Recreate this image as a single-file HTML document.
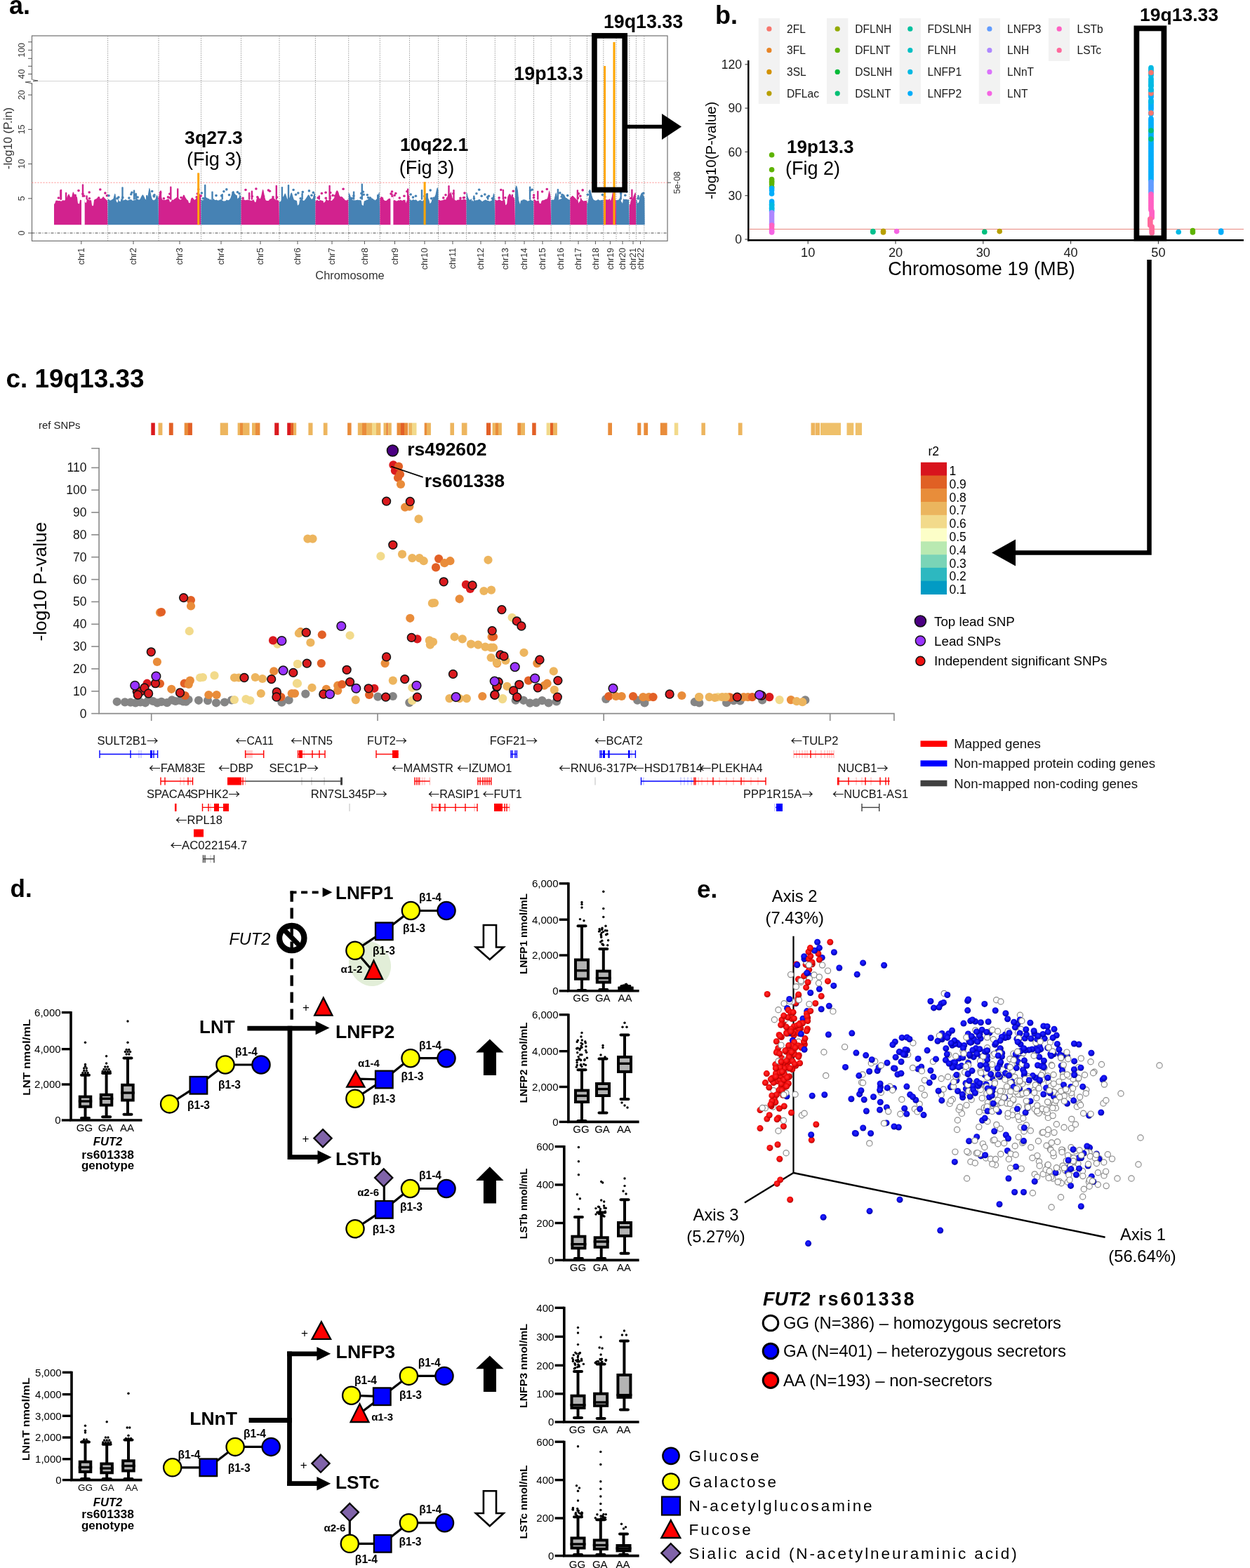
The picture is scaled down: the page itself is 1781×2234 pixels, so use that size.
<!DOCTYPE html>
<html><head><meta charset="utf-8"><title>Figure</title>
<style>html,body{margin:0;padding:0;background:#fff;}svg{display:block;}
text{font-family:"Liberation Sans", Arial, sans-serif;}</style></head>
<body><svg width="1781" height="2234" viewBox="0 0 1781 2234">
<rect width="1781" height="2234" fill="#fff"/>
<text x="13" y="20" font-size="36" font-weight="bold">a.</text>
<rect x="45.5" y="51" width="905.5" height="292.3" fill="none" stroke="#707070" stroke-width="1.2"/>
<line x1="45.5" y1="115.6" x2="951" y2="115.6" stroke="#d4d4d4" stroke-width="1"/>
<line x1="153.6" y1="51" x2="153.6" y2="343.3" stroke="#888" stroke-width="0.8" stroke-dasharray="1.5,1.5"/>
<line x1="226" y1="51" x2="226" y2="343.3" stroke="#888" stroke-width="0.8" stroke-dasharray="1.5,1.5"/>
<line x1="286.5" y1="51" x2="286.5" y2="343.3" stroke="#888" stroke-width="0.8" stroke-dasharray="1.5,1.5"/>
<line x1="343.5" y1="51" x2="343.5" y2="343.3" stroke="#888" stroke-width="0.8" stroke-dasharray="1.5,1.5"/>
<line x1="398" y1="51" x2="398" y2="343.3" stroke="#888" stroke-width="0.8" stroke-dasharray="1.5,1.5"/>
<line x1="449.4" y1="51" x2="449.4" y2="343.3" stroke="#888" stroke-width="0.8" stroke-dasharray="1.5,1.5"/>
<line x1="496.7" y1="51" x2="496.7" y2="343.3" stroke="#888" stroke-width="0.8" stroke-dasharray="1.5,1.5"/>
<line x1="541.3" y1="51" x2="541.3" y2="343.3" stroke="#888" stroke-width="0.8" stroke-dasharray="1.5,1.5"/>
<line x1="583.5" y1="51" x2="583.5" y2="343.3" stroke="#888" stroke-width="0.8" stroke-dasharray="1.5,1.5"/>
<line x1="624.5" y1="51" x2="624.5" y2="343.3" stroke="#888" stroke-width="0.8" stroke-dasharray="1.5,1.5"/>
<line x1="664.6" y1="51" x2="664.6" y2="343.3" stroke="#888" stroke-width="0.8" stroke-dasharray="1.5,1.5"/>
<line x1="705.3" y1="51" x2="705.3" y2="343.3" stroke="#888" stroke-width="0.8" stroke-dasharray="1.5,1.5"/>
<line x1="734" y1="51" x2="734" y2="343.3" stroke="#888" stroke-width="0.8" stroke-dasharray="1.5,1.5"/>
<line x1="760.5" y1="51" x2="760.5" y2="343.3" stroke="#888" stroke-width="0.8" stroke-dasharray="1.5,1.5"/>
<line x1="785.2" y1="51" x2="785.2" y2="343.3" stroke="#888" stroke-width="0.8" stroke-dasharray="1.5,1.5"/>
<line x1="812.3" y1="51" x2="812.3" y2="343.3" stroke="#888" stroke-width="0.8" stroke-dasharray="1.5,1.5"/>
<line x1="836.4" y1="51" x2="836.4" y2="343.3" stroke="#888" stroke-width="0.8" stroke-dasharray="1.5,1.5"/>
<line x1="859.8" y1="51" x2="859.8" y2="343.3" stroke="#888" stroke-width="0.8" stroke-dasharray="1.5,1.5"/>
<line x1="878" y1="51" x2="878" y2="343.3" stroke="#888" stroke-width="0.8" stroke-dasharray="1.5,1.5"/>
<line x1="896.8" y1="51" x2="896.8" y2="343.3" stroke="#888" stroke-width="0.8" stroke-dasharray="1.5,1.5"/>
<line x1="906.4" y1="51" x2="906.4" y2="343.3" stroke="#888" stroke-width="0.8" stroke-dasharray="1.5,1.5"/>
<line x1="917.8" y1="51" x2="917.8" y2="343.3" stroke="#888" stroke-width="0.8" stroke-dasharray="1.5,1.5"/>
<path d="M77 320.2 L77 286.2 L78 285.6 L79 285.9 L80 285.4 L81 285.8 L82 285.8 L83 285.9 L84 286.3 L85 285.8 L86 286.4 L87 286.4 L88 286.4 L89 285.2 L90 285.2 L91 285.5 L92 285.7 L93 284.3 L94 283.1 L95 281.9 L96 279.5 L97 277.8 L98 276.1 L99 278.1 L100 280.3 L101 283 L102 281.9 L103 276.7 L104 273.3 L105 274.2 L106 277.3 L107 278.2 L108 278.4 L109 279.7 L110 281.3 L111 289.7 L112 290.1 L113 290.6 L114 284.6 L115 285 L116 285.1 L117 284.9 L118 284.1 L119 282.8 L120 281.9 L121 288.1 L122 288.8 L123 288.8 L124 283.2 L125 284.1 L126 284.2 L127 285.2 L128 285 L129 285.3 L130 285.3 L131 292.4 L132 293.4 L133 292.7 L134 285 L135 284.2 L136 283.6 L137 283.6 L138 282.4 L139 281.7 L140 280.8 L141 281.7 L142 282.4 L143 282.9 L144 283.2 L145 282.4 L146 281.4 L147 279.7 L148 281.1 L149 282.1 L150 283.2 L151 284.1 L152 285 L153 285.7 L153.6 320.2 Z" fill="#D2228E"/>
<g fill="#D2228E"><circle cx="106.1" cy="281.3" r="1.8"/><circle cx="83.4" cy="282" r="1.8"/><circle cx="127.4" cy="282.8" r="1.8"/><circle cx="140.7" cy="281.7" r="1.8"/><circle cx="98.6" cy="282" r="1.8"/><circle cx="117.9" cy="276.2" r="1.8"/><circle cx="101.4" cy="282.2" r="1.8"/><circle cx="142.8" cy="270" r="1.8"/><circle cx="127.2" cy="274" r="1.8"/><circle cx="112" cy="271.6" r="1.8"/><circle cx="149.9" cy="275.1" r="1.8"/><circle cx="119.8" cy="279.3" r="1.8"/><circle cx="107.2" cy="278.2" r="1.8"/><circle cx="107.7" cy="281.7" r="1.8"/><circle cx="152.4" cy="278.8" r="1.8"/><rect x="85.8" y="269.7" width="2.4" height="15" rx="1.2"/><rect x="85.2" y="270.4" width="2.4" height="14.4" rx="1.2"/><rect x="116.8" y="262.3" width="2.4" height="22.4" rx="1.2"/><rect x="122.4" y="278.3" width="2.4" height="6.5" rx="1.2"/><rect x="92.9" y="273.9" width="2.4" height="10.9" rx="1.2"/></g>
<path d="M153.6 320.2 L153.6 283.7 L154.6 284 L155.6 284.2 L156.6 285.5 L157.6 285.6 L158.6 284.9 L159.6 284.2 L160.6 283.8 L161.6 282.7 L162.6 278.3 L163.6 275.4 L164.6 277 L165.6 286.2 L166.6 288.3 L167.6 288.5 L168.6 281.9 L169.6 286.9 L170.6 286.5 L171.6 287.4 L172.6 282.6 L173.6 283.8 L174.6 284.5 L175.6 285.6 L176.6 284.9 L177.6 285.1 L178.6 283.9 L179.6 284.6 L180.6 285 L181.6 285.6 L182.6 285.4 L183.6 284.7 L184.6 284.6 L185.6 284.2 L186.6 284 L187.6 284.7 L188.6 285.5 L189.6 286 L190.6 285.1 L191.6 285.2 L192.6 285 L193.6 285.1 L194.6 284 L195.6 283.5 L196.6 283.8 L197.6 284.8 L198.6 284.6 L199.6 283.8 L200.6 281.5 L201.6 279.5 L202.6 278 L203.6 277.2 L204.6 278.7 L205.6 280.6 L206.6 283.1 L207.6 284.2 L208.6 284.3 L209.6 283 L210.6 279.1 L211.6 273 L212.6 267.5 L213.6 269 L214.6 273.9 L215.6 279.5 L216.6 283 L217.6 284.7 L218.6 285.3 L219.6 285.3 L220.6 284.4 L221.6 283.5 L222.6 279.2 L223.6 277.7 L224.6 279.6 L225.6 283.5 L226 320.2 Z" fill="#4682B4"/>
<g fill="#4682B4"><circle cx="216.7" cy="272.5" r="1.8"/><circle cx="168.9" cy="281.1" r="1.8"/><circle cx="174.8" cy="281.2" r="1.8"/><circle cx="196.1" cy="281" r="1.8"/><circle cx="183.9" cy="282.1" r="1.8"/><circle cx="219.5" cy="279.9" r="1.8"/><circle cx="186.8" cy="276.7" r="1.8"/><circle cx="219.1" cy="279" r="1.8"/><circle cx="220" cy="277.9" r="1.8"/><circle cx="192.1" cy="277.6" r="1.8"/><circle cx="155" cy="278.8" r="1.8"/><circle cx="166.9" cy="282.8" r="1.8"/><circle cx="211.5" cy="281.8" r="1.8"/><circle cx="187.9" cy="274.3" r="1.8"/><rect x="192.5" y="274.7" width="2.4" height="10" rx="1.2"/><rect x="189.9" y="270.6" width="2.4" height="14.2" rx="1.2"/><rect x="208" y="277.9" width="2.4" height="6.9" rx="1.2"/><rect x="192.7" y="276" width="2.4" height="8.8" rx="1.2"/><rect x="173.3" y="266.2" width="2.4" height="18.6" rx="1.2"/></g>
<path d="M226 320.2 L226 281 L227 276.1 L228 273 L229 275.7 L230 280.5 L231 283.9 L232 284.7 L233 284.7 L234 284.8 L235 284.8 L236 285.1 L237 284.3 L238 284.1 L239 283.5 L240 283.5 L241 284.2 L242 287.8 L243 287.8 L244 286.9 L245 284 L246 284.9 L247 284.8 L248 284 L249 282.9 L250 282.7 L251 281.5 L252 281 L253 280.5 L254 282.2 L255 283.2 L256 284.2 L257 284.6 L258 284.2 L259 282.9 L260 280.7 L261 278 L262 277.6 L263 278.4 L264 281 L265 282.4 L266 283.9 L267 285.1 L268 285.6 L269 289.1 L270 289.2 L271 288.8 L272 283.2 L273 282.1 L274 281.2 L275 282.2 L276 283.4 L277 284.7 L278 284.6 L279 283.3 L280 282.4 L281 280 L282 277.7 L283 274.8 L284 275.5 L285 276.9 L286 279.6 L286.5 320.2 Z" fill="#D2228E"/>
<g fill="#D2228E"><circle cx="280.2" cy="280.9" r="1.8"/><circle cx="227" cy="282.4" r="1.8"/><circle cx="241.8" cy="276.3" r="1.8"/><circle cx="239.5" cy="280.9" r="1.8"/><circle cx="233.4" cy="282.8" r="1.8"/><circle cx="286.2" cy="279.1" r="1.8"/><circle cx="281.4" cy="276" r="1.8"/><circle cx="228.6" cy="274.6" r="1.8"/><circle cx="282.8" cy="269.7" r="1.8"/><circle cx="241.8" cy="281.7" r="1.8"/><circle cx="282.4" cy="275.9" r="1.8"/><circle cx="258.1" cy="281.5" r="1.8"/><rect x="252" y="268.3" width="2.4" height="16.5" rx="1.2"/><rect x="242.1" y="265.5" width="2.4" height="19.2" rx="1.2"/><rect x="283" y="278.6" width="2.4" height="6.1" rx="1.2"/><rect x="227.8" y="271.6" width="2.4" height="13.2" rx="1.2"/></g>
<path d="M286.5 320.2 L286.5 283.9 L287.5 284.7 L288.5 285.4 L289.5 285.1 L290.5 284.3 L291.5 283.4 L292.5 282.4 L293.5 280.6 L294.5 281.9 L295.5 281.7 L296.5 283.3 L297.5 282.6 L298.5 284.2 L299.5 284.3 L300.5 284.2 L301.5 284.5 L302.5 284.5 L303.5 284.1 L304.5 283.1 L305.5 284.5 L306.5 285 L307.5 285 L308.5 284.4 L309.5 285.2 L310.5 285.5 L311.5 285.6 L312.5 284.9 L313.5 284.5 L314.5 284.2 L315.5 283.9 L316.5 285.3 L317.5 285.9 L318.5 286.5 L319.5 286.6 L320.5 286.3 L321.5 286.2 L322.5 284.7 L323.5 284.8 L324.5 285.2 L325.5 285.2 L326.5 284.8 L327.5 283.4 L328.5 281.9 L329.5 278.8 L330.5 275.2 L331.5 272.5 L332.5 272.1 L333.5 272.9 L334.5 275.9 L335.5 276.8 L336.5 278.6 L337.5 277.6 L338.5 283.5 L339.5 281.9 L340.5 281.6 L341.5 276.8 L342.5 278.3 L343.5 281 L343.5 320.2 Z" fill="#4682B4"/>
<g fill="#4682B4"><circle cx="315.7" cy="278.9" r="1.8"/><circle cx="326.5" cy="277.8" r="1.8"/><circle cx="338.4" cy="273.8" r="1.8"/><circle cx="318.9" cy="272.7" r="1.8"/><circle cx="287.4" cy="275" r="1.8"/><circle cx="332" cy="274.5" r="1.8"/><circle cx="341" cy="275.7" r="1.8"/><circle cx="291.4" cy="282.7" r="1.8"/><circle cx="322.8" cy="269.9" r="1.8"/><circle cx="308" cy="278.6" r="1.8"/><circle cx="289.4" cy="282.8" r="1.8"/><rect x="315.5" y="276" width="2.4" height="8.7" rx="1.2"/><rect x="301.3" y="272.5" width="2.4" height="12.3" rx="1.2"/><rect x="291" y="262.7" width="2.4" height="22.1" rx="1.2"/><rect x="334.9" y="278.1" width="2.4" height="6.7" rx="1.2"/></g>
<path d="M343.5 320.2 L343.5 284.4 L344.5 284.7 L345.5 284.2 L346.5 284.1 L347.5 284.4 L348.5 284.5 L349.5 285.4 L350.5 284.8 L351.5 285.2 L352.5 284.3 L353.5 285.2 L354.5 284.5 L355.5 285.3 L356.5 285.4 L357.5 285.8 L358.5 285.9 L359.5 285 L360.5 285.2 L361.5 284.1 L362.5 286.7 L363.5 288.2 L364.5 287.8 L365.5 283.7 L366.5 280.6 L367.5 279.7 L368.5 281.1 L369.5 282.5 L370.5 283.6 L371.5 281.6 L372.5 277.8 L373.5 272.4 L374.5 269.5 L375.5 271.4 L376.5 276.9 L377.5 281.8 L378.5 285 L379.5 285.8 L380.5 285.9 L381.5 286 L382.5 285.9 L383.5 284.9 L384.5 283.5 L385.5 283.5 L386.5 283 L387.5 281.9 L388.5 280.9 L389.5 281.4 L390.5 282.4 L391.5 283.6 L392.5 284.4 L393.5 285.2 L394.5 284.8 L395.5 285 L396.5 285.7 L397.5 286.4 L398 320.2 Z" fill="#D2228E"/>
<g fill="#D2228E"><circle cx="384.4" cy="272.2" r="1.8"/><circle cx="350" cy="270.5" r="1.8"/><circle cx="382.4" cy="271" r="1.8"/><circle cx="359.3" cy="279.7" r="1.8"/><circle cx="364.9" cy="269" r="1.8"/><circle cx="375.6" cy="279.8" r="1.8"/><circle cx="366.8" cy="280.8" r="1.8"/><circle cx="346.1" cy="282.4" r="1.8"/><circle cx="389" cy="280.7" r="1.8"/><circle cx="394.5" cy="281.1" r="1.8"/><rect x="357.7" y="271.5" width="2.4" height="13.3" rx="1.2"/><rect x="353.9" y="273.9" width="2.4" height="10.8" rx="1.2"/><rect x="392.6" y="263.8" width="2.4" height="21" rx="1.2"/></g>
<path d="M398 320.2 L398 287.6 L399 287.3 L400 287 L401 283.3 L402 282.8 L403 282.4 L404 279.5 L405 277.4 L406 275.3 L407 276.5 L408 279.3 L409 282.8 L410 284 L411 284.4 L412 282.4 L413 280.2 L414 276.3 L415 274.3 L416 275 L417 278.7 L418 282 L419 284.7 L420 284.8 L421 285.4 L422 285.6 L423 286.2 L424 292.9 L425 291.8 L426 291.3 L427 284.8 L428 284.8 L429 284.1 L430 283.7 L431 284.8 L432 285.8 L433 286 L434 285 L435 284.1 L436 282.4 L437 281.1 L438 279.2 L439 277.8 L440 277.5 L441 278.9 L442 281.1 L443 282.8 L444 283.7 L445 283.5 L446 281.8 L447 277.8 L448 274.7 L449 276.1 L449.4 320.2 Z" fill="#4682B4"/>
<g fill="#4682B4"><circle cx="444" cy="278.3" r="1.8"/><circle cx="428.2" cy="282.8" r="1.8"/><circle cx="418.1" cy="270.5" r="1.8"/><circle cx="440.4" cy="271.9" r="1.8"/><circle cx="448" cy="281.1" r="1.8"/><circle cx="403.6" cy="282" r="1.8"/><circle cx="424.8" cy="275" r="1.8"/><circle cx="446.4" cy="274.4" r="1.8"/><circle cx="431.3" cy="273.6" r="1.8"/><circle cx="421.5" cy="277.2" r="1.8"/><rect x="400.7" y="266" width="2.4" height="18.8" rx="1.2"/><rect x="409.8" y="263" width="2.4" height="21.8" rx="1.2"/><rect x="429.4" y="275.1" width="2.4" height="9.7" rx="1.2"/></g>
<path d="M449.4 320.2 L449.4 286.4 L450.4 285.7 L451.4 284.9 L452.4 285.1 L453.4 285.9 L454.4 286.2 L455.4 285.5 L456.4 285 L457.4 285.5 L458.4 285.4 L459.4 286 L460.4 285.9 L461.4 289.2 L462.4 287.8 L463.4 287.2 L464.4 283.6 L465.4 284.3 L466.4 284.9 L467.4 285.8 L468.4 285.1 L469.4 284.4 L470.4 284.3 L471.4 285.7 L472.4 285.9 L473.4 285.2 L474.4 284.1 L475.4 283.3 L476.4 281.2 L477.4 277.4 L478.4 273.8 L479.4 271.7 L480.4 271.3 L481.4 272.3 L482.4 274.3 L483.4 277.9 L484.4 279.8 L485.4 280.5 L486.4 279.8 L487.4 280.5 L488.4 281 L489.4 282.8 L490.4 283.1 L491.4 284.9 L492.4 285.3 L493.4 285.4 L494.4 285.3 L495.4 284.3 L496.4 284.5 L496.7 320.2 Z" fill="#D2228E"/>
<g fill="#D2228E"><circle cx="477.6" cy="279.1" r="1.8"/><circle cx="483" cy="281.7" r="1.8"/><circle cx="470.7" cy="274.5" r="1.8"/><circle cx="464.3" cy="282.3" r="1.8"/><circle cx="453.2" cy="281.9" r="1.8"/><circle cx="458.4" cy="275.5" r="1.8"/><circle cx="474.2" cy="278.4" r="1.8"/><circle cx="464.1" cy="274.3" r="1.8"/><circle cx="489.1" cy="269.3" r="1.8"/><rect x="469.4" y="277.9" width="2.4" height="6.9" rx="1.2"/><rect x="453.6" y="278.2" width="2.4" height="6.6" rx="1.2"/><rect x="468.4" y="263.7" width="2.4" height="21" rx="1.2"/></g>
<path d="M496.7 320.2 L496.7 274.2 L497.7 275.5 L498.7 277.4 L499.7 280.6 L500.7 282 L501.7 284.4 L502.7 284.5 L503.7 285.6 L504.7 285.1 L505.7 285.5 L506.7 285.3 L507.7 285 L508.7 285 L509.7 284.5 L510.7 285.2 L511.7 285 L512.7 285.3 L513.7 285.2 L514.7 285.4 L515.7 292 L516.7 292.5 L517.7 292.9 L518.7 286.8 L519.7 286 L520.7 285.7 L521.7 285.3 L522.7 284.6 L523.7 284.8 L524.7 283.4 L525.7 282.6 L526.7 280.1 L527.7 280.3 L528.7 280.7 L529.7 282.4 L530.7 282.8 L531.7 283.3 L532.7 284.4 L533.7 284.4 L534.7 285.6 L535.7 284.2 L536.7 283.6 L537.7 280.7 L538.7 277.9 L539.7 274.8 L540.7 273.7 L541.3 320.2 Z" fill="#4682B4"/>
<g fill="#4682B4"><circle cx="517.3" cy="273.2" r="1.8"/><circle cx="523.3" cy="277.8" r="1.8"/><circle cx="514.2" cy="281.9" r="1.8"/><circle cx="514.9" cy="275.6" r="1.8"/><circle cx="518.2" cy="277.3" r="1.8"/><circle cx="503.9" cy="279" r="1.8"/><circle cx="501.4" cy="282.5" r="1.8"/><circle cx="524.6" cy="281.5" r="1.8"/><rect x="514.6" y="261.4" width="2.4" height="23.4" rx="1.2"/><rect x="537" y="277.1" width="2.4" height="7.7" rx="1.2"/><rect x="502.9" y="272.4" width="2.4" height="12.4" rx="1.2"/></g>
<path d="M541.3 320.2 L541.3 282.8 L542.3 280.9 L543.3 280.2 L544.3 280.3 L545.3 281.8 L546.3 283.9 L547.3 285.1 L548.3 286 L549.3 286 L550.3 285.9 L551.3 285.2 L552.3 284.3 L553.3 283.2 L554.3 282.9 L555.3 282.4 L556.3 283.6 L557.3 284.9 L558.3 286.3 L559.3 286.4 L560.3 285.7 L561.3 285.1 L562.3 285.3 L563.3 285.4 L564.3 286.3 L565.3 286.5 L566.3 285.9 L567.3 285.6 L568.3 284.9 L569.3 285.7 L570.3 284.7 L571.3 285 L572.3 285.5 L573.3 285.9 L574.3 285 L575.3 284.7 L576.3 285 L577.3 284.6 L578.3 289.5 L579.3 286.5 L580.3 284.1 L581.3 276 L582.3 277.7 L583.3 280.4 L583.5 320.2 Z" fill="#D2228E"/>
<g fill="#D2228E"><circle cx="579.9" cy="272.7" r="1.8"/><circle cx="575.9" cy="279.2" r="1.8"/><circle cx="557" cy="276.1" r="1.8"/><circle cx="544.6" cy="282.7" r="1.8"/><circle cx="562.2" cy="278.2" r="1.8"/><circle cx="558.5" cy="273" r="1.8"/><circle cx="569.3" cy="282" r="1.8"/><circle cx="563.8" cy="275.5" r="1.8"/><rect x="557.3" y="275.6" width="2.4" height="9.2" rx="1.2"/><rect x="579.9" y="268.4" width="2.4" height="16.4" rx="1.2"/><rect x="558.1" y="278.5" width="2.4" height="6.3" rx="1.2"/></g>
<path d="M583.5 320.2 L583.5 283.6 L584.5 284.2 L585.5 285.3 L586.5 285.5 L587.5 284.9 L588.5 284 L589.5 284.5 L590.5 285.1 L591.5 284.7 L592.5 284.6 L593.5 285 L594.5 286.2 L595.5 286.7 L596.5 286.1 L597.5 285.7 L598.5 284.7 L599.5 285.4 L600.5 285.8 L601.5 286.7 L602.5 285.8 L603.5 285.2 L604.5 284.5 L605.5 283.6 L606.5 280.9 L607.5 278 L608.5 277 L609.5 279.7 L610.5 283.2 L611.5 285.8 L612.5 290 L613.5 289.3 L614.5 288.1 L615.5 283.5 L616.5 283.7 L617.5 282.9 L618.5 282.6 L619.5 279.6 L620.5 277.4 L621.5 272.3 L622.5 268.1 L623.5 266.9 L624.5 271 L624.5 320.2 Z" fill="#4682B4"/>
<g fill="#4682B4"><circle cx="592.4" cy="279.3" r="1.8"/><circle cx="604.7" cy="279.5" r="1.8"/><circle cx="588.5" cy="281.1" r="1.8"/><circle cx="613.2" cy="271.1" r="1.8"/><circle cx="585.2" cy="277" r="1.8"/><circle cx="614.6" cy="282.7" r="1.8"/><circle cx="617.9" cy="282.2" r="1.8"/><circle cx="608.1" cy="277.2" r="1.8"/><rect x="607.5" y="275.1" width="2.4" height="9.7" rx="1.2"/><rect x="599.8" y="270.1" width="2.4" height="14.7" rx="1.2"/></g>
<path d="M624.5 320.2 L624.5 284.8 L625.5 285 L626.5 284.9 L627.5 285.9 L628.5 285.6 L629.5 285.6 L630.5 285.2 L631.5 285 L632.5 284.6 L633.5 284.1 L634.5 284.6 L635.5 284.1 L636.5 282.7 L637.5 279.8 L638.5 276.4 L639.5 278.5 L640.5 275.6 L641.5 275.4 L642.5 272.8 L643.5 277 L644.5 281.7 L645.5 283.2 L646.5 284.2 L647.5 284 L648.5 285.2 L649.5 285.6 L650.5 285.8 L651.5 284.5 L652.5 285.1 L653.5 284.4 L654.5 284.3 L655.5 283.4 L656.5 283.5 L657.5 284.7 L658.5 284.3 L659.5 284.8 L660.5 283.6 L661.5 283.7 L662.5 284.2 L663.5 284.5 L664.5 285.1 L664.6 320.2 Z" fill="#D2228E"/>
<g fill="#D2228E"><circle cx="661.4" cy="281.5" r="1.8"/><circle cx="635" cy="277.8" r="1.8"/><circle cx="637.3" cy="282.7" r="1.8"/><circle cx="631.8" cy="281.9" r="1.8"/><circle cx="662" cy="275.1" r="1.8"/><circle cx="660.4" cy="281.8" r="1.8"/><circle cx="656" cy="282.3" r="1.8"/><circle cx="645.8" cy="275.8" r="1.8"/><rect x="638.3" y="264" width="2.4" height="20.7" rx="1.2"/><rect x="645.3" y="270.1" width="2.4" height="14.6" rx="1.2"/></g>
<path d="M664.6 320.2 L664.6 273.8 L665.6 275.3 L666.6 280.1 L667.6 282.8 L668.6 284.2 L669.6 285 L670.6 283.9 L671.6 282.9 L672.6 286.8 L673.6 285 L674.6 287.3 L675.6 283.6 L676.6 285 L677.6 285.8 L678.6 284.8 L679.6 285.6 L680.6 284.7 L681.6 284.5 L682.6 284 L683.6 283.9 L684.6 284.9 L685.6 285.8 L686.6 286.7 L687.6 287 L688.6 286 L689.6 285.5 L690.6 284.9 L691.6 284.5 L692.6 285 L693.6 285.4 L694.6 285.7 L695.6 285.9 L696.6 286.2 L697.6 286.7 L698.6 286.5 L699.6 285.9 L700.6 285.4 L701.6 282.1 L702.6 277.4 L703.6 274.9 L704.6 277.7 L705.3 320.2 Z" fill="#4682B4"/>
<g fill="#4682B4"><circle cx="696.4" cy="279.3" r="1.8"/><circle cx="675.4" cy="282.8" r="1.8"/><circle cx="690.8" cy="277" r="1.8"/><circle cx="678.9" cy="275.7" r="1.8"/><circle cx="682.7" cy="270.3" r="1.8"/><circle cx="694.5" cy="281.1" r="1.8"/><circle cx="701.4" cy="282.7" r="1.8"/><circle cx="686.2" cy="279.2" r="1.8"/><rect x="674.1" y="278.4" width="2.4" height="6.3" rx="1.2"/><rect x="694" y="278.8" width="2.4" height="6" rx="1.2"/></g>
<path d="M705.3 320.2 L705.3 283.9 L706.3 284.8 L707.3 285.3 L708.3 285.8 L709.3 285.3 L710.3 284.6 L711.3 284.3 L712.3 284.8 L713.3 285.3 L714.3 286.1 L715.3 286.3 L716.3 285.4 L717.3 284.7 L718.3 283.7 L719.3 284.9 L720.3 292.3 L721.3 291.7 L722.3 289.9 L723.3 280.5 L724.3 278.6 L725.3 276.6 L726.3 276.2 L727.3 276.7 L728.3 278.7 L729.3 280.9 L730.3 282.4 L731.3 283.1 L732.3 283.3 L733.3 283.6 L734 320.2 Z" fill="#D2228E"/>
<g fill="#D2228E"><circle cx="713.8" cy="270.5" r="1.8"/><circle cx="731" cy="282.5" r="1.8"/><circle cx="719.9" cy="281.8" r="1.8"/><circle cx="731.3" cy="272.2" r="1.8"/><circle cx="711.1" cy="281.9" r="1.8"/><rect x="728.7" y="276.8" width="2.4" height="8" rx="1.2"/><rect x="715.7" y="269.7" width="2.4" height="15" rx="1.2"/></g>
<path d="M734 320.2 L734 268.7 L735 265.3 L736 264.3 L737 267.1 L738 272.2 L739 284.4 L740 288.3 L741 291.1 L742 285.8 L743 285.6 L744 285.4 L745 284.2 L746 284.4 L747 284.2 L748 284.6 L749 285 L750 285.3 L751 286.1 L752 286.8 L753 286.1 L754 285.9 L755 284.6 L756 284.5 L757 284.7 L758 285.9 L759 286 L760 285.5 L760.5 320.2 Z" fill="#4682B4"/>
<g fill="#4682B4"><circle cx="755.7" cy="271.2" r="1.8"/><circle cx="735.7" cy="271.7" r="1.8"/><circle cx="758.2" cy="270.2" r="1.8"/><circle cx="736.8" cy="281.5" r="1.8"/><circle cx="737" cy="282.7" r="1.8"/><rect x="753.9" y="265.4" width="2.4" height="19.4" rx="1.2"/></g>
<path d="M760.5 320.2 L760.5 284 L761.5 284.1 L762.5 284.7 L763.5 285.7 L764.5 286.5 L765.5 285.8 L766.5 285.7 L767.5 285.3 L768.5 289.6 L769.5 289.9 L770.5 290 L771.5 286.4 L772.5 285.4 L773.5 285.2 L774.5 285.2 L775.5 284.8 L776.5 284.5 L777.5 283.6 L778.5 283.8 L779.5 283.3 L780.5 280.8 L781.5 275.4 L782.5 270.9 L783.5 274.4 L784.5 279.9 L785.2 320.2 Z" fill="#D2228E"/>
<g fill="#D2228E"><circle cx="760.5" cy="281.5" r="1.8"/><circle cx="779.3" cy="269.5" r="1.8"/><circle cx="760.6" cy="278.1" r="1.8"/><circle cx="772.6" cy="273" r="1.8"/><rect x="765.1" y="271.8" width="2.4" height="13" rx="1.2"/></g>
<path d="M785.2 320.2 L785.2 284.6 L786.2 285.1 L787.2 284.2 L788.2 284.9 L789.2 284.4 L790.2 282.1 L791.2 276.8 L792.2 274 L793.2 277 L794.2 282.6 L795.2 284.3 L796.2 284.8 L797.2 283.7 L798.2 283.7 L799.2 283.5 L800.2 282.8 L801.2 281.1 L802.2 277.9 L803.2 276.4 L804.2 278 L805.2 280 L806.2 281.9 L807.2 282.1 L808.2 282.8 L809.2 283.7 L810.2 284.2 L811.2 284.5 L812.2 284.4 L812.3 320.2 Z" fill="#4682B4"/>
<g fill="#4682B4"><circle cx="801" cy="277.6" r="1.8"/><circle cx="808.7" cy="278.6" r="1.8"/><circle cx="800.2" cy="280.3" r="1.8"/><circle cx="797.8" cy="274.9" r="1.8"/><circle cx="792.2" cy="281.3" r="1.8"/><rect x="793.7" y="268.9" width="2.4" height="15.9" rx="1.2"/></g>
<path d="M812.3 320.2 L812.3 281.7 L813.3 281 L814.3 279.9 L815.3 279.1 L816.3 278.9 L817.3 280 L818.3 281 L819.3 281.9 L820.3 282.9 L821.3 284.3 L822.3 285.1 L823.3 284.1 L824.3 289.7 L825.3 287.6 L826.3 287.1 L827.3 281.3 L828.3 282.8 L829.3 285 L830.3 285.5 L831.3 286.4 L832.3 286.3 L833.3 286.1 L834.3 285.9 L835.3 286.2 L836.3 286.4 L836.4 320.2 Z" fill="#D2228E"/>
<g fill="#D2228E"><circle cx="824.4" cy="275.9" r="1.8"/><circle cx="823.5" cy="282.1" r="1.8"/><circle cx="826.8" cy="279.3" r="1.8"/><circle cx="830.2" cy="270.9" r="1.8"/><rect x="821.7" y="270.3" width="2.4" height="14.5" rx="1.2"/></g>
<path d="M836.4 320.2 L836.4 289.4 L837.4 289.5 L838.4 283.2 L839.4 279.4 L840.4 274.7 L841.4 272.9 L842.4 274.8 L843.4 278.8 L844.4 282 L845.4 284.1 L846.4 285 L847.4 285.2 L848.4 285.7 L849.4 285.5 L850.4 285.3 L851.4 284.4 L852.4 284.1 L853.4 284.9 L854.4 285.3 L855.4 285.6 L856.4 285 L857.4 285 L858.4 284.7 L859.4 284.8 L859.8 320.2 Z" fill="#4682B4"/>
<g fill="#4682B4"><circle cx="847.9" cy="269.5" r="1.8"/><circle cx="837.3" cy="277.3" r="1.8"/><circle cx="840.2" cy="273.3" r="1.8"/><circle cx="858.4" cy="277.6" r="1.8"/><rect x="839.2" y="270.2" width="2.4" height="14.5" rx="1.2"/></g>
<path d="M859.8 320.2 L859.8 284.4 L860.8 284.6 L861.8 284.5 L862.8 284.3 L863.8 284.3 L864.8 284.6 L865.8 284.4 L866.8 284.7 L867.8 283.7 L868.8 283.3 L869.8 286.1 L870.8 283.9 L871.8 280.3 L872.8 274 L873.8 275.2 L874.8 279 L875.8 281.9 L876.8 284.2 L877.8 285.5 L878 320.2 Z" fill="#D2228E"/>
<g fill="#D2228E"><circle cx="861.8" cy="280.5" r="1.8"/><circle cx="867.1" cy="270" r="1.8"/><circle cx="877.5" cy="269.1" r="1.8"/><rect x="874.2" y="272.4" width="2.4" height="12.4" rx="1.2"/></g>
<path d="M878 320.2 L878 284.8 L879 285.5 L880 284.5 L881 285.3 L882 283.6 L883 282.2 L884 279.5 L885 287.2 L886 288.1 L887 289.9 L888 282.7 L889 283.9 L890 283.9 L891 284 L892 283.7 L893 284 L894 284.4 L895 284.2 L896 284.5 L896.8 320.2 Z" fill="#4682B4"/>
<g fill="#4682B4"><circle cx="890.8" cy="278.2" r="1.8"/><circle cx="893.1" cy="273" r="1.8"/><circle cx="884.7" cy="275.5" r="1.8"/><rect x="883.5" y="272" width="2.4" height="12.8" rx="1.2"/></g>
<path d="M896.8 320.2 L896.8 291.8 L897.8 291 L898.8 285.3 L899.8 284.5 L900.8 284.1 L901.8 282.1 L902.8 278.9 L903.8 276.5 L904.8 274.2 L905.8 275.1 L906.4 320.2 Z" fill="#D2228E"/>
<g fill="#D2228E"><circle cx="898.8" cy="282.5" r="1.8"/><rect x="899.2" y="269.6" width="2.4" height="15.2" rx="1.2"/></g>
<path d="M906.4 320.2 L906.4 284 L907.4 284.6 L908.4 289.8 L909.4 289.1 L910.4 287.6 L911.4 280.2 L912.4 278.2 L913.4 275.8 L914.4 274.6 L915.4 274.7 L916.4 277.3 L917.4 279.4 L918.4 282.1 L918.7 320.2 Z" fill="#4682B4"/>
<g fill="#4682B4"><circle cx="909" cy="282.5" r="1.8"/><circle cx="916.7" cy="275.2" r="1.8"/><rect x="908.2" y="277.8" width="2.4" height="7" rx="1.2"/></g>
<path d="M76 283.8 Q76.5 297.6 80 283.8 L76 283.8 Z" fill="#fff"/>
<rect x="116" y="280.8" width="4.7" height="40" fill="#fff"/>
<rect x="556.4" y="280.8" width="4" height="40" fill="#fff"/>
<line x1="45.5" y1="332" x2="951" y2="332" stroke="#333" stroke-width="0.9" stroke-dasharray="4,2,1,2"/>
<line x1="45.5" y1="260.2" x2="951" y2="260.2" stroke="#ff8080" stroke-width="0.9" stroke-dasharray="2,2"/>
<rect x="281.2" y="246.4" width="3" height="73.8" fill="#FFA500"/>
<rect x="603.6" y="259.2" width="3" height="61" fill="#FFA500"/>
<rect x="860.2" y="94" width="2.8" height="226.2" fill="#FFA500"/>
<rect x="873.5" y="60" width="3" height="260.2" fill="#FFA500"/>
<line x1="40" y1="332" x2="45.5" y2="332" stroke="#555" stroke-width="1"/>
<text transform="translate(35 332) rotate(-90)" font-size="12.5" text-anchor="middle" fill="#333">0</text>
<line x1="40" y1="282.8" x2="45.5" y2="282.8" stroke="#555" stroke-width="1"/>
<text transform="translate(35 282.8) rotate(-90)" font-size="12.5" text-anchor="middle" fill="#333">5</text>
<line x1="40" y1="233.6" x2="45.5" y2="233.6" stroke="#555" stroke-width="1"/>
<text transform="translate(35 233.6) rotate(-90)" font-size="12.5" text-anchor="middle" fill="#333">10</text>
<line x1="40" y1="184.4" x2="45.5" y2="184.4" stroke="#555" stroke-width="1"/>
<text transform="translate(35 184.4) rotate(-90)" font-size="12.5" text-anchor="middle" fill="#333">15</text>
<line x1="40" y1="135.2" x2="45.5" y2="135.2" stroke="#555" stroke-width="1"/>
<text transform="translate(35 135.2) rotate(-90)" font-size="12.5" text-anchor="middle" fill="#333">20</text>
<line x1="40" y1="59.8" x2="45.5" y2="59.8" stroke="#555" stroke-width="1"/>
<line x1="40" y1="71.4" x2="45.5" y2="71.4" stroke="#555" stroke-width="1"/>
<line x1="40" y1="83.3" x2="45.5" y2="83.3" stroke="#555" stroke-width="1"/>
<line x1="40" y1="94.3" x2="45.5" y2="94.3" stroke="#555" stroke-width="1"/>
<line x1="40" y1="105.5" x2="45.5" y2="105.5" stroke="#555" stroke-width="1"/>
<text transform="translate(35 71.4) rotate(-90)" font-size="12.5" text-anchor="middle" fill="#333">100</text>
<text transform="translate(35 105.5) rotate(-90)" font-size="12.5" text-anchor="middle" fill="#333">40</text>
<path d="M45.5 112 L45.5 113.5 L54 115 L36 117 L45.5 118.8 L45.5 121" fill="none" stroke="#555" stroke-width="1"/>
<rect x="44" y="113.6" width="3" height="4.5" fill="#fff"/>
<text transform="translate(17 197) rotate(-90)" font-size="16.6" text-anchor="middle" fill="#333">-log10 (P.in)</text>
<line x1="115.8" y1="343.3" x2="115.8" y2="348" stroke="#555" stroke-width="1"/>
<text transform="translate(120.1 353) rotate(-90)" font-size="12.5" text-anchor="end" fill="#333">chr1</text>
<line x1="190" y1="343.3" x2="190" y2="348" stroke="#555" stroke-width="1"/>
<text transform="translate(194.3 353) rotate(-90)" font-size="12.5" text-anchor="end" fill="#333">chr2</text>
<line x1="256" y1="343.3" x2="256" y2="348" stroke="#555" stroke-width="1"/>
<text transform="translate(260.3 353) rotate(-90)" font-size="12.5" text-anchor="end" fill="#333">chr3</text>
<line x1="315" y1="343.3" x2="315" y2="348" stroke="#555" stroke-width="1"/>
<text transform="translate(319.3 353) rotate(-90)" font-size="12.5" text-anchor="end" fill="#333">chr4</text>
<line x1="371" y1="343.3" x2="371" y2="348" stroke="#555" stroke-width="1"/>
<text transform="translate(375.3 353) rotate(-90)" font-size="12.5" text-anchor="end" fill="#333">chr5</text>
<line x1="424" y1="343.3" x2="424" y2="348" stroke="#555" stroke-width="1"/>
<text transform="translate(428.3 353) rotate(-90)" font-size="12.5" text-anchor="end" fill="#333">chr6</text>
<line x1="473" y1="343.3" x2="473" y2="348" stroke="#555" stroke-width="1"/>
<text transform="translate(477.3 353) rotate(-90)" font-size="12.5" text-anchor="end" fill="#333">chr7</text>
<line x1="519.4" y1="343.3" x2="519.4" y2="348" stroke="#555" stroke-width="1"/>
<text transform="translate(523.7 353) rotate(-90)" font-size="12.5" text-anchor="end" fill="#333">chr8</text>
<line x1="562.5" y1="343.3" x2="562.5" y2="348" stroke="#555" stroke-width="1"/>
<text transform="translate(566.8 353) rotate(-90)" font-size="12.5" text-anchor="end" fill="#333">chr9</text>
<line x1="605" y1="343.3" x2="605" y2="348" stroke="#555" stroke-width="1"/>
<text transform="translate(609.3 353) rotate(-90)" font-size="12.5" text-anchor="end" fill="#333">chr10</text>
<line x1="645" y1="343.3" x2="645" y2="348" stroke="#555" stroke-width="1"/>
<text transform="translate(649.3 353) rotate(-90)" font-size="12.5" text-anchor="end" fill="#333">chr11</text>
<line x1="685" y1="343.3" x2="685" y2="348" stroke="#555" stroke-width="1"/>
<text transform="translate(689.3 353) rotate(-90)" font-size="12.5" text-anchor="end" fill="#333">chr12</text>
<line x1="720" y1="343.3" x2="720" y2="348" stroke="#555" stroke-width="1"/>
<text transform="translate(724.3 353) rotate(-90)" font-size="12.5" text-anchor="end" fill="#333">chr13</text>
<line x1="747" y1="343.3" x2="747" y2="348" stroke="#555" stroke-width="1"/>
<text transform="translate(751.3 353) rotate(-90)" font-size="12.5" text-anchor="end" fill="#333">chr14</text>
<line x1="773" y1="343.3" x2="773" y2="348" stroke="#555" stroke-width="1"/>
<text transform="translate(777.3 353) rotate(-90)" font-size="12.5" text-anchor="end" fill="#333">chr15</text>
<line x1="799" y1="343.3" x2="799" y2="348" stroke="#555" stroke-width="1"/>
<text transform="translate(803.3 353) rotate(-90)" font-size="12.5" text-anchor="end" fill="#333">chr16</text>
<line x1="824" y1="343.3" x2="824" y2="348" stroke="#555" stroke-width="1"/>
<text transform="translate(828.3 353) rotate(-90)" font-size="12.5" text-anchor="end" fill="#333">chr17</text>
<line x1="848.4" y1="343.3" x2="848.4" y2="348" stroke="#555" stroke-width="1"/>
<text transform="translate(852.7 353) rotate(-90)" font-size="12.5" text-anchor="end" fill="#333">chr18</text>
<line x1="869.4" y1="343.3" x2="869.4" y2="348" stroke="#555" stroke-width="1"/>
<text transform="translate(873.7 353) rotate(-90)" font-size="12.5" text-anchor="end" fill="#333">chr19</text>
<line x1="887" y1="343.3" x2="887" y2="348" stroke="#555" stroke-width="1"/>
<text transform="translate(891.3 353) rotate(-90)" font-size="12.5" text-anchor="end" fill="#333">chr20</text>
<line x1="902" y1="343.3" x2="902" y2="348" stroke="#555" stroke-width="1"/>
<text transform="translate(906.3 353) rotate(-90)" font-size="12.5" text-anchor="end" fill="#333">chr21</text>
<line x1="912.5" y1="343.3" x2="912.5" y2="348" stroke="#555" stroke-width="1"/>
<text transform="translate(916.8 353) rotate(-90)" font-size="12.5" text-anchor="end" fill="#333">chr22</text>
<text x="498.5" y="397.5" font-size="16.4" text-anchor="middle" fill="#333">Chromosome</text>
<line x1="951" y1="260.2" x2="956" y2="260.2" stroke="#555" stroke-width="1"/>
<text transform="translate(969 260.2) rotate(-90)" font-size="12.5" text-anchor="middle" fill="#333">5e-08</text>
<text x="304.5" y="205" font-size="26.6" text-anchor="middle" font-weight="bold">3q27.3</text>
<text x="305.3" y="236" font-size="27.2" text-anchor="middle">(Fig 3)</text>
<text x="618.5" y="215" font-size="26.5" text-anchor="middle" font-weight="bold">10q22.1</text>
<text x="608" y="247.5" font-size="27.2" text-anchor="middle">(Fig 3)</text>
<text x="781.5" y="113.5" font-size="26.8" text-anchor="middle" font-weight="bold">19p13.3</text>
<text x="916.5" y="39.5" font-size="26.8" text-anchor="middle" font-weight="bold">19q13.33</text>
<rect x="846.9" y="50.9" width="43.3" height="219.6" fill="none" stroke="#000" stroke-width="7.7"/>
<line x1="894" y1="180.5" x2="946" y2="180.5" stroke="#000" stroke-width="5.5"/>
<polygon points="943,162 971,180.5 943,199" fill="#000"/>
<text x="1019" y="33.5" font-size="36" font-weight="bold">b.</text>
<rect x="1080.7" y="26" width="30.3" height="122" fill="#f2f2f2"/>
<circle cx="1095.9" cy="41.2" r="3.6" fill="#F8766D"/>
<text x="1121" y="46.8" font-size="15.6" fill="#1a1a1a">2FL</text>
<circle cx="1095.9" cy="71.7" r="3.6" fill="#E88526"/>
<text x="1121" y="77.3" font-size="15.6" fill="#1a1a1a">3FL</text>
<circle cx="1095.9" cy="102.4" r="3.6" fill="#D39200"/>
<text x="1121" y="108" font-size="15.6" fill="#1a1a1a">3SL</text>
<circle cx="1095.9" cy="133.1" r="3.6" fill="#B79F00"/>
<text x="1121" y="138.7" font-size="15.6" fill="#1a1a1a">DFLac</text>
<rect x="1178" y="26" width="30.3" height="122" fill="#f2f2f2"/>
<circle cx="1193.2" cy="41.2" r="3.6" fill="#93AA00"/>
<text x="1218.3" y="46.8" font-size="15.6" fill="#1a1a1a">DFLNH</text>
<circle cx="1193.2" cy="71.7" r="3.6" fill="#5EB300"/>
<text x="1218.3" y="77.3" font-size="15.6" fill="#1a1a1a">DFLNT</text>
<circle cx="1193.2" cy="102.4" r="3.6" fill="#00BA38"/>
<text x="1218.3" y="108" font-size="15.6" fill="#1a1a1a">DSLNH</text>
<circle cx="1193.2" cy="133.1" r="3.6" fill="#00BF74"/>
<text x="1218.3" y="138.7" font-size="15.6" fill="#1a1a1a">DSLNT</text>
<rect x="1281.6" y="26" width="30.3" height="122" fill="#f2f2f2"/>
<circle cx="1296.8" cy="41.2" r="3.6" fill="#00C19F"/>
<text x="1321.6" y="46.8" font-size="15.6" fill="#1a1a1a">FDSLNH</text>
<circle cx="1296.8" cy="71.7" r="3.6" fill="#00BFC4"/>
<text x="1321.6" y="77.3" font-size="15.6" fill="#1a1a1a">FLNH</text>
<circle cx="1296.8" cy="102.4" r="3.6" fill="#00B9E3"/>
<text x="1321.6" y="108" font-size="15.6" fill="#1a1a1a">LNFP1</text>
<circle cx="1296.8" cy="133.1" r="3.6" fill="#00ADFA"/>
<text x="1321.6" y="138.7" font-size="15.6" fill="#1a1a1a">LNFP2</text>
<rect x="1394.7" y="26" width="30.3" height="122" fill="#f2f2f2"/>
<circle cx="1409.9" cy="41.2" r="3.6" fill="#619CFF"/>
<text x="1435" y="46.8" font-size="15.6" fill="#1a1a1a">LNFP3</text>
<circle cx="1409.9" cy="71.7" r="3.6" fill="#AE87FF"/>
<text x="1435" y="77.3" font-size="15.6" fill="#1a1a1a">LNH</text>
<circle cx="1409.9" cy="102.4" r="3.6" fill="#DB72FB"/>
<text x="1435" y="108" font-size="15.6" fill="#1a1a1a">LNnT</text>
<circle cx="1409.9" cy="133.1" r="3.6" fill="#F564E3"/>
<text x="1435" y="138.7" font-size="15.6" fill="#1a1a1a">LNT</text>
<rect x="1494" y="26" width="30.3" height="61" fill="#f2f2f2"/>
<circle cx="1509.2" cy="41.2" r="3.6" fill="#FF61C3"/>
<text x="1534.5" y="46.8" font-size="15.6" fill="#1a1a1a">LSTb</text>
<circle cx="1509.2" cy="71.7" r="3.6" fill="#FF699C"/>
<text x="1534.5" y="77.3" font-size="15.6" fill="#1a1a1a">LSTc</text>
<line x1="1066.3" y1="86" x2="1066.3" y2="343.5" stroke="#000" stroke-width="2.4"/>
<line x1="1065.1" y1="342.3" x2="1772" y2="342.3" stroke="#000" stroke-width="2.4"/>
<line x1="1061.5" y1="341" x2="1066" y2="341" stroke="#333" stroke-width="1.1"/>
<text x="1057" y="347.2" font-size="17.6" text-anchor="end" fill="#1a1a1a">0</text>
<line x1="1061.5" y1="278.7" x2="1066" y2="278.7" stroke="#333" stroke-width="1.1"/>
<text x="1057" y="284.9" font-size="17.6" text-anchor="end" fill="#1a1a1a">30</text>
<line x1="1061.5" y1="216.4" x2="1066" y2="216.4" stroke="#333" stroke-width="1.1"/>
<text x="1057" y="222.6" font-size="17.6" text-anchor="end" fill="#1a1a1a">60</text>
<line x1="1061.5" y1="154.1" x2="1066" y2="154.1" stroke="#333" stroke-width="1.1"/>
<text x="1057" y="160.3" font-size="17.6" text-anchor="end" fill="#1a1a1a">90</text>
<line x1="1061.5" y1="91.8" x2="1066" y2="91.8" stroke="#333" stroke-width="1.1"/>
<text x="1057" y="98" font-size="17.6" text-anchor="end" fill="#1a1a1a">120</text>
<line x1="1151.2" y1="343" x2="1151.2" y2="347.5" stroke="#333" stroke-width="1.1"/>
<text x="1151.2" y="365.8" font-size="18.2" text-anchor="middle" fill="#1a1a1a">10</text>
<line x1="1276" y1="343" x2="1276" y2="347.5" stroke="#333" stroke-width="1.1"/>
<text x="1276" y="365.8" font-size="18.2" text-anchor="middle" fill="#1a1a1a">20</text>
<line x1="1400.8" y1="343" x2="1400.8" y2="347.5" stroke="#333" stroke-width="1.1"/>
<text x="1400.8" y="365.8" font-size="18.2" text-anchor="middle" fill="#1a1a1a">30</text>
<line x1="1525.6" y1="343" x2="1525.6" y2="347.5" stroke="#333" stroke-width="1.1"/>
<text x="1525.6" y="365.8" font-size="18.2" text-anchor="middle" fill="#1a1a1a">40</text>
<line x1="1650.4" y1="343" x2="1650.4" y2="347.5" stroke="#333" stroke-width="1.1"/>
<text x="1650.4" y="365.8" font-size="18.2" text-anchor="middle" fill="#1a1a1a">50</text>
<text x="1398.5" y="391.5" font-size="27.1" text-anchor="middle">Chromosome 19 (MB)</text>
<text transform="translate(1019.5 214.3) rotate(-90)" font-size="20.4" text-anchor="middle">-log10(P-value)</text>
<line x1="1067.5" y1="326.5" x2="1772" y2="326.5" stroke="#E8877F" stroke-width="1"/>
<g><circle cx="1099.6" cy="220.7" r="3.8" fill="#5EB300"/><circle cx="1099.6" cy="241.7" r="3.8" fill="#5EB300"/><circle cx="1099.6" cy="255.6" r="3.8" fill="#5EB300"/><circle cx="1099.6" cy="258" r="3.8" fill="#5EB300"/><circle cx="1099.6" cy="259.5" r="3.8" fill="#5EB300"/><circle cx="1099.6" cy="262" r="3.8" fill="#5EB300"/><circle cx="1099.6" cy="266.5" r="3.8" fill="#5EB300"/><circle cx="1099.6" cy="268.4" r="3.8" fill="#00ADFA"/><circle cx="1099.6" cy="271" r="3.8" fill="#00ADFA"/><circle cx="1099.6" cy="275.9" r="3.8" fill="#00ADFA"/><circle cx="1099.6" cy="287" r="3.8" fill="#00ADFA"/><circle cx="1099.6" cy="289" r="3.8" fill="#00ADFA"/><circle cx="1099.6" cy="291.5" r="3.8" fill="#00ADFA"/><circle cx="1099.6" cy="294" r="3.8" fill="#00ADFA"/><circle cx="1099.6" cy="296.5" r="3.8" fill="#00ADFA"/><circle cx="1099.6" cy="299" r="3.8" fill="#00ADFA"/><circle cx="1099.6" cy="301" r="3.8" fill="#00ADFA"/><circle cx="1099.6" cy="292" r="3.8" fill="#00B9E3"/><circle cx="1099.6" cy="297" r="3.8" fill="#00B9E3"/><circle cx="1099.6" cy="303" r="3.8" fill="#AE87FF"/><circle cx="1099.6" cy="306" r="3.8" fill="#AE87FF"/><circle cx="1099.6" cy="309" r="3.8" fill="#AE87FF"/><circle cx="1099.6" cy="312" r="3.8" fill="#AE87FF"/><circle cx="1099.6" cy="315" r="3.8" fill="#AE87FF"/><circle cx="1099.6" cy="318" r="3.8" fill="#AE87FF"/><circle cx="1099.6" cy="319.6" r="3.8" fill="#AE87FF"/><circle cx="1099.6" cy="321" r="3.8" fill="#FF61C3"/><circle cx="1099.6" cy="323" r="3.8" fill="#FF61C3"/><circle cx="1099.6" cy="326" r="3.8" fill="#FF61C3"/><circle cx="1099.6" cy="328" r="3.8" fill="#FF61C3"/><circle cx="1099.6" cy="330" r="3.8" fill="#F564E3"/><circle cx="1099.6" cy="331" r="3.8" fill="#F564E3"/><circle cx="1243.8" cy="329.6" r="3.8" fill="#00C08F"/><circle cx="1243.8" cy="330.5" r="3.8" fill="#00C08F"/><circle cx="1258.5" cy="329.2" r="3.8" fill="#B79F00"/><circle cx="1258.5" cy="331" r="3.8" fill="#B79F00"/><circle cx="1277.6" cy="329.6" r="3.8" fill="#F564E3"/><circle cx="1402.8" cy="330.4" r="3.8" fill="#00BF7E"/><circle cx="1424.2" cy="329.6" r="3.8" fill="#B79F00"/><circle cx="1679.2" cy="330.5" r="3.8" fill="#00B9E3"/><circle cx="1699.4" cy="328.5" r="3.8" fill="#5EB300"/><circle cx="1699.4" cy="331" r="3.8" fill="#5EB300"/><circle cx="1739.7" cy="329" r="3.8" fill="#00ADFA"/><circle cx="1739.7" cy="331" r="3.8" fill="#00ADFA"/><circle cx="1640" cy="96.5" r="3.8" fill="#00B9E3"/><circle cx="1640" cy="98.7" r="3.8" fill="#00B9E3"/><circle cx="1640" cy="100.9" r="3.8" fill="#00B9E3"/><circle cx="1640" cy="103.1" r="3.8" fill="#00B9E3"/><circle cx="1640" cy="105.3" r="3.8" fill="#00B9E3"/><circle cx="1640" cy="107.5" r="3.8" fill="#00B9E3"/><circle cx="1640" cy="111.9" r="3.8" fill="#00B9E3"/><circle cx="1640" cy="114.1" r="3.8" fill="#00B9E3"/><circle cx="1640" cy="116.3" r="3.8" fill="#00B9E3"/><circle cx="1640" cy="118.5" r="3.8" fill="#00B9E3"/><circle cx="1640" cy="120.7" r="3.8" fill="#00B9E3"/><circle cx="1640" cy="122.9" r="3.8" fill="#00B9E3"/><circle cx="1640" cy="127.3" r="3.8" fill="#00B9E3"/><circle cx="1640" cy="129.5" r="3.8" fill="#00B9E3"/><circle cx="1640" cy="131.7" r="3.8" fill="#00B9E3"/><circle cx="1640" cy="133.9" r="3.8" fill="#00B9E3"/><circle cx="1640" cy="136.1" r="3.8" fill="#00ADFA"/><circle cx="1640" cy="138.3" r="3.8" fill="#00ADFA"/><circle cx="1640" cy="142.7" r="3.8" fill="#00ADFA"/><circle cx="1640" cy="144.9" r="3.8" fill="#00ADFA"/><circle cx="1640" cy="147.1" r="3.8" fill="#00ADFA"/><circle cx="1640" cy="149.3" r="3.8" fill="#00ADFA"/><circle cx="1640" cy="151.5" r="3.8" fill="#00ADFA"/><circle cx="1640" cy="153.7" r="3.8" fill="#00ADFA"/><circle cx="1640" cy="155.9" r="3.8" fill="#00ADFA"/><circle cx="1640" cy="160.3" r="3.8" fill="#00ADFA"/><circle cx="1640" cy="162.5" r="3.8" fill="#00ADFA"/><circle cx="1640" cy="169.1" r="3.8" fill="#00ADFA"/><circle cx="1640" cy="171.3" r="3.8" fill="#00ADFA"/><circle cx="1640" cy="173.5" r="3.8" fill="#00ADFA"/><circle cx="1640" cy="175.7" r="3.8" fill="#00ADFA"/><circle cx="1640" cy="177.9" r="3.8" fill="#00ADFA"/><circle cx="1640" cy="180.1" r="3.8" fill="#00ADFA"/><circle cx="1640" cy="182.3" r="3.8" fill="#00ADFA"/><circle cx="1640" cy="184.5" r="3.8" fill="#00ADFA"/><circle cx="1640" cy="186.7" r="3.8" fill="#00ADFA"/><circle cx="1640" cy="188.9" r="3.8" fill="#00ADFA"/><circle cx="1640" cy="191.1" r="3.8" fill="#00ADFA"/><circle cx="1640" cy="193.3" r="3.8" fill="#00ADFA"/><circle cx="1640" cy="195.5" r="3.8" fill="#00ADFA"/><circle cx="1640" cy="197.7" r="3.8" fill="#00ADFA"/><circle cx="1640" cy="199.9" r="3.8" fill="#00ADFA"/><circle cx="1640" cy="202.1" r="3.8" fill="#00ADFA"/><circle cx="1640" cy="204.3" r="3.8" fill="#00ADFA"/><circle cx="1640" cy="206.5" r="3.8" fill="#00ADFA"/><circle cx="1640" cy="208.7" r="3.8" fill="#00ADFA"/><circle cx="1640" cy="210.9" r="3.8" fill="#00ADFA"/><circle cx="1640" cy="213.1" r="3.8" fill="#00ADFA"/><circle cx="1640" cy="215.3" r="3.8" fill="#00ADFA"/><circle cx="1640" cy="217.5" r="3.8" fill="#00ADFA"/><circle cx="1640" cy="219.7" r="3.8" fill="#00ADFA"/><circle cx="1640" cy="221.9" r="3.8" fill="#00ADFA"/><circle cx="1640" cy="224.1" r="3.8" fill="#00ADFA"/><circle cx="1640" cy="226.3" r="3.8" fill="#00ADFA"/><circle cx="1640" cy="228.5" r="3.8" fill="#00ADFA"/><circle cx="1640" cy="230.7" r="3.8" fill="#00ADFA"/><circle cx="1640" cy="232.9" r="3.8" fill="#00ADFA"/><circle cx="1640" cy="235.1" r="3.8" fill="#00ADFA"/><circle cx="1640" cy="237.3" r="3.8" fill="#00ADFA"/><circle cx="1640" cy="239.5" r="3.8" fill="#00ADFA"/><circle cx="1640" cy="241.7" r="3.8" fill="#00ADFA"/><circle cx="1640" cy="243.9" r="3.8" fill="#00ADFA"/><circle cx="1640" cy="246.1" r="3.8" fill="#00ADFA"/><circle cx="1640" cy="248.3" r="3.8" fill="#00ADFA"/><circle cx="1640" cy="250.5" r="3.8" fill="#00ADFA"/><circle cx="1640" cy="252.7" r="3.8" fill="#00ADFA"/><circle cx="1640" cy="254.9" r="3.8" fill="#00ADFA"/><circle cx="1640" cy="257.1" r="3.8" fill="#00ADFA"/><circle cx="1640" cy="259.3" r="3.8" fill="#619CFF"/><circle cx="1640" cy="261.5" r="3.8" fill="#619CFF"/><circle cx="1640" cy="263.7" r="3.8" fill="#619CFF"/><circle cx="1640" cy="265.9" r="3.8" fill="#619CFF"/><circle cx="1640" cy="268.1" r="3.8" fill="#619CFF"/><circle cx="1640" cy="270.3" r="3.8" fill="#619CFF"/><circle cx="1640" cy="272.5" r="3.8" fill="#619CFF"/><circle cx="1640" cy="274.7" r="3.8" fill="#619CFF"/><circle cx="1640" cy="276.9" r="3.8" fill="#FF61C3"/><circle cx="1640" cy="279.1" r="3.8" fill="#FF61C3"/><circle cx="1640" cy="281.3" r="3.8" fill="#FF61C3"/><circle cx="1640" cy="283.5" r="3.8" fill="#FF61C3"/><circle cx="1640" cy="285.7" r="3.8" fill="#FF61C3"/><circle cx="1640" cy="287.9" r="3.8" fill="#FF61C3"/><circle cx="1640" cy="290.1" r="3.8" fill="#FF61C3"/><circle cx="1640" cy="292.3" r="3.8" fill="#FF61C3"/><circle cx="1640" cy="294.5" r="3.8" fill="#FF61C3"/><circle cx="1640" cy="296.7" r="3.8" fill="#FF61C3"/><circle cx="1640" cy="298.9" r="3.8" fill="#FF61C3"/><circle cx="1641.2" cy="301.1" r="3.8" fill="#FF61C3"/><circle cx="1641.2" cy="303.3" r="3.8" fill="#FF61C3"/><circle cx="1641.2" cy="305.5" r="3.8" fill="#FF61C3"/><circle cx="1641.2" cy="307.7" r="3.8" fill="#FF61C3"/><circle cx="1641.2" cy="309.9" r="3.8" fill="#FF61C3"/><circle cx="1638.8" cy="312.1" r="3.8" fill="#FF699C"/><circle cx="1638.8" cy="314.3" r="3.8" fill="#FF699C"/><circle cx="1638.8" cy="316.5" r="3.8" fill="#FF699C"/><circle cx="1638.8" cy="318.7" r="3.8" fill="#FF699C"/><circle cx="1638.8" cy="320.9" r="3.8" fill="#FF699C"/><circle cx="1641.2" cy="323.1" r="3.8" fill="#FF699C"/><circle cx="1641.2" cy="325.3" r="3.8" fill="#FF699C"/><circle cx="1641.2" cy="327.5" r="3.8" fill="#FF699C"/><circle cx="1641.2" cy="329.7" r="3.8" fill="#FF699C"/><circle cx="1641.2" cy="331.9" r="3.8" fill="#FF699C"/><circle cx="1640" cy="103.5" r="3.8" fill="#F8766D"/><circle cx="1640" cy="133" r="3.8" fill="#F8766D"/><circle cx="1640" cy="161" r="3.8" fill="#F8766D"/><circle cx="1640" cy="186" r="3.8" fill="#00BF74"/><circle cx="1640" cy="198" r="3.8" fill="#00BF74"/><circle cx="1640" cy="122" r="3.8" fill="#00B9E3"/><circle cx="1640" cy="128" r="3.8" fill="#00B9E3"/><circle cx="1640" cy="145" r="3.8" fill="#00B9E3"/></g>
<text x="1121" y="218.4" font-size="26" font-weight="bold">19p13.3</text>
<text x="1119" y="249" font-size="27">(Fig 2)</text>
<text x="1680" y="30" font-size="26.5" text-anchor="middle" font-weight="bold">19q13.33</text>
<rect x="1619.4" y="40.4" width="39" height="299" fill="none" stroke="#000" stroke-width="7.8"/>
<text x="8.5" y="552" font-size="37" font-weight="bold" textLength="197" lengthAdjust="spacingAndGlyphs">c. 19q13.33</text>
<text x="55" y="611.4" font-size="14.5" fill="#222" textLength="59.5" lengthAdjust="spacingAndGlyphs">ref SNPs</text>
<rect x="215.3" y="602.5" width="5.5" height="17.5" fill="#DA1A1E"/>
<rect x="225.5" y="602.5" width="5.9" height="17.5" fill="#EDB55E"/>
<rect x="240.8" y="602.5" width="5.9" height="17.5" fill="#E26026"/>
<rect x="262.7" y="602.5" width="5.3" height="17.5" fill="#E98C3A"/>
<rect x="268" y="602.5" width="5.9" height="17.5" fill="#E26026"/>
<rect x="313.7" y="602.5" width="11.2" height="17.5" fill="#EDB55E"/>
<rect x="338.6" y="602.5" width="3.4" height="17.5" fill="#EDB55E"/>
<rect x="342" y="602.5" width="4" height="17.5" fill="#E98C3A"/>
<rect x="346" y="602.5" width="9.5" height="17.5" fill="#EDB55E"/>
<rect x="359" y="602.5" width="5" height="17.5" fill="#EDB55E"/>
<rect x="364" y="602.5" width="6.4" height="17.5" fill="#E98C3A"/>
<rect x="391.2" y="602.5" width="6.1" height="17.5" fill="#DA1A1E"/>
<rect x="409.2" y="602.5" width="4.8" height="17.5" fill="#DA1A1E"/>
<rect x="414" y="602.5" width="4" height="17.5" fill="#E26026"/>
<rect x="418" y="602.5" width="4.2" height="17.5" fill="#EDB55E"/>
<rect x="439.4" y="602.5" width="6.1" height="17.5" fill="#EDB55E"/>
<rect x="460.8" y="602.5" width="5.7" height="17.5" fill="#EDB55E"/>
<rect x="495.1" y="602.5" width="5.5" height="17.5" fill="#E98C3A"/>
<rect x="509.8" y="602.5" width="6.2" height="17.5" fill="#EDB55E"/>
<rect x="516" y="602.5" width="6" height="17.5" fill="#E98C3A"/>
<rect x="522" y="602.5" width="8" height="17.5" fill="#EDB55E"/>
<rect x="530" y="602.5" width="6" height="17.5" fill="#F2DA8B"/>
<rect x="536" y="602.5" width="6.4" height="17.5" fill="#EDB55E"/>
<rect x="546.5" y="602.5" width="4.5" height="17.5" fill="#EDB55E"/>
<rect x="551" y="602.5" width="1.5" height="17.5" fill="#E26026"/>
<rect x="552.5" y="602.5" width="5.3" height="17.5" fill="#EDB55E"/>
<rect x="565.5" y="602.5" width="5.5" height="17.5" fill="#E98C3A"/>
<rect x="571" y="602.5" width="5" height="17.5" fill="#E26026"/>
<rect x="576" y="602.5" width="5.2" height="17.5" fill="#E98C3A"/>
<rect x="582.2" y="602.5" width="4.8" height="17.5" fill="#EDB55E"/>
<rect x="587" y="602.5" width="6.5" height="17.5" fill="#F2DA8B"/>
<rect x="604.7" y="602.5" width="3.3" height="17.5" fill="#E98C3A"/>
<rect x="608" y="602.5" width="5.9" height="17.5" fill="#EDB55E"/>
<rect x="641.4" y="602.5" width="5.6" height="17.5" fill="#EDB55E"/>
<rect x="657.8" y="602.5" width="7.7" height="17.5" fill="#EDB55E"/>
<rect x="693" y="602.5" width="6.2" height="17.5" fill="#E26026"/>
<rect x="701.6" y="602.5" width="4.4" height="17.5" fill="#EDB55E"/>
<rect x="706" y="602.5" width="4" height="17.5" fill="#E98C3A"/>
<rect x="710" y="602.5" width="4.9" height="17.5" fill="#EDB55E"/>
<rect x="737.3" y="602.5" width="4.7" height="17.5" fill="#E98C3A"/>
<rect x="742" y="602.5" width="6" height="17.5" fill="#EDB55E"/>
<rect x="758.2" y="602.5" width="5.5" height="17.5" fill="#E26026"/>
<rect x="778.6" y="602.5" width="5.4" height="17.5" fill="#F2DA8B"/>
<rect x="784" y="602.5" width="4" height="17.5" fill="#E26026"/>
<rect x="788" y="602.5" width="5.9" height="17.5" fill="#EDB55E"/>
<rect x="866.3" y="602.5" width="5.7" height="17.5" fill="#E98C3A"/>
<rect x="908.2" y="602.5" width="5.1" height="17.5" fill="#E98C3A"/>
<rect x="917.3" y="602.5" width="5.8" height="17.5" fill="#E98C3A"/>
<rect x="940.8" y="602.5" width="9.8" height="17.5" fill="#E98C3A"/>
<rect x="960.8" y="602.5" width="5.5" height="17.5" fill="#F2DA8B"/>
<rect x="999.4" y="602.5" width="5.5" height="17.5" fill="#EDB55E"/>
<rect x="1051.8" y="602.5" width="5.8" height="17.5" fill="#EDB55E"/>
<rect x="1155.5" y="602.5" width="5.5" height="17.5" fill="#EDB55E"/>
<rect x="1161.5" y="602.5" width="6.5" height="17.5" fill="#EDB55E"/>
<rect x="1169" y="602.5" width="29" height="17.5" fill="#EFC06A"/>
<rect x="1206.5" y="602.5" width="9.8" height="17.5" fill="#EFC06A"/>
<rect x="1218.8" y="602.5" width="9.2" height="17.5" fill="#EFC06A"/>
<path d="M130.2 638.7 H141.1 V1016.6 H1273.9 V1027" fill="none" stroke="#8a8a8a" stroke-width="1.6"/>
<line x1="130.2" y1="1016.6" x2="141.1" y2="1016.6" stroke="#8a8a8a" stroke-width="1.6"/>
<text x="123.5" y="1022.6" font-size="17.5" text-anchor="end" fill="#111">0</text>
<line x1="130.2" y1="984.8" x2="141.1" y2="984.8" stroke="#8a8a8a" stroke-width="1.6"/>
<text x="123.5" y="990.8" font-size="17.5" text-anchor="end" fill="#111">10</text>
<line x1="130.2" y1="952.9" x2="141.1" y2="952.9" stroke="#8a8a8a" stroke-width="1.6"/>
<text x="123.5" y="958.9" font-size="17.5" text-anchor="end" fill="#111">20</text>
<line x1="130.2" y1="921.1" x2="141.1" y2="921.1" stroke="#8a8a8a" stroke-width="1.6"/>
<text x="123.5" y="927.1" font-size="17.5" text-anchor="end" fill="#111">30</text>
<line x1="130.2" y1="889.3" x2="141.1" y2="889.3" stroke="#8a8a8a" stroke-width="1.6"/>
<text x="123.5" y="895.3" font-size="17.5" text-anchor="end" fill="#111">40</text>
<line x1="130.2" y1="857.4" x2="141.1" y2="857.4" stroke="#8a8a8a" stroke-width="1.6"/>
<text x="123.5" y="863.4" font-size="17.5" text-anchor="end" fill="#111">50</text>
<line x1="130.2" y1="825.6" x2="141.1" y2="825.6" stroke="#8a8a8a" stroke-width="1.6"/>
<text x="123.5" y="831.6" font-size="17.5" text-anchor="end" fill="#111">60</text>
<line x1="130.2" y1="793.7" x2="141.1" y2="793.7" stroke="#8a8a8a" stroke-width="1.6"/>
<text x="123.5" y="799.7" font-size="17.5" text-anchor="end" fill="#111">70</text>
<line x1="130.2" y1="761.9" x2="141.1" y2="761.9" stroke="#8a8a8a" stroke-width="1.6"/>
<text x="123.5" y="767.9" font-size="17.5" text-anchor="end" fill="#111">80</text>
<line x1="130.2" y1="730.1" x2="141.1" y2="730.1" stroke="#8a8a8a" stroke-width="1.6"/>
<text x="123.5" y="736.1" font-size="17.5" text-anchor="end" fill="#111">90</text>
<line x1="130.2" y1="698.2" x2="141.1" y2="698.2" stroke="#8a8a8a" stroke-width="1.6"/>
<text x="123.5" y="704.2" font-size="17.5" text-anchor="end" fill="#111">100</text>
<line x1="130.2" y1="666.4" x2="141.1" y2="666.4" stroke="#8a8a8a" stroke-width="1.6"/>
<text x="123.5" y="672.4" font-size="17.5" text-anchor="end" fill="#111">110</text>
<line x1="215.7" y1="1016.6" x2="215.7" y2="1027" stroke="#8a8a8a" stroke-width="1.6"/>
<line x1="538" y1="1016.6" x2="538" y2="1027" stroke="#8a8a8a" stroke-width="1.6"/>
<line x1="860.2" y1="1016.6" x2="860.2" y2="1027" stroke="#8a8a8a" stroke-width="1.6"/>
<line x1="1182.7" y1="1016.6" x2="1182.7" y2="1027" stroke="#8a8a8a" stroke-width="1.6"/>
<text transform="translate(66 828.6) rotate(-90)" font-size="25.5" text-anchor="middle" textLength="170" lengthAdjust="spacingAndGlyphs">-log10 P-value</text>
<g><circle cx="166.7" cy="999.8" r="6.1" fill="#858585"/><circle cx="178" cy="1000.4" r="6.1" fill="#858585"/><circle cx="186" cy="1000.7" r="6.1" fill="#858585"/><circle cx="193" cy="1001.4" r="6.1" fill="#858585"/><circle cx="200" cy="1000.4" r="6.1" fill="#858585"/><circle cx="207" cy="1001.3" r="6.1" fill="#858585"/><circle cx="212" cy="996.8" r="6.1" fill="#858585"/><circle cx="218" cy="999" r="6.1" fill="#858585"/><circle cx="224" cy="1001.4" r="6.1" fill="#858585"/><circle cx="230" cy="999.9" r="6.1" fill="#858585"/><circle cx="238" cy="1001.2" r="6.1" fill="#858585"/><circle cx="245" cy="997.3" r="6.1" fill="#858585"/><circle cx="250" cy="999" r="6.1" fill="#858585"/><circle cx="257" cy="997.9" r="6.1" fill="#858585"/><circle cx="261" cy="999.4" r="6.1" fill="#858585"/><circle cx="265" cy="999.6" r="6.1" fill="#858585"/><circle cx="268.5" cy="996.8" r="6.1" fill="#858585"/><circle cx="283" cy="997.8" r="6.1" fill="#858585"/><circle cx="296" cy="998.1" r="6.1" fill="#858585"/><circle cx="308" cy="1001.3" r="6.1" fill="#858585"/><circle cx="320" cy="1000.5" r="6.1" fill="#858585"/><circle cx="330" cy="997.5" r="6.1" fill="#858585"/><circle cx="401.4" cy="1000.7" r="6.1" fill="#858585"/><circle cx="411.6" cy="997.4" r="6.1" fill="#858585"/><circle cx="435.3" cy="988.6" r="6.1" fill="#858585"/><circle cx="538.4" cy="992.6" r="6.1" fill="#858585"/><circle cx="559.8" cy="992" r="6.1" fill="#858585"/><circle cx="583.3" cy="1001.1" r="6.1" fill="#858585"/><circle cx="734.7" cy="997.7" r="6.1" fill="#858585"/><circle cx="745.9" cy="997.8" r="6.1" fill="#858585"/><circle cx="755.1" cy="1001.6" r="6.1" fill="#858585"/><circle cx="764" cy="1001.1" r="6.1" fill="#858585"/><circle cx="772.4" cy="998.1" r="6.1" fill="#858585"/><circle cx="781.6" cy="1001.5" r="6.1" fill="#858585"/><circle cx="792.9" cy="999.4" r="6.1" fill="#858585"/><circle cx="863.3" cy="996" r="6.1" fill="#858585"/><circle cx="908.2" cy="997.7" r="6.1" fill="#858585"/><circle cx="918.4" cy="1001.4" r="6.1" fill="#858585"/><circle cx="989.8" cy="1000.2" r="6.1" fill="#858585"/><circle cx="996.3" cy="1001.5" r="6.1" fill="#858585"/><circle cx="1035.1" cy="1001.2" r="6.1" fill="#858585"/><circle cx="1045.3" cy="998.2" r="6.1" fill="#858585"/><circle cx="1054.5" cy="998.5" r="6.1" fill="#858585"/><circle cx="1086.1" cy="997.5" r="6.1" fill="#858585"/><circle cx="1147.3" cy="997.4" r="6.1" fill="#858585"/><circle cx="272" cy="855" r="6.1" fill="#E26026"/><circle cx="272" cy="863.5" r="6.1" fill="#E98C3A"/><circle cx="228" cy="872.7" r="6.1" fill="#E98C3A"/><circle cx="230" cy="872" r="6.1" fill="#E26026"/><circle cx="223.9" cy="943" r="6.1" fill="#E98C3A"/><circle cx="244.3" cy="981.8" r="6.1" fill="#E98C3A"/><circle cx="262.7" cy="973.7" r="6.1" fill="#E26026"/><circle cx="270.8" cy="969.6" r="6.1" fill="#E98C3A"/><circle cx="268.8" cy="975" r="6.1" fill="#E98C3A"/><circle cx="263.7" cy="991" r="6.1" fill="#E26026"/><circle cx="297.3" cy="990" r="6.1" fill="#E98C3A"/><circle cx="308.6" cy="990" r="6.1" fill="#E98C3A"/><circle cx="400.4" cy="993" r="6.1" fill="#E26026"/><circle cx="390.2" cy="956.3" r="6.1" fill="#E98C3A"/><circle cx="415.7" cy="988" r="6.1" fill="#E98C3A"/><circle cx="228" cy="974" r="6.1" fill="#E26026"/><circle cx="577.1" cy="722.7" r="6.1" fill="#E98C3A"/><circle cx="583.3" cy="721.6" r="6.1" fill="#E98C3A"/><circle cx="625.1" cy="796.1" r="6.1" fill="#E26026"/><circle cx="633.3" cy="802.2" r="6.1" fill="#E98C3A"/><circle cx="641.4" cy="799.2" r="6.1" fill="#E98C3A"/><circle cx="621" cy="808.4" r="6.1" fill="#E26026"/><circle cx="654.7" cy="853.3" r="6.1" fill="#E98C3A"/><circle cx="584.3" cy="880.8" r="6.1" fill="#E98C3A"/><circle cx="458.8" cy="904.3" r="6.1" fill="#E26026"/><circle cx="428.2" cy="900.2" r="6.1" fill="#E98C3A"/><circle cx="700.6" cy="907.3" r="6.1" fill="#E98C3A"/><circle cx="457.8" cy="945.1" r="6.1" fill="#E26026"/><circle cx="464.9" cy="981.8" r="6.1" fill="#E98C3A"/><circle cx="481.2" cy="983.9" r="6.1" fill="#E98C3A"/><circle cx="526.1" cy="990" r="6.1" fill="#E26026"/><circle cx="687.3" cy="992" r="6.1" fill="#E98C3A"/><circle cx="481.2" cy="976.7" r="6.1" fill="#E98C3A"/><circle cx="487.3" cy="975" r="6.1" fill="#E26026"/><circle cx="548.6" cy="945.1" r="6.1" fill="#E98C3A"/><circle cx="420" cy="988" r="6.1" fill="#E98C3A"/><circle cx="703" cy="907.3" r="6.1" fill="#E26026"/><circle cx="708.2" cy="945.1" r="6.1" fill="#E98C3A"/><circle cx="765.3" cy="945.1" r="6.1" fill="#E98C3A"/><circle cx="753" cy="969.6" r="6.1" fill="#E26026"/><circle cx="779.6" cy="973.7" r="6.1" fill="#E98C3A"/><circle cx="775.5" cy="976.7" r="6.1" fill="#E98C3A"/><circle cx="867.3" cy="992" r="6.1" fill="#E26026"/><circle cx="877.6" cy="992" r="6.1" fill="#E98C3A"/><circle cx="885.7" cy="992" r="6.1" fill="#E98C3A"/><circle cx="902" cy="992" r="6.1" fill="#E26026"/><circle cx="916.3" cy="993.1" r="6.1" fill="#E98C3A"/><circle cx="924.5" cy="993.1" r="6.1" fill="#E98C3A"/><circle cx="930.6" cy="993.1" r="6.1" fill="#E26026"/><circle cx="971.4" cy="991" r="6.1" fill="#E98C3A"/><circle cx="1039.2" cy="993" r="6.1" fill="#E98C3A"/><circle cx="1041.2" cy="994" r="6.1" fill="#E26026"/><circle cx="1059.6" cy="993.1" r="6.1" fill="#E98C3A"/><circle cx="1065.7" cy="993.1" r="6.1" fill="#E98C3A"/><circle cx="1071.8" cy="993.1" r="6.1" fill="#E26026"/><circle cx="1126.9" cy="997.1" r="6.1" fill="#E98C3A"/><circle cx="1096.3" cy="993.1" r="6.1" fill="#E98C3A"/><circle cx="269.8" cy="899.2" r="6.1" fill="#F2DA8B"/><circle cx="285.1" cy="965.5" r="6.1" fill="#F2DA8B"/><circle cx="289" cy="965" r="6.1" fill="#F2DA8B"/><circle cx="305.5" cy="962.4" r="6.1" fill="#F2DA8B"/><circle cx="334" cy="997" r="6.1" fill="#F2DA8B"/><circle cx="350.4" cy="996" r="6.1" fill="#F2DA8B"/><circle cx="356.5" cy="998" r="6.1" fill="#F2DA8B"/><circle cx="395.3" cy="917.6" r="6.1" fill="#F2DA8B"/><circle cx="423.9" cy="946" r="6.1" fill="#F2DA8B"/><circle cx="422.9" cy="973.7" r="6.1" fill="#F2DA8B"/><circle cx="542.4" cy="792.4" r="6.1" fill="#F2DA8B"/><circle cx="498.6" cy="905.3" r="6.1" fill="#F2DA8B"/><circle cx="424.1" cy="946.1" r="6.1" fill="#F2DA8B"/><circle cx="424" cy="973.7" r="6.1" fill="#F2DA8B"/><circle cx="587.3" cy="979.8" r="6.1" fill="#F2DA8B"/><circle cx="715.9" cy="996.1" r="6.1" fill="#F2DA8B"/><circle cx="587.3" cy="998.2" r="6.1" fill="#F2DA8B"/><circle cx="729.6" cy="879.8" r="6.1" fill="#F2DA8B"/><circle cx="716.3" cy="995.1" r="6.1" fill="#F2DA8B"/><circle cx="1022.9" cy="993.1" r="6.1" fill="#F2DA8B"/><circle cx="1110.6" cy="997.1" r="6.1" fill="#F2DA8B"/><circle cx="334" cy="965.5" r="6.1" fill="#EDB55E"/><circle cx="340.2" cy="965.5" r="6.1" fill="#EDB55E"/><circle cx="363.7" cy="965" r="6.1" fill="#EDB55E"/><circle cx="373.9" cy="967" r="6.1" fill="#EDB55E"/><circle cx="371.8" cy="988" r="6.1" fill="#EDB55E"/><circle cx="425.9" cy="902.2" r="6.1" fill="#EDB55E"/><circle cx="596.5" cy="739.4" r="6.1" fill="#EDB55E"/><circle cx="438.4" cy="767.6" r="6.1" fill="#EDB55E"/><circle cx="445.5" cy="767.6" r="6.1" fill="#EDB55E"/><circle cx="573" cy="789.6" r="6.1" fill="#EDB55E"/><circle cx="587.3" cy="795.1" r="6.1" fill="#EDB55E"/><circle cx="597.6" cy="795.1" r="6.1" fill="#EDB55E"/><circle cx="603.7" cy="799.2" r="6.1" fill="#EDB55E"/><circle cx="695.5" cy="797.8" r="6.1" fill="#EDB55E"/><circle cx="689.4" cy="842" r="6.1" fill="#EDB55E"/><circle cx="700" cy="840.6" r="6.1" fill="#EDB55E"/><circle cx="615.9" cy="859.4" r="6.1" fill="#EDB55E"/><circle cx="619" cy="859" r="6.1" fill="#EDB55E"/><circle cx="442.4" cy="915.5" r="6.1" fill="#EDB55E"/><circle cx="611.8" cy="912.4" r="6.1" fill="#EDB55E"/><circle cx="617" cy="914.5" r="6.1" fill="#EDB55E"/><circle cx="612.9" cy="918.6" r="6.1" fill="#EDB55E"/><circle cx="647.6" cy="907.3" r="6.1" fill="#EDB55E"/><circle cx="658.8" cy="910.4" r="6.1" fill="#EDB55E"/><circle cx="671" cy="917.6" r="6.1" fill="#EDB55E"/><circle cx="681.2" cy="918.6" r="6.1" fill="#EDB55E"/><circle cx="691.4" cy="921.6" r="6.1" fill="#EDB55E"/><circle cx="699.6" cy="922.7" r="6.1" fill="#EDB55E"/><circle cx="699.6" cy="937" r="6.1" fill="#EDB55E"/><circle cx="707.8" cy="944.1" r="6.1" fill="#EDB55E"/><circle cx="444.5" cy="979.8" r="6.1" fill="#EDB55E"/><circle cx="559.8" cy="969.6" r="6.1" fill="#EDB55E"/><circle cx="506.7" cy="997.1" r="6.1" fill="#EDB55E"/><circle cx="640.4" cy="995.1" r="6.1" fill="#EDB55E"/><circle cx="654.7" cy="995.1" r="6.1" fill="#EDB55E"/><circle cx="664.9" cy="995.1" r="6.1" fill="#EDB55E"/><circle cx="703" cy="922.7" r="6.1" fill="#EDB55E"/><circle cx="720.4" cy="941" r="6.1" fill="#EDB55E"/><circle cx="746.5" cy="929.8" r="6.1" fill="#EDB55E"/><circle cx="788.8" cy="956.3" r="6.1" fill="#EDB55E"/><circle cx="722.4" cy="977.8" r="6.1" fill="#EDB55E"/><circle cx="789.8" cy="982.9" r="6.1" fill="#EDB55E"/><circle cx="995.9" cy="993.1" r="6.1" fill="#EDB55E"/><circle cx="996.3" cy="993.1" r="6.1" fill="#EDB55E"/><circle cx="1010.6" cy="993.1" r="6.1" fill="#EDB55E"/><circle cx="1018.8" cy="994" r="6.1" fill="#EDB55E"/><circle cx="1029" cy="993.1" r="6.1" fill="#EDB55E"/><circle cx="1034.1" cy="993.1" r="6.1" fill="#EDB55E"/><circle cx="1135.1" cy="999.2" r="6.1" fill="#EDB55E"/><circle cx="1143.3" cy="1000.2" r="6.1" fill="#EDB55E"/><circle cx="560.4" cy="662.4" r="6.1" fill="#DA1A1E"/><circle cx="562.9" cy="670.6" r="6.1" fill="#DA1A1E"/><circle cx="209.6" cy="973.7" r="6.1" fill="#DA1A1E"/><circle cx="389" cy="912.4" r="6.1" fill="#DA1A1E"/><circle cx="594.5" cy="910.4" r="6.1" fill="#DA1A1E"/><circle cx="663.9" cy="832.9" r="6.1" fill="#DA1A1E"/><circle cx="670" cy="839" r="6.1" fill="#DA1A1E"/><circle cx="533.3" cy="980.8" r="6.1" fill="#DA1A1E"/><circle cx="1085" cy="991" r="6.1" fill="#DA1A1E"/><circle cx="1096.3" cy="993.1" r="6.1" fill="#DA1A1E"/><circle cx="1050" cy="993" r="6.1" fill="#DA1A1E"/><circle cx="568" cy="664.5" r="6.1" fill="#E26026"/><circle cx="570" cy="675.7" r="6.1" fill="#E26026"/><circle cx="567" cy="680.8" r="6.1" fill="#E26026"/><circle cx="571" cy="690" r="6.1" fill="#E98C3A"/><circle cx="261.6" cy="851.6" r="5.9" fill="#DA1A1E" stroke="#111" stroke-width="1.5"/><circle cx="215.3" cy="928.8" r="5.9" fill="#DA1A1E" stroke="#111" stroke-width="1.5"/><circle cx="221.4" cy="973.7" r="5.9" fill="#DA1A1E" stroke="#111" stroke-width="1.5"/><circle cx="195.3" cy="984.9" r="5.9" fill="#DA1A1E" stroke="#111" stroke-width="1.5"/><circle cx="200.4" cy="985" r="5.9" fill="#DA1A1E" stroke="#111" stroke-width="1.5"/><circle cx="205.9" cy="980" r="5.9" fill="#DA1A1E" stroke="#111" stroke-width="1.5"/><circle cx="211.6" cy="988" r="5.9" fill="#DA1A1E" stroke="#111" stroke-width="1.5"/><circle cx="196.3" cy="990" r="5.9" fill="#DA1A1E" stroke="#111" stroke-width="1.5"/><circle cx="256.5" cy="987" r="5.9" fill="#DA1A1E" stroke="#111" stroke-width="1.5"/><circle cx="348" cy="965.5" r="5.9" fill="#DA1A1E" stroke="#111" stroke-width="1.5"/><circle cx="386.7" cy="967.6" r="5.9" fill="#DA1A1E" stroke="#111" stroke-width="1.5"/><circle cx="394.3" cy="985.9" r="5.9" fill="#DA1A1E" stroke="#111" stroke-width="1.5"/><circle cx="393.9" cy="993" r="5.9" fill="#DA1A1E" stroke="#111" stroke-width="1.5"/><circle cx="417.8" cy="958.4" r="5.9" fill="#DA1A1E" stroke="#111" stroke-width="1.5"/><circle cx="550.6" cy="714.1" r="5.9" fill="#DA1A1E" stroke="#111" stroke-width="1.5"/><circle cx="584.3" cy="714.5" r="5.9" fill="#DA1A1E" stroke="#111" stroke-width="1.5"/><circle cx="559.8" cy="776.3" r="5.9" fill="#DA1A1E" stroke="#111" stroke-width="1.5"/><circle cx="632.2" cy="828.8" r="5.9" fill="#DA1A1E" stroke="#111" stroke-width="1.5"/><circle cx="673.1" cy="833.9" r="5.9" fill="#DA1A1E" stroke="#111" stroke-width="1.5"/><circle cx="714.9" cy="868.6" r="5.9" fill="#DA1A1E" stroke="#111" stroke-width="1.5"/><circle cx="436.3" cy="901.2" r="5.9" fill="#DA1A1E" stroke="#111" stroke-width="1.5"/><circle cx="586.3" cy="908.4" r="5.9" fill="#DA1A1E" stroke="#111" stroke-width="1.5"/><circle cx="701.2" cy="898.6" r="5.9" fill="#DA1A1E" stroke="#111" stroke-width="1.5"/><circle cx="712.9" cy="932.9" r="5.9" fill="#DA1A1E" stroke="#111" stroke-width="1.5"/><circle cx="718" cy="934.9" r="5.9" fill="#DA1A1E" stroke="#111" stroke-width="1.5"/><circle cx="550.6" cy="935.9" r="5.9" fill="#DA1A1E" stroke="#111" stroke-width="1.5"/><circle cx="437.3" cy="945.1" r="5.9" fill="#DA1A1E" stroke="#111" stroke-width="1.5"/><circle cx="494.1" cy="954.3" r="5.9" fill="#DA1A1E" stroke="#111" stroke-width="1.5"/><circle cx="645.5" cy="960.4" r="5.9" fill="#DA1A1E" stroke="#111" stroke-width="1.5"/><circle cx="498.6" cy="971.6" r="5.9" fill="#DA1A1E" stroke="#111" stroke-width="1.5"/><circle cx="525.1" cy="980.8" r="5.9" fill="#DA1A1E" stroke="#111" stroke-width="1.5"/><circle cx="576.7" cy="967.6" r="5.9" fill="#DA1A1E" stroke="#111" stroke-width="1.5"/><circle cx="709.8" cy="971.6" r="5.9" fill="#DA1A1E" stroke="#111" stroke-width="1.5"/><circle cx="707.8" cy="978.8" r="5.9" fill="#DA1A1E" stroke="#111" stroke-width="1.5"/><circle cx="460.8" cy="989" r="5.9" fill="#DA1A1E" stroke="#111" stroke-width="1.5"/><circle cx="549.6" cy="993.1" r="5.9" fill="#DA1A1E" stroke="#111" stroke-width="1.5"/><circle cx="594.5" cy="993.1" r="5.9" fill="#DA1A1E" stroke="#111" stroke-width="1.5"/><circle cx="704.7" cy="990" r="5.9" fill="#DA1A1E" stroke="#111" stroke-width="1.5"/><circle cx="736.3" cy="884.9" r="5.9" fill="#DA1A1E" stroke="#111" stroke-width="1.5"/><circle cx="742.9" cy="892" r="5.9" fill="#DA1A1E" stroke="#111" stroke-width="1.5"/><circle cx="769" cy="940" r="5.9" fill="#DA1A1E" stroke="#111" stroke-width="1.5"/><circle cx="794.9" cy="969.6" r="5.9" fill="#DA1A1E" stroke="#111" stroke-width="1.5"/><circle cx="710.2" cy="971.6" r="5.9" fill="#DA1A1E" stroke="#111" stroke-width="1.5"/><circle cx="708.2" cy="977.8" r="5.9" fill="#DA1A1E" stroke="#111" stroke-width="1.5"/><circle cx="739.8" cy="975.3" r="5.9" fill="#DA1A1E" stroke="#111" stroke-width="1.5"/><circle cx="766.3" cy="979.8" r="5.9" fill="#DA1A1E" stroke="#111" stroke-width="1.5"/><circle cx="731.6" cy="983.9" r="5.9" fill="#DA1A1E" stroke="#111" stroke-width="1.5"/><circle cx="736.7" cy="993.1" r="5.9" fill="#DA1A1E" stroke="#111" stroke-width="1.5"/><circle cx="705.1" cy="990" r="5.9" fill="#DA1A1E" stroke="#111" stroke-width="1.5"/><circle cx="794.3" cy="993.1" r="5.9" fill="#DA1A1E" stroke="#111" stroke-width="1.5"/><circle cx="954.1" cy="989" r="5.9" fill="#DA1A1E" stroke="#111" stroke-width="1.5"/><circle cx="1050.4" cy="993.1" r="5.9" fill="#DA1A1E" stroke="#111" stroke-width="1.5"/><circle cx="1085.1" cy="991" r="5.9" fill="#DA1A1E" stroke="#111" stroke-width="1.5"/><circle cx="222.4" cy="963.5" r="6.3" fill="#9933FF" stroke="#111" stroke-width="1.5"/><circle cx="192.2" cy="976.7" r="6.3" fill="#9933FF" stroke="#111" stroke-width="1.5"/><circle cx="401.4" cy="913" r="6.3" fill="#9933FF" stroke="#111" stroke-width="1.5"/><circle cx="403.5" cy="955.3" r="6.3" fill="#9933FF" stroke="#111" stroke-width="1.5"/><circle cx="486.3" cy="892" r="6.3" fill="#9933FF" stroke="#111" stroke-width="1.5"/><circle cx="507.3" cy="980.8" r="6.3" fill="#9933FF" stroke="#111" stroke-width="1.5"/><circle cx="593.5" cy="976.7" r="6.3" fill="#9933FF" stroke="#111" stroke-width="1.5"/><circle cx="704.7" cy="970.6" r="6.3" fill="#9933FF" stroke="#111" stroke-width="1.5"/><circle cx="470" cy="989" r="6.3" fill="#9933FF" stroke="#111" stroke-width="1.5"/><circle cx="649.6" cy="993.1" r="6.3" fill="#9933FF" stroke="#111" stroke-width="1.5"/><circle cx="733.7" cy="950.2" r="6.3" fill="#9933FF" stroke="#111" stroke-width="1.5"/><circle cx="762.2" cy="966.5" r="6.3" fill="#9933FF" stroke="#111" stroke-width="1.5"/><circle cx="873.5" cy="980.8" r="6.3" fill="#9933FF" stroke="#111" stroke-width="1.5"/><circle cx="1082" cy="990" r="6.3" fill="#9933FF" stroke="#111" stroke-width="1.5"/></g>
<circle cx="559.4" cy="642" r="7.9" fill="#4B0082" stroke="#111" stroke-width="1.6"/>
<line x1="557.1" y1="664.5" x2="602.7" y2="679.8" stroke="#000" stroke-width="1.8"/>
<text x="580.2" y="649.3" font-size="26.4" font-weight="bold" textLength="113.3" lengthAdjust="spacingAndGlyphs">rs492602</text>
<text x="604.7" y="694" font-size="26.4" font-weight="bold" textLength="114.3" lengthAdjust="spacingAndGlyphs">rs601338</text>
<text x="1330.2" y="648.7" font-size="17.5" text-anchor="middle">r2</text>
<rect x="1311.9" y="658.7" width="37.1" height="19.3" fill="#D8141D"/>
<text x="1352.5" y="677" font-size="17.5">1</text>
<rect x="1311.9" y="677.5" width="37.1" height="19.3" fill="#E06024"/>
<text x="1352.5" y="695.8" font-size="17.5">0.9</text>
<rect x="1311.9" y="696.3" width="37.1" height="19.3" fill="#E88D3A"/>
<text x="1352.5" y="714.6" font-size="17.5">0.8</text>
<rect x="1311.9" y="715" width="37.1" height="19.3" fill="#EBB55E"/>
<text x="1352.5" y="733.3" font-size="17.5">0.7</text>
<rect x="1311.9" y="733.8" width="37.1" height="19.3" fill="#F2DA8B"/>
<text x="1352.5" y="752.1" font-size="17.5">0.6</text>
<rect x="1311.9" y="752.6" width="37.1" height="19.3" fill="#FCFEC8"/>
<text x="1352.5" y="770.9" font-size="17.5">0.5</text>
<rect x="1311.9" y="771.4" width="37.1" height="19.3" fill="#B9E9B1"/>
<text x="1352.5" y="789.7" font-size="17.5">0.4</text>
<rect x="1311.9" y="790.2" width="37.1" height="19.3" fill="#7AD4B7"/>
<text x="1352.5" y="808.5" font-size="17.5">0.3</text>
<rect x="1311.9" y="808.9" width="37.1" height="19.3" fill="#2DB8C0"/>
<text x="1352.5" y="827.2" font-size="17.5">0.2</text>
<rect x="1311.9" y="827.7" width="37.1" height="19.3" fill="#029BC4"/>
<text x="1352.5" y="846" font-size="17.5">0.1</text>
<circle cx="1311.4" cy="885" r="8" fill="#4B0082" stroke="#111" stroke-width="1.6"/>
<circle cx="1311.4" cy="913" r="7" fill="#9933FF" stroke="#111" stroke-width="1.5"/>
<circle cx="1311.4" cy="941.8" r="6.5" fill="#EE1111" stroke="#111" stroke-width="1.5"/>
<text x="1331" y="891.5" font-size="18.8">Top lead SNP</text>
<text x="1331" y="919.5" font-size="18.8">Lead SNPs</text>
<text x="1331" y="948.3" font-size="18.8">Independent significant SNPs</text>
<text x="138.4" y="1061.1" font-size="16.4" fill="#111" textLength="87.2" lengthAdjust="spacingAndGlyphs">SULT2B1<tspan font-family="Noto Sans CJK JP, sans-serif">→</tspan></text>
<line x1="142" y1="1074.5" x2="224.6" y2="1074.5" stroke="#0000FF" stroke-width="1.4"/><line x1="198" y1="1069" x2="198" y2="1080" stroke="#0000FF" stroke-width="1" opacity="0.35"/><line x1="201" y1="1069" x2="201" y2="1080" stroke="#0000FF" stroke-width="1" opacity="0.35"/><line x1="142" y1="1069" x2="142" y2="1080" stroke="#0000FF" stroke-width="1.4"/><line x1="186" y1="1069" x2="186" y2="1080" stroke="#0000FF" stroke-width="1.4"/><line x1="224.6" y1="1069" x2="224.6" y2="1080" stroke="#0000FF" stroke-width="1.4"/><line x1="219" y1="1069" x2="219" y2="1080" stroke="#0000FF" stroke-width="1.4"/><rect x="214" y="1069" width="3" height="11" fill="#0000FF"/>
<text x="335.6" y="1061.1" font-size="16.4" fill="#111" textLength="54.1" lengthAdjust="spacingAndGlyphs"><tspan font-family="Noto Sans CJK JP, sans-serif">←</tspan>CA11</text>
<line x1="349.6" y1="1074.5" x2="375.7" y2="1074.5" stroke="#FF0000" stroke-width="1.4"/><line x1="351" y1="1069" x2="351" y2="1080" stroke="#FF0000" stroke-width="1" opacity="0.35"/><line x1="353" y1="1069" x2="353" y2="1080" stroke="#FF0000" stroke-width="1" opacity="0.35"/><line x1="355" y1="1069" x2="355" y2="1080" stroke="#FF0000" stroke-width="1" opacity="0.35"/><line x1="357" y1="1069" x2="357" y2="1080" stroke="#FF0000" stroke-width="1" opacity="0.35"/><line x1="359" y1="1069" x2="359" y2="1080" stroke="#FF0000" stroke-width="1" opacity="0.35"/><line x1="349.6" y1="1069" x2="349.6" y2="1080" stroke="#FF0000" stroke-width="1.4"/><line x1="375.7" y1="1069" x2="375.7" y2="1080" stroke="#FF0000" stroke-width="1.4"/>
<text x="414" y="1061.1" font-size="16.4" fill="#111" textLength="60" lengthAdjust="spacingAndGlyphs"><tspan font-family="Noto Sans CJK JP, sans-serif">←</tspan>NTN5</text>
<line x1="424.6" y1="1074.5" x2="463" y2="1074.5" stroke="#FF0000" stroke-width="1.4"/><line x1="433" y1="1069" x2="433" y2="1080" stroke="#FF0000" stroke-width="1" opacity="0.35"/><line x1="424.6" y1="1069" x2="424.6" y2="1080" stroke="#FF0000" stroke-width="1.4"/><line x1="445" y1="1069" x2="445" y2="1080" stroke="#FF0000" stroke-width="1.4"/><line x1="455" y1="1069" x2="455" y2="1080" stroke="#FF0000" stroke-width="1.4"/><line x1="463" y1="1069" x2="463" y2="1080" stroke="#FF0000" stroke-width="1.4"/><rect x="426" y="1069" width="5" height="11" fill="#FF0000"/>
<text x="523" y="1061.1" font-size="16.4" fill="#111" textLength="57" lengthAdjust="spacingAndGlyphs">FUT2<tspan font-family="Noto Sans CJK JP, sans-serif">→</tspan></text>
<line x1="536" y1="1074.5" x2="567.7" y2="1074.5" stroke="#FF0000" stroke-width="1.4"/><line x1="536" y1="1069" x2="536" y2="1080" stroke="#FF0000" stroke-width="1.4"/><rect x="559" y="1069" width="8.7" height="11" fill="#FF0000"/>
<text x="697.7" y="1061.1" font-size="16.4" fill="#111" textLength="68.3" lengthAdjust="spacingAndGlyphs">FGF21<tspan font-family="Noto Sans CJK JP, sans-serif">→</tspan></text>
<line x1="728" y1="1074.5" x2="736.4" y2="1074.5" stroke="#0000FF" stroke-width="1.4"/><line x1="728" y1="1069" x2="728" y2="1080" stroke="#0000FF" stroke-width="1.4"/><line x1="730" y1="1069" x2="730" y2="1080" stroke="#0000FF" stroke-width="1.4"/><line x1="734" y1="1069" x2="734" y2="1080" stroke="#0000FF" stroke-width="1.4"/><line x1="736.4" y1="1069" x2="736.4" y2="1080" stroke="#0000FF" stroke-width="1.4"/>
<text x="847" y="1061.1" font-size="16.4" fill="#111" textLength="68.6" lengthAdjust="spacingAndGlyphs"><tspan font-family="Noto Sans CJK JP, sans-serif">←</tspan>BCAT2</text>
<line x1="855" y1="1074.5" x2="905.4" y2="1074.5" stroke="#0000FF" stroke-width="1.4"/><line x1="900" y1="1069" x2="900" y2="1080" stroke="#0000FF" stroke-width="1" opacity="0.35"/><line x1="855" y1="1069" x2="855" y2="1080" stroke="#0000FF" stroke-width="1.4"/><line x1="857" y1="1069" x2="857" y2="1080" stroke="#0000FF" stroke-width="1.4"/><line x1="867" y1="1069" x2="867" y2="1080" stroke="#0000FF" stroke-width="1.4"/><line x1="868" y1="1069" x2="868" y2="1080" stroke="#0000FF" stroke-width="1.4"/><line x1="905.4" y1="1069" x2="905.4" y2="1080" stroke="#0000FF" stroke-width="1.4"/><rect x="859" y="1069" width="3" height="11" fill="#0000FF"/><rect x="895" y="1069" width="2.5" height="11" fill="#0000FF"/>
<text x="1126.5" y="1061.1" font-size="16.4" fill="#111" textLength="68" lengthAdjust="spacingAndGlyphs"><tspan font-family="Noto Sans CJK JP, sans-serif">←</tspan>TULP2</text>
<line x1="1131" y1="1074.5" x2="1188" y2="1074.5" stroke="#FF0000" stroke-width="1.4"/><line x1="1131" y1="1069" x2="1131" y2="1080" stroke="#FF0000" stroke-width="1" opacity="0.35"/><line x1="1135" y1="1069" x2="1135" y2="1080" stroke="#FF0000" stroke-width="1" opacity="0.35"/><line x1="1139" y1="1069" x2="1139" y2="1080" stroke="#FF0000" stroke-width="1" opacity="0.35"/><line x1="1143" y1="1069" x2="1143" y2="1080" stroke="#FF0000" stroke-width="1" opacity="0.35"/><line x1="1147" y1="1069" x2="1147" y2="1080" stroke="#FF0000" stroke-width="1" opacity="0.35"/><line x1="1150" y1="1069" x2="1150" y2="1080" stroke="#FF0000" stroke-width="1" opacity="0.35"/><line x1="1162" y1="1069" x2="1162" y2="1080" stroke="#FF0000" stroke-width="1" opacity="0.35"/><line x1="1170" y1="1069" x2="1170" y2="1080" stroke="#FF0000" stroke-width="1" opacity="0.35"/><line x1="1175" y1="1069" x2="1175" y2="1080" stroke="#FF0000" stroke-width="1" opacity="0.35"/><line x1="1179" y1="1069" x2="1179" y2="1080" stroke="#FF0000" stroke-width="1" opacity="0.35"/><line x1="1182" y1="1069" x2="1182" y2="1080" stroke="#FF0000" stroke-width="1" opacity="0.35"/><line x1="1185" y1="1069" x2="1185" y2="1080" stroke="#FF0000" stroke-width="1" opacity="0.35"/><line x1="1188" y1="1069" x2="1188" y2="1080" stroke="#FF0000" stroke-width="1" opacity="0.35"/><line x1="1155" y1="1069" x2="1155" y2="1080" stroke="#FF0000" stroke-width="1.4"/>
<text x="212" y="1099.6" font-size="16.4" fill="#111" textLength="80.7" lengthAdjust="spacingAndGlyphs"><tspan font-family="Noto Sans CJK JP, sans-serif">←</tspan>FAM83E</text>
<line x1="229" y1="1113" x2="274.5" y2="1113" stroke="#FF0000" stroke-width="1.4"/><line x1="257" y1="1107.5" x2="257" y2="1118.5" stroke="#FF0000" stroke-width="1" opacity="0.35"/><line x1="262" y1="1107.5" x2="262" y2="1118.5" stroke="#FF0000" stroke-width="1" opacity="0.35"/><line x1="271" y1="1107.5" x2="271" y2="1118.5" stroke="#FF0000" stroke-width="1" opacity="0.35"/><line x1="229" y1="1107.5" x2="229" y2="1118.5" stroke="#FF0000" stroke-width="1.4"/><line x1="235" y1="1107.5" x2="235" y2="1118.5" stroke="#FF0000" stroke-width="1.4"/><line x1="268" y1="1107.5" x2="268" y2="1118.5" stroke="#FF0000" stroke-width="1.4"/><line x1="274.5" y1="1107.5" x2="274.5" y2="1118.5" stroke="#FF0000" stroke-width="1.4"/>
<text x="311" y="1099.6" font-size="16.4" fill="#111" textLength="50" lengthAdjust="spacingAndGlyphs"><tspan font-family="Noto Sans CJK JP, sans-serif">←</tspan>DBP</text>
<line x1="324" y1="1113" x2="349.6" y2="1113" stroke="#FF0000" stroke-width="1.4"/><line x1="349.6" y1="1107.5" x2="349.6" y2="1118.5" stroke="#FF0000" stroke-width="1" opacity="0.35"/><line x1="346" y1="1107.5" x2="346" y2="1118.5" stroke="#FF0000" stroke-width="1.4"/><rect x="324" y="1107.5" width="20" height="11" fill="#FF0000"/>
<text x="383.4" y="1099.6" font-size="16.4" fill="#111" textLength="70.6" lengthAdjust="spacingAndGlyphs">SEC1P<tspan font-family="Noto Sans CJK JP, sans-serif">→</tspan></text>
<line x1="349.6" y1="1113" x2="487.4" y2="1113" stroke="#404040" stroke-width="1.4"/><line x1="430" y1="1107.5" x2="430" y2="1118.5" stroke="#404040" stroke-width="1" opacity="0.35"/><line x1="444" y1="1107.5" x2="444" y2="1118.5" stroke="#404040" stroke-width="1" opacity="0.35"/><line x1="462" y1="1107.5" x2="462" y2="1118.5" stroke="#404040" stroke-width="1" opacity="0.35"/><rect x="485" y="1107.5" width="3" height="11" fill="#404040"/>
<text x="558" y="1099.6" font-size="16.4" fill="#111" textLength="88" lengthAdjust="spacingAndGlyphs"><tspan font-family="Noto Sans CJK JP, sans-serif">←</tspan>MAMSTR</text>
<line x1="590.4" y1="1113" x2="612.4" y2="1113" stroke="#FF0000" stroke-width="1.4"/><line x1="599" y1="1107.5" x2="599" y2="1118.5" stroke="#FF0000" stroke-width="1" opacity="0.35"/><line x1="602" y1="1107.5" x2="602" y2="1118.5" stroke="#FF0000" stroke-width="1" opacity="0.35"/><line x1="605" y1="1107.5" x2="605" y2="1118.5" stroke="#FF0000" stroke-width="1" opacity="0.35"/><line x1="612.4" y1="1107.5" x2="612.4" y2="1118.5" stroke="#FF0000" stroke-width="1" opacity="0.35"/><line x1="591" y1="1107.5" x2="591" y2="1118.5" stroke="#FF0000" stroke-width="1.4"/><line x1="594" y1="1107.5" x2="594" y2="1118.5" stroke="#FF0000" stroke-width="1.4"/><line x1="597" y1="1107.5" x2="597" y2="1118.5" stroke="#FF0000" stroke-width="1.4"/>
<text x="651" y="1099.6" font-size="16.4" fill="#111" textLength="78.5" lengthAdjust="spacingAndGlyphs"><tspan font-family="Noto Sans CJK JP, sans-serif">←</tspan>IZUMO1</text>
<line x1="680.6" y1="1113" x2="699.8" y2="1113" stroke="#FF0000" stroke-width="1.4"/><line x1="681" y1="1107.5" x2="681" y2="1118.5" stroke="#FF0000" stroke-width="1.4"/><line x1="684" y1="1107.5" x2="684" y2="1118.5" stroke="#FF0000" stroke-width="1.4"/><line x1="688" y1="1107.5" x2="688" y2="1118.5" stroke="#FF0000" stroke-width="1.4"/><line x1="691" y1="1107.5" x2="691" y2="1118.5" stroke="#FF0000" stroke-width="1.4"/><line x1="694" y1="1107.5" x2="694" y2="1118.5" stroke="#FF0000" stroke-width="1.4"/><line x1="697" y1="1107.5" x2="697" y2="1118.5" stroke="#FF0000" stroke-width="1.4"/><line x1="699.8" y1="1107.5" x2="699.8" y2="1118.5" stroke="#FF0000" stroke-width="1.4"/>
<text x="796" y="1099.6" font-size="16.4" fill="#111" textLength="107" lengthAdjust="spacingAndGlyphs"><tspan font-family="Noto Sans CJK JP, sans-serif">←</tspan>RNU6-317P</text>
<line x1="848" y1="1107.5" x2="848" y2="1118.5" stroke="#404040" stroke-width="1" opacity="0.35"/>
<text x="901" y="1099.6" font-size="16.4" fill="#111" textLength="100" lengthAdjust="spacingAndGlyphs"><tspan font-family="Noto Sans CJK JP, sans-serif">←</tspan>HSD17B14</text>
<line x1="913.5" y1="1113" x2="989" y2="1113" stroke="#0000FF" stroke-width="1.4"/><line x1="917" y1="1107.5" x2="917" y2="1118.5" stroke="#0000FF" stroke-width="1" opacity="0.35"/><line x1="970" y1="1107.5" x2="970" y2="1118.5" stroke="#0000FF" stroke-width="1" opacity="0.35"/><line x1="975" y1="1107.5" x2="975" y2="1118.5" stroke="#0000FF" stroke-width="1" opacity="0.35"/><line x1="980" y1="1107.5" x2="980" y2="1118.5" stroke="#0000FF" stroke-width="1" opacity="0.35"/><line x1="985" y1="1107.5" x2="985" y2="1118.5" stroke="#0000FF" stroke-width="1" opacity="0.35"/><line x1="913.5" y1="1107.5" x2="913.5" y2="1118.5" stroke="#0000FF" stroke-width="1.4"/>
<text x="997" y="1099.6" font-size="16.4" fill="#111" textLength="89.6" lengthAdjust="spacingAndGlyphs"><tspan font-family="Noto Sans CJK JP, sans-serif">←</tspan>PLEKHA4</text>
<line x1="989" y1="1113" x2="1091" y2="1113" stroke="#FF0000" stroke-width="1.4"/><line x1="995" y1="1107.5" x2="995" y2="1118.5" stroke="#FF0000" stroke-width="1" opacity="0.35"/><line x1="1000" y1="1107.5" x2="1000" y2="1118.5" stroke="#FF0000" stroke-width="1" opacity="0.35"/><line x1="1008" y1="1107.5" x2="1008" y2="1118.5" stroke="#FF0000" stroke-width="1" opacity="0.35"/><line x1="1025" y1="1107.5" x2="1025" y2="1118.5" stroke="#FF0000" stroke-width="1" opacity="0.35"/><line x1="1035" y1="1107.5" x2="1035" y2="1118.5" stroke="#FF0000" stroke-width="1" opacity="0.35"/><line x1="1045" y1="1107.5" x2="1045" y2="1118.5" stroke="#FF0000" stroke-width="1" opacity="0.35"/><line x1="1060" y1="1107.5" x2="1060" y2="1118.5" stroke="#FF0000" stroke-width="1" opacity="0.35"/><line x1="1070" y1="1107.5" x2="1070" y2="1118.5" stroke="#FF0000" stroke-width="1" opacity="0.35"/><line x1="1080" y1="1107.5" x2="1080" y2="1118.5" stroke="#FF0000" stroke-width="1" opacity="0.35"/><line x1="989" y1="1107.5" x2="989" y2="1118.5" stroke="#FF0000" stroke-width="1.4"/><line x1="991" y1="1107.5" x2="991" y2="1118.5" stroke="#FF0000" stroke-width="1.4"/><line x1="1016" y1="1107.5" x2="1016" y2="1118.5" stroke="#FF0000" stroke-width="1.4"/><line x1="1056" y1="1107.5" x2="1056" y2="1118.5" stroke="#FF0000" stroke-width="1.4"/><line x1="1091" y1="1107.5" x2="1091" y2="1118.5" stroke="#FF0000" stroke-width="1.4"/>
<text x="1193.6" y="1099.6" font-size="16.4" fill="#111" textLength="72.1" lengthAdjust="spacingAndGlyphs">NUCB1<tspan font-family="Noto Sans CJK JP, sans-serif">→</tspan></text>
<line x1="1193.6" y1="1113" x2="1267.8" y2="1113" stroke="#FF0000" stroke-width="1.4"/><line x1="1220" y1="1107.5" x2="1220" y2="1118.5" stroke="#FF0000" stroke-width="1" opacity="0.35"/><line x1="1228" y1="1107.5" x2="1228" y2="1118.5" stroke="#FF0000" stroke-width="1" opacity="0.35"/><line x1="1241" y1="1107.5" x2="1241" y2="1118.5" stroke="#FF0000" stroke-width="1" opacity="0.35"/><line x1="1193.6" y1="1107.5" x2="1193.6" y2="1118.5" stroke="#FF0000" stroke-width="1.4"/><line x1="1195" y1="1107.5" x2="1195" y2="1118.5" stroke="#FF0000" stroke-width="1.4"/><line x1="1209" y1="1107.5" x2="1209" y2="1118.5" stroke="#FF0000" stroke-width="1.4"/><line x1="1233" y1="1107.5" x2="1233" y2="1118.5" stroke="#FF0000" stroke-width="1.4"/><line x1="1254" y1="1107.5" x2="1254" y2="1118.5" stroke="#FF0000" stroke-width="1.4"/><line x1="1262" y1="1107.5" x2="1262" y2="1118.5" stroke="#FF0000" stroke-width="1.4"/><line x1="1266" y1="1107.5" x2="1266" y2="1118.5" stroke="#FF0000" stroke-width="1.4"/>
<text x="209" y="1137" font-size="16.4" fill="#111" textLength="64" lengthAdjust="spacingAndGlyphs">SPACA4</text>
<rect x="249" y="1144.9" width="2.5" height="11" fill="#FF0000"/>
<text x="271" y="1137" font-size="16.4" fill="#111" textLength="71" lengthAdjust="spacingAndGlyphs">SPHK2<tspan font-family="Noto Sans CJK JP, sans-serif">→</tspan></text>
<line x1="288.5" y1="1150.4" x2="326" y2="1150.4" stroke="#FF0000" stroke-width="1.4"/><line x1="300" y1="1144.9" x2="300" y2="1155.9" stroke="#FF0000" stroke-width="1" opacity="0.35"/><line x1="288.5" y1="1144.9" x2="288.5" y2="1155.9" stroke="#FF0000" stroke-width="1.4"/><line x1="297" y1="1144.9" x2="297" y2="1155.9" stroke="#FF0000" stroke-width="1.4"/><rect x="305" y="1144.9" width="7" height="11" fill="#FF0000"/><rect x="318" y="1144.9" width="8" height="11" fill="#FF0000"/>
<text x="442.8" y="1137" font-size="16.4" fill="#111" textLength="109.2" lengthAdjust="spacingAndGlyphs">RN7SL345P<tspan font-family="Noto Sans CJK JP, sans-serif">→</tspan></text>
<line x1="498" y1="1144.9" x2="498" y2="1155.9" stroke="#404040" stroke-width="1" opacity="0.35"/>
<text x="610" y="1137" font-size="16.4" fill="#111" textLength="73.6" lengthAdjust="spacingAndGlyphs"><tspan font-family="Noto Sans CJK JP, sans-serif">←</tspan>RASIP1</text>
<line x1="615.5" y1="1150.4" x2="680" y2="1150.4" stroke="#FF0000" stroke-width="1.4"/><line x1="618" y1="1144.9" x2="618" y2="1155.9" stroke="#FF0000" stroke-width="1" opacity="0.35"/><line x1="621" y1="1144.9" x2="621" y2="1155.9" stroke="#FF0000" stroke-width="1" opacity="0.35"/><line x1="676" y1="1144.9" x2="676" y2="1155.9" stroke="#FF0000" stroke-width="1" opacity="0.35"/><line x1="615.5" y1="1144.9" x2="615.5" y2="1155.9" stroke="#FF0000" stroke-width="1.4"/><line x1="626" y1="1144.9" x2="626" y2="1155.9" stroke="#FF0000" stroke-width="1.4"/><line x1="627" y1="1144.9" x2="627" y2="1155.9" stroke="#FF0000" stroke-width="1.4"/><line x1="634" y1="1144.9" x2="634" y2="1155.9" stroke="#FF0000" stroke-width="1.4"/><line x1="649" y1="1144.9" x2="649" y2="1155.9" stroke="#FF0000" stroke-width="1.4"/><line x1="663" y1="1144.9" x2="663" y2="1155.9" stroke="#FF0000" stroke-width="1.4"/><line x1="680" y1="1144.9" x2="680" y2="1155.9" stroke="#FF0000" stroke-width="1.4"/>
<text x="687.5" y="1137" font-size="16.4" fill="#111" textLength="56.2" lengthAdjust="spacingAndGlyphs"><tspan font-family="Noto Sans CJK JP, sans-serif">←</tspan>FUT1</text>
<line x1="704" y1="1150.4" x2="726" y2="1150.4" stroke="#FF0000" stroke-width="1.4"/><line x1="726" y1="1144.9" x2="726" y2="1155.9" stroke="#FF0000" stroke-width="1" opacity="0.35"/><line x1="719" y1="1144.9" x2="719" y2="1155.9" stroke="#FF0000" stroke-width="1.4"/><line x1="722" y1="1144.9" x2="722" y2="1155.9" stroke="#FF0000" stroke-width="1.4"/><rect x="704" y="1144.9" width="12" height="11" fill="#FF0000"/>
<text x="1059" y="1137" font-size="16.4" fill="#111" textLength="99.6" lengthAdjust="spacingAndGlyphs">PPP1R15A<tspan font-family="Noto Sans CJK JP, sans-serif">→</tspan></text>
<line x1="1105" y1="1150.4" x2="1115" y2="1150.4" stroke="#0000FF" stroke-width="1.4"/><line x1="1104" y1="1144.9" x2="1104" y2="1155.9" stroke="#0000FF" stroke-width="1" opacity="0.35"/><rect x="1106" y="1144.9" width="9" height="11" fill="#0000FF"/>
<text x="1186" y="1137" font-size="16.4" fill="#111" textLength="108" lengthAdjust="spacingAndGlyphs"><tspan font-family="Noto Sans CJK JP, sans-serif">←</tspan>NUCB1-AS1</text>
<line x1="1228" y1="1150.4" x2="1252.7" y2="1150.4" stroke="#404040" stroke-width="1.4"/><line x1="1228" y1="1144.9" x2="1228" y2="1155.9" stroke="#404040" stroke-width="1.4"/><line x1="1252.7" y1="1144.9" x2="1252.7" y2="1155.9" stroke="#404040" stroke-width="1.4"/>
<text x="250" y="1173.6" font-size="16.4" fill="#111" textLength="67" lengthAdjust="spacingAndGlyphs"><tspan font-family="Noto Sans CJK JP, sans-serif">←</tspan>RPL18</text>
<line x1="276" y1="1187" x2="290" y2="1187" stroke="#FF0000" stroke-width="1.4"/><rect x="276" y="1181.5" width="14" height="11" fill="#FF0000"/>
<text x="242.4" y="1210.3" font-size="16.4" fill="#111" textLength="109.6" lengthAdjust="spacingAndGlyphs"><tspan font-family="Noto Sans CJK JP, sans-serif">←</tspan>AC022154.7</text>
<line x1="289.5" y1="1223.7" x2="305" y2="1223.7" stroke="#404040" stroke-width="1.4"/><line x1="300" y1="1218.2" x2="300" y2="1229.2" stroke="#404040" stroke-width="1" opacity="0.35"/><line x1="289.5" y1="1218.2" x2="289.5" y2="1229.2" stroke="#404040" stroke-width="1.4"/><line x1="292" y1="1218.2" x2="292" y2="1229.2" stroke="#404040" stroke-width="1.4"/><line x1="305" y1="1218.2" x2="305" y2="1229.2" stroke="#404040" stroke-width="1.4"/>
<rect x="1311.5" y="1055.4" width="37.9" height="8.6" fill="#FF0000"/>
<text x="1359.3" y="1066.3" font-size="18.7" fill="#111">Mapped genes</text>
<rect x="1311.5" y="1083.4" width="37.9" height="8.6" fill="#0000FF"/>
<text x="1359.3" y="1094.3" font-size="18.7" fill="#111">Non-mapped protein coding genes</text>
<rect x="1311.5" y="1111.7" width="37.9" height="8.6" fill="#404040"/>
<text x="1359.3" y="1122.6" font-size="18.7" fill="#111">Non-mapped non-coding genes</text>
<path d="M1637.5 370 V787.5 H1440" fill="none" stroke="#000" stroke-width="6.5"/>
<polygon points="1413,787.5 1447,768.5 1447,806.4" fill="#000"/>
<text x="14.5" y="1277.7" font-size="35" font-weight="bold">d.</text>
<text x="284" y="1471.8" font-size="26" font-weight="bold">LNT</text>
<line x1="352.4" y1="1465.2" x2="452" y2="1465.2" stroke="#000" stroke-width="6.8"/>
<line x1="413" y1="1461.8" x2="413" y2="1652" stroke="#000" stroke-width="6.8"/>
<polygon points="449.6,1454.8 469.5,1464.6 449.6,1474.3" fill="#000"/>
<line x1="410" y1="1648.7" x2="455" y2="1648.7" stroke="#000" stroke-width="6.8"/>
<polygon points="452.5,1639 472.5,1648.7 452.5,1658.5" fill="#000"/>
<line x1="415.7" y1="1269.4" x2="415.7" y2="1461" stroke="#000" stroke-width="4.4" stroke-dasharray="15.4,8.6"/>
<line x1="413.5" y1="1271.3" x2="459.8" y2="1271.3" stroke="#000" stroke-width="3.7" stroke-dasharray="9,6.6"/>
<polygon points="459.6,1264.4 473.4,1271.3 459.6,1278.1" fill="#000"/>
<circle cx="415.7" cy="1336.5" r="17.7" fill="none" stroke="#000" stroke-width="8.3"/>
<line x1="404" y1="1324" x2="428" y2="1348.5" stroke="#000" stroke-width="7"/>
<text x="326.5" y="1346" font-size="23.4" font-style="italic" textLength="58.7" lengthAdjust="spacingAndGlyphs">FUT2</text>
<text x="436" y="1441" font-size="17" text-anchor="middle">+</text>
<polygon points="460.8,1421.5 473.4,1446.6 448.2,1446.6" fill="#FF0000" stroke="#000" stroke-width="2.3" stroke-linejoin="miter"/>
<text x="435.4" y="1628" font-size="17" text-anchor="middle">+</text>
<polygon points="460,1609.1 472.6,1621.7 460,1634.3 447.4,1621.7" fill="#8063A9" stroke="#000" stroke-width="2.3"/>
<text x="478" y="1280.8" font-size="26" font-weight="bold">LNFP1</text>
<text x="478" y="1479" font-size="26.6" font-weight="bold">LNFP2</text>
<text x="478" y="1660.4" font-size="26.3" font-weight="bold">LSTb</text>
<line x1="241.6" y1="1572.9" x2="282.9" y2="1546.3" stroke="#000" stroke-width="3.2"/>
<line x1="282.9" y1="1546.3" x2="321" y2="1517" stroke="#000" stroke-width="3.2"/>
<line x1="321" y1="1517" x2="372" y2="1517" stroke="#000" stroke-width="3.2"/>
<circle cx="241.6" cy="1572.9" r="12.6" fill="#FFFF00" stroke="#000" stroke-width="2.3"/>
<rect x="270.6" y="1534" width="24.6" height="24.6" fill="#0000FF" stroke="#000" stroke-width="2.3"/>
<circle cx="321" cy="1517" r="12.6" fill="#FFFF00" stroke="#000" stroke-width="2.3"/>
<circle cx="372" cy="1517" r="12.6" fill="#0000FF" stroke="#000" stroke-width="2.3"/>
<text x="283" y="1579.6" font-size="15.6" text-anchor="middle" font-weight="bold">β1-3</text>
<text x="327" y="1550.6" font-size="15.6" text-anchor="middle" font-weight="bold">β1-3</text>
<text x="351" y="1503.6" font-size="15.6" text-anchor="middle" font-weight="bold">β1-4</text>
<ellipse cx="527" cy="1373" rx="29" ry="33" transform="rotate(-30 527 1373)" fill="#E2EED8"/>
<line x1="505.9" y1="1354.3" x2="547.3" y2="1326.8" stroke="#000" stroke-width="3.2"/>
<line x1="547.3" y1="1326.8" x2="585.4" y2="1297.5" stroke="#000" stroke-width="3.2"/>
<line x1="585.4" y1="1297.5" x2="636" y2="1297.5" stroke="#000" stroke-width="3.2"/>
<line x1="505.9" y1="1354.3" x2="532.5" y2="1385" stroke="#000" stroke-width="3.2"/>
<circle cx="505.9" cy="1354.3" r="12.6" fill="#FFFF00" stroke="#000" stroke-width="2.3"/>
<rect x="535" y="1314.5" width="24.6" height="24.6" fill="#0000FF" stroke="#000" stroke-width="2.3"/>
<circle cx="585.4" cy="1297.5" r="12.6" fill="#FFFF00" stroke="#000" stroke-width="2.3"/>
<circle cx="636" cy="1297.5" r="12.6" fill="#0000FF" stroke="#000" stroke-width="2.3"/>
<polygon points="532.5,1368.5 545.1,1394.9 519.9,1394.9" fill="#FF0000" stroke="#000" stroke-width="2.3" stroke-linejoin="miter"/>
<text x="613" y="1283.6" font-size="15.6" text-anchor="middle" font-weight="bold">β1-4</text>
<text x="590" y="1328.1" font-size="15.6" text-anchor="middle" font-weight="bold">β1-3</text>
<text x="547" y="1359.6" font-size="15.6" text-anchor="middle" font-weight="bold">β1-3</text>
<text x="501" y="1385.6" font-size="15" text-anchor="middle" font-weight="bold">α1-2</text>
<line x1="505.9" y1="1565.2" x2="547.3" y2="1538" stroke="#000" stroke-width="3.2"/>
<line x1="506.8" y1="1537" x2="547.3" y2="1538" stroke="#000" stroke-width="3.2"/>
<line x1="547.3" y1="1538" x2="585" y2="1507.7" stroke="#000" stroke-width="3.2"/>
<line x1="585" y1="1507.7" x2="636" y2="1507.7" stroke="#000" stroke-width="3.2"/>
<circle cx="505.9" cy="1565.2" r="12.6" fill="#FFFF00" stroke="#000" stroke-width="2.3"/>
<polygon points="506.8,1525.8 519.4,1548.5 494.2,1548.5" fill="#FF0000" stroke="#000" stroke-width="2.3" stroke-linejoin="miter"/>
<rect x="535" y="1525.7" width="24.6" height="24.6" fill="#0000FF" stroke="#000" stroke-width="2.3"/>
<circle cx="585" cy="1507.7" r="12.6" fill="#FFFF00" stroke="#000" stroke-width="2.3"/>
<circle cx="636" cy="1507.7" r="12.6" fill="#0000FF" stroke="#000" stroke-width="2.3"/>
<text x="613" y="1494.6" font-size="15.6" text-anchor="middle" font-weight="bold">β1-4</text>
<text x="525.5" y="1519.6" font-size="15" text-anchor="middle" font-weight="bold">α1-4</text>
<text x="587.5" y="1539.1" font-size="15.6" text-anchor="middle" font-weight="bold">β1-3</text>
<text x="547.3" y="1571.1" font-size="15.6" text-anchor="middle" font-weight="bold">β1-3</text>
<line x1="506" y1="1750.7" x2="547.3" y2="1723.4" stroke="#000" stroke-width="3.2"/>
<line x1="547.3" y1="1723.4" x2="547.3" y2="1678" stroke="#000" stroke-width="3.2"/>
<line x1="547.3" y1="1723.4" x2="584.5" y2="1693.5" stroke="#000" stroke-width="3.2"/>
<line x1="584.5" y1="1693.5" x2="636" y2="1693.5" stroke="#000" stroke-width="3.2"/>
<circle cx="506" cy="1750.7" r="12.6" fill="#FFFF00" stroke="#000" stroke-width="2.3"/>
<polygon points="546.7,1665.4 559.3,1678 546.7,1690.6 534.1,1678" fill="#8063A9" stroke="#000" stroke-width="2.3"/>
<rect x="535" y="1711.1" width="24.6" height="24.6" fill="#0000FF" stroke="#000" stroke-width="2.3"/>
<circle cx="584.5" cy="1693.5" r="12.6" fill="#FFFF00" stroke="#000" stroke-width="2.3"/>
<circle cx="636" cy="1693.5" r="12.6" fill="#0000FF" stroke="#000" stroke-width="2.3"/>
<text x="613" y="1680.1" font-size="15.6" text-anchor="middle" font-weight="bold">β1-4</text>
<text x="524.6" y="1703.6" font-size="15" text-anchor="middle" font-weight="bold">α2-6</text>
<text x="586" y="1725.1" font-size="15.6" text-anchor="middle" font-weight="bold">β1-3</text>
<text x="546.7" y="1756.6" font-size="15.6" text-anchor="middle" font-weight="bold">β1-3</text>
<polygon points="688.9,1318 707,1318 707,1349.5 717.6,1349.5 697.8,1367 678,1349.5 688.9,1349.5" fill="#fff" stroke="#000" stroke-width="2.6" stroke-linejoin="miter"/>
<polygon points="697.8,1480.5 717.6,1499.5 707,1499.5 707,1532 688.9,1532 688.9,1499.5 678,1499.5" fill="#000"/>
<polygon points="697.8,1662.3 717.6,1682 707,1682 707,1714.4 688.9,1714.4 688.9,1682 678,1682" fill="#000"/>
<polygon points="697.8,1931.5 717.6,1950.3 707,1950.3 707,1983 688.9,1983 688.9,1950.3 678,1950.3" fill="#000"/>
<polygon points="688.9,2124.3 707,2124.3 707,2156 717.6,2156 697.8,2174.2 678,2156 688.9,2156" fill="#fff" stroke="#000" stroke-width="2.6" stroke-linejoin="miter"/>
<text x="270.3" y="2029.9" font-size="26.5" font-weight="bold">LNnT</text>
<line x1="354.6" y1="2023.5" x2="416" y2="2023.5" stroke="#000" stroke-width="6.8"/>
<line x1="412.5" y1="1925.5" x2="412.5" y2="2117" stroke="#000" stroke-width="6.8"/>
<line x1="409" y1="1928.8" x2="455" y2="1928.8" stroke="#000" stroke-width="6.8"/>
<polygon points="451.4,1919 471.2,1928.8 451.4,1938.5" fill="#000"/>
<line x1="409" y1="2113.7" x2="455" y2="2113.7" stroke="#000" stroke-width="6.8"/>
<polygon points="451.4,2103.9 471.2,2113.7 451.4,2123.4" fill="#000"/>
<text x="434" y="1904.5" font-size="17" text-anchor="middle">+</text>
<polygon points="457.9,1883.2 471.1,1907.8 444.6,1907.8" fill="#FF0000" stroke="#000" stroke-width="2.3" stroke-linejoin="miter"/>
<text x="432.7" y="2092.5" font-size="17" text-anchor="middle">+</text>
<polygon points="457,2072.5 469.6,2085.1 457,2097.7 444.4,2085.1" fill="#8063A9" stroke="#000" stroke-width="2.3"/>
<text x="478.6" y="1935.3" font-size="26.7" font-weight="bold">LNFP3</text>
<text x="478" y="2121.3" font-size="26.4" font-weight="bold">LSTc</text>
<line x1="245.7" y1="2090.8" x2="296.8" y2="2090.8" stroke="#000" stroke-width="3.2"/>
<line x1="296.8" y1="2090.8" x2="335.1" y2="2061.4" stroke="#000" stroke-width="3.2"/>
<line x1="335.1" y1="2061.4" x2="386.2" y2="2061.4" stroke="#000" stroke-width="3.2"/>
<circle cx="245.7" cy="2090.8" r="12.6" fill="#FFFF00" stroke="#000" stroke-width="2.3"/>
<rect x="284.5" y="2078.5" width="24.6" height="24.6" fill="#0000FF" stroke="#000" stroke-width="2.3"/>
<circle cx="335.1" cy="2061.4" r="12.6" fill="#FFFF00" stroke="#000" stroke-width="2.3"/>
<circle cx="386.2" cy="2061.4" r="12.6" fill="#0000FF" stroke="#000" stroke-width="2.3"/>
<text x="269.5" y="2077.6" font-size="15.6" text-anchor="middle" font-weight="bold">β1-4</text>
<text x="340.7" y="2096.6" font-size="15.6" text-anchor="middle" font-weight="bold">β1-3</text>
<text x="363" y="2048.1" font-size="15.6" text-anchor="middle" font-weight="bold">β1-4</text>
<line x1="500.7" y1="1988.2" x2="544.3" y2="1989.7" stroke="#000" stroke-width="3.2"/>
<line x1="512.5" y1="2014" x2="544.3" y2="1989.7" stroke="#000" stroke-width="3.2"/>
<line x1="544.3" y1="1989.7" x2="582.4" y2="1960.4" stroke="#000" stroke-width="3.2"/>
<line x1="582.4" y1="1960.4" x2="633" y2="1960.4" stroke="#000" stroke-width="3.2"/>
<circle cx="500.7" cy="1988.2" r="12.6" fill="#FFFF00" stroke="#000" stroke-width="2.3"/>
<polygon points="512.5,2000.3 525.4,2026 499.6,2026" fill="#FF0000" stroke="#000" stroke-width="2.3" stroke-linejoin="miter"/>
<rect x="532" y="1977.4" width="24.6" height="24.6" fill="#0000FF" stroke="#000" stroke-width="2.3"/>
<circle cx="582.4" cy="1960.4" r="12.6" fill="#FFFF00" stroke="#000" stroke-width="2.3"/>
<circle cx="633" cy="1960.4" r="12.6" fill="#0000FF" stroke="#000" stroke-width="2.3"/>
<text x="611.7" y="1946.9" font-size="15.6" text-anchor="middle" font-weight="bold">β1-4</text>
<text x="521" y="1972.1" font-size="15.6" text-anchor="middle" font-weight="bold">β1-4</text>
<text x="585" y="1993.2" font-size="15.6" text-anchor="middle" font-weight="bold">β1-3</text>
<text x="544.6" y="2024.1" font-size="15" text-anchor="middle" font-weight="bold">α1-3</text>
<line x1="498.3" y1="2199.3" x2="545.2" y2="2199.3" stroke="#000" stroke-width="3.2"/>
<line x1="498.3" y1="2199.3" x2="498.3" y2="2154.6" stroke="#000" stroke-width="3.2"/>
<line x1="545.2" y1="2199.3" x2="582.4" y2="2169.7" stroke="#000" stroke-width="3.2"/>
<line x1="582.4" y1="2169.7" x2="633.5" y2="2169.7" stroke="#000" stroke-width="3.2"/>
<polygon points="498.3,2142 510.9,2154.6 498.3,2167.2 485.7,2154.6" fill="#8063A9" stroke="#000" stroke-width="2.3"/>
<circle cx="498.3" cy="2199.3" r="12.6" fill="#FFFF00" stroke="#000" stroke-width="2.3"/>
<rect x="532.9" y="2187" width="24.6" height="24.6" fill="#0000FF" stroke="#000" stroke-width="2.3"/>
<circle cx="582.4" cy="2169.7" r="12.6" fill="#FFFF00" stroke="#000" stroke-width="2.3"/>
<circle cx="633.5" cy="2169.7" r="12.6" fill="#0000FF" stroke="#000" stroke-width="2.3"/>
<text x="613.2" y="2155.6" font-size="15.6" text-anchor="middle" font-weight="bold">β1-4</text>
<text x="477" y="2181.6" font-size="15" text-anchor="middle" font-weight="bold">α2-6</text>
<text x="584.5" y="2202.1" font-size="15.6" text-anchor="middle" font-weight="bold">β1-3</text>
<text x="521.9" y="2227.3" font-size="15.6" text-anchor="middle" font-weight="bold">β1-4</text>
<path d="M101 1441 V1596 H202.5" fill="none" stroke="#000" stroke-width="3.6"/><line x1="87.8" y1="1442.5" x2="101" y2="1442.5" stroke="#000" stroke-width="3.4"/><line x1="87.8" y1="1494.7" x2="101" y2="1494.7" stroke="#000" stroke-width="3.4"/><line x1="87.8" y1="1545" x2="101" y2="1545" stroke="#000" stroke-width="3.4"/><line x1="87.8" y1="1596" x2="101" y2="1596" stroke="#000" stroke-width="3.4"/>
<text x="86.6" y="1447.8" font-size="15" text-anchor="end">6,000</text>
<text x="86.6" y="1500" font-size="15" text-anchor="end">4,000</text>
<text x="86.6" y="1550.3" font-size="15" text-anchor="end">2,000</text>
<text x="86.6" y="1601.3" font-size="15" text-anchor="end">0</text>
<text transform="translate(42.5 1506.5) rotate(-90)" font-size="15" text-anchor="middle" font-weight="bold" textLength="109" lengthAdjust="spacingAndGlyphs">LNT nmol/mL</text>
<line x1="121.5" y1="1531.8" x2="121.5" y2="1593" stroke="#000" stroke-width="4"/><line x1="116" y1="1531.8" x2="127" y2="1531.8" stroke="#000" stroke-width="4" stroke-linecap="round"/><line x1="116" y1="1593" x2="127" y2="1593" stroke="#000" stroke-width="4" stroke-linecap="round"/><rect x="113.8" y="1562.6" width="15.5" height="14.1" fill="#B3B3B3" stroke="#000" stroke-width="4"/><line x1="111.8" y1="1569" x2="131.2" y2="1569" stroke="#000" stroke-width="3.4"/><circle cx="121.5" cy="1485.2" r="1.7"/><circle cx="121.5" cy="1516.5" r="1.7"/><circle cx="121.5" cy="1519.3" r="1.7"/><circle cx="119.7" cy="1522" r="1.7"/><circle cx="123.3" cy="1522" r="1.7"/><circle cx="119.7" cy="1525.4" r="1.7"/><circle cx="123.3" cy="1525.4" r="1.7"/><circle cx="117.9" cy="1528.5" r="1.7"/><circle cx="121.5" cy="1528.5" r="1.7"/><circle cx="125.1" cy="1528.5" r="1.7"/>
<text x="120.5" y="1611.5" font-size="15" text-anchor="middle">GG</text>
<line x1="151.6" y1="1529" x2="151.6" y2="1591.3" stroke="#000" stroke-width="4"/><line x1="146.1" y1="1529" x2="157.1" y2="1529" stroke="#000" stroke-width="4" stroke-linecap="round"/><line x1="146.1" y1="1591.3" x2="157.1" y2="1591.3" stroke="#000" stroke-width="4" stroke-linecap="round"/><rect x="143.8" y="1559.8" width="15.5" height="14.7" fill="#B3B3B3" stroke="#000" stroke-width="4"/><line x1="141.8" y1="1565.3" x2="161.3" y2="1565.3" stroke="#000" stroke-width="3.4"/><circle cx="151.6" cy="1504.7" r="1.7"/><circle cx="151.6" cy="1515" r="1.7"/><circle cx="149.8" cy="1520" r="1.7"/><circle cx="153.4" cy="1520" r="1.7"/><circle cx="148" cy="1523.5" r="1.7"/><circle cx="151.6" cy="1523.5" r="1.7"/><circle cx="155.2" cy="1523.5" r="1.7"/><circle cx="146.2" cy="1526.5" r="1.7"/><circle cx="149.8" cy="1526.5" r="1.7"/><circle cx="153.4" cy="1526.5" r="1.7"/><circle cx="157" cy="1526.5" r="1.7"/>
<text x="150.6" y="1611.5" font-size="15" text-anchor="middle">GA</text>
<line x1="182" y1="1507.5" x2="182" y2="1587.7" stroke="#000" stroke-width="4"/><line x1="176.5" y1="1507.5" x2="187.5" y2="1507.5" stroke="#000" stroke-width="4" stroke-linecap="round"/><line x1="176.5" y1="1587.7" x2="187.5" y2="1587.7" stroke="#000" stroke-width="4" stroke-linecap="round"/><rect x="174.2" y="1545.8" width="15.5" height="21.7" fill="#B3B3B3" stroke="#000" stroke-width="4"/><line x1="172.2" y1="1557" x2="191.8" y2="1557" stroke="#000" stroke-width="3.4"/><circle cx="182" cy="1455" r="1.7"/><circle cx="182" cy="1485.2" r="1.7"/><circle cx="180.2" cy="1495.5" r="1.7"/><circle cx="183.8" cy="1495.5" r="1.7"/><circle cx="178.4" cy="1498.5" r="1.7"/><circle cx="182" cy="1498.5" r="1.7"/><circle cx="185.6" cy="1498.5" r="1.7"/><circle cx="180.2" cy="1502" r="1.7"/><circle cx="183.8" cy="1502" r="1.7"/>
<text x="181" y="1611.5" font-size="15" text-anchor="middle">AA</text>
<text x="153.6" y="1632.3" font-size="16.6" text-anchor="middle" font-weight="bold" font-style="italic">FUT2</text>
<text x="153.6" y="1650.5" font-size="17.4" text-anchor="middle" font-weight="bold">rs601338</text>
<text x="153.6" y="1665.9" font-size="16.9" text-anchor="middle" font-weight="bold">genotype</text>
<path d="M102 1953.8 V2108.6 H202.5" fill="none" stroke="#000" stroke-width="3.6"/><line x1="88.8" y1="1955.3" x2="102" y2="1955.3" stroke="#000" stroke-width="3.4"/><line x1="88.8" y1="1986.6" x2="102" y2="1986.6" stroke="#000" stroke-width="3.4"/><line x1="88.8" y1="2017.3" x2="102" y2="2017.3" stroke="#000" stroke-width="3.4"/><line x1="88.8" y1="2048" x2="102" y2="2048" stroke="#000" stroke-width="3.4"/><line x1="88.8" y1="2078.8" x2="102" y2="2078.8" stroke="#000" stroke-width="3.4"/><line x1="88.8" y1="2108.6" x2="102" y2="2108.6" stroke="#000" stroke-width="3.4"/>
<text x="87.6" y="1960.6" font-size="15" text-anchor="end">5,000</text>
<text x="87.6" y="1991.9" font-size="15" text-anchor="end">4,000</text>
<text x="87.6" y="2022.6" font-size="15" text-anchor="end">3,000</text>
<text x="87.6" y="2053.3" font-size="15" text-anchor="end">2,000</text>
<text x="87.6" y="2084.1" font-size="15" text-anchor="end">1,000</text>
<text x="87.6" y="2113.9" font-size="15" text-anchor="end">0</text>
<text transform="translate(41.5 2022) rotate(-90)" font-size="15" text-anchor="middle" font-weight="bold" textLength="118.5" lengthAdjust="spacingAndGlyphs">LNnT nmol/mL</text>
<line x1="121.5" y1="2054.5" x2="121.5" y2="2107" stroke="#000" stroke-width="4"/><line x1="116" y1="2054.5" x2="127" y2="2054.5" stroke="#000" stroke-width="4" stroke-linecap="round"/><line x1="116" y1="2107" x2="127" y2="2107" stroke="#000" stroke-width="4" stroke-linecap="round"/><rect x="113.8" y="2082.7" width="15.5" height="14.2" fill="#B3B3B3" stroke="#000" stroke-width="4"/><line x1="111.8" y1="2090.5" x2="131.2" y2="2090.5" stroke="#000" stroke-width="3.4"/><circle cx="121.5" cy="2031.3" r="1.7"/><circle cx="121.5" cy="2038.3" r="1.7"/><circle cx="121.5" cy="2041" r="1.7"/><circle cx="119.7" cy="2051" r="1.7"/><circle cx="123.3" cy="2051" r="1.7"/><circle cx="117.9" cy="2053.5" r="1.7"/><circle cx="121.5" cy="2053.5" r="1.7"/><circle cx="125.1" cy="2053.5" r="1.7"/>
<text x="121.5" y="2123.5" font-size="13.4" text-anchor="middle">GG</text>
<line x1="152.2" y1="2057.8" x2="152.2" y2="2107" stroke="#000" stroke-width="4"/><line x1="146.7" y1="2057.8" x2="157.7" y2="2057.8" stroke="#000" stroke-width="4" stroke-linecap="round"/><line x1="146.7" y1="2107" x2="157.7" y2="2107" stroke="#000" stroke-width="4" stroke-linecap="round"/><rect x="144.4" y="2085.5" width="15.5" height="12.8" fill="#B3B3B3" stroke="#000" stroke-width="4"/><line x1="142.4" y1="2092" x2="161.9" y2="2092" stroke="#000" stroke-width="3.4"/><circle cx="152.2" cy="2025.7" r="1.7"/><circle cx="150.4" cy="2048" r="1.7"/><circle cx="154" cy="2048" r="1.7"/><circle cx="148.6" cy="2052" r="1.7"/><circle cx="152.2" cy="2052" r="1.7"/><circle cx="155.8" cy="2052" r="1.7"/><circle cx="146.8" cy="2055" r="1.7"/><circle cx="150.4" cy="2055" r="1.7"/><circle cx="154" cy="2055" r="1.7"/><circle cx="157.6" cy="2055" r="1.7"/>
<text x="153" y="2123.5" font-size="13.4" text-anchor="middle">GA</text>
<line x1="183" y1="2051.4" x2="183" y2="2107" stroke="#000" stroke-width="4"/><line x1="177.5" y1="2051.4" x2="188.5" y2="2051.4" stroke="#000" stroke-width="4" stroke-linecap="round"/><line x1="177.5" y1="2107" x2="188.5" y2="2107" stroke="#000" stroke-width="4" stroke-linecap="round"/><rect x="175.2" y="2081.3" width="15.5" height="14.2" fill="#B3B3B3" stroke="#000" stroke-width="4"/><line x1="173.2" y1="2088.5" x2="192.8" y2="2088.5" stroke="#000" stroke-width="3.4"/><circle cx="183" cy="1985.2" r="1.7"/><circle cx="181.2" cy="2034" r="1.7"/><circle cx="184.8" cy="2034" r="1.7"/><circle cx="183" cy="2045.3" r="1.7"/><circle cx="179.4" cy="2049.5" r="1.7"/><circle cx="183" cy="2049.5" r="1.7"/><circle cx="186.6" cy="2049.5" r="1.7"/>
<text x="187.5" y="2123.5" font-size="13.4" text-anchor="middle">AA</text>
<text x="153.6" y="2145.8" font-size="16.6" text-anchor="middle" font-weight="bold" font-style="italic">FUT2</text>
<text x="153.6" y="2162.5" font-size="17.4" text-anchor="middle" font-weight="bold">rs601338</text>
<text x="153.6" y="2178.5" font-size="16.9" text-anchor="middle" font-weight="bold">genotype</text>
<path d="M809.9 1257.3 V1411.8 H910.6" fill="none" stroke="#000" stroke-width="3.6"/><line x1="796.7" y1="1258.8" x2="809.9" y2="1258.8" stroke="#000" stroke-width="3.4"/><line x1="796.7" y1="1310.2" x2="809.9" y2="1310.2" stroke="#000" stroke-width="3.4"/><line x1="796.7" y1="1361" x2="809.9" y2="1361" stroke="#000" stroke-width="3.4"/><line x1="796.7" y1="1411.8" x2="809.9" y2="1411.8" stroke="#000" stroke-width="3.4"/>
<text x="795.5" y="1264.1" font-size="15" text-anchor="end">6,000</text>
<text x="795.5" y="1315.5" font-size="15" text-anchor="end">4,000</text>
<text x="795.5" y="1366.3" font-size="15" text-anchor="end">2,000</text>
<text x="795.5" y="1417.1" font-size="15" text-anchor="end">0</text>
<text transform="translate(751 1330.5) rotate(-90)" font-size="15" text-anchor="middle" font-weight="bold" textLength="115" lengthAdjust="spacingAndGlyphs">LNFP1 nmol/mL</text>
<line x1="829" y1="1319.2" x2="829" y2="1411" stroke="#000" stroke-width="4"/><line x1="823.5" y1="1319.2" x2="834.5" y2="1319.2" stroke="#000" stroke-width="4" stroke-linecap="round"/><line x1="823.5" y1="1411" x2="834.5" y2="1411" stroke="#000" stroke-width="4" stroke-linecap="round"/><rect x="820" y="1367.5" width="18" height="27.2" fill="#B3B3B3" stroke="#000" stroke-width="4"/><line x1="818" y1="1382.8" x2="840" y2="1382.8" stroke="#000" stroke-width="3.4"/><circle cx="829" cy="1285.4" r="1.7"/><circle cx="829" cy="1288.4" r="1.7"/><circle cx="829" cy="1293" r="1.7"/><circle cx="826.5" cy="1309.6" r="1.7"/><circle cx="832" cy="1311.7" r="1.7"/>
<text x="828" y="1427" font-size="15" text-anchor="middle">GG</text>
<line x1="859.8" y1="1352" x2="859.8" y2="1410" stroke="#000" stroke-width="4"/><line x1="854.3" y1="1352" x2="865.3" y2="1352" stroke="#000" stroke-width="4" stroke-linecap="round"/><line x1="854.3" y1="1410" x2="865.3" y2="1410" stroke="#000" stroke-width="4" stroke-linecap="round"/><rect x="850.8" y="1383.6" width="18" height="15.9" fill="#B3B3B3" stroke="#000" stroke-width="4"/><line x1="848.8" y1="1393.6" x2="870.8" y2="1393.6" stroke="#000" stroke-width="3.4"/><circle cx="859.8" cy="1270.2" r="1.7"/><circle cx="859.8" cy="1294.4" r="1.7"/><circle cx="859.8" cy="1306.5" r="1.7"/><circle cx="857.2" cy="1329.1" r="1.7"/><circle cx="863" cy="1319.2" r="1.7"/><circle cx="856.2" cy="1331.5" r="1.7"/><circle cx="856.7" cy="1335.4" r="1.7"/><circle cx="858" cy="1345" r="1.7"/><circle cx="853.5" cy="1327.1" r="1.7"/><circle cx="855.7" cy="1342" r="1.7"/><circle cx="859.5" cy="1327.6" r="1.7"/><circle cx="859" cy="1345.4" r="1.7"/><circle cx="856.6" cy="1333.5" r="1.7"/><circle cx="866.6" cy="1339.7" r="1.7"/><circle cx="858" cy="1322.2" r="1.7"/><circle cx="854.1" cy="1323.7" r="1.7"/><circle cx="857.8" cy="1340.2" r="1.7"/><circle cx="865.7" cy="1346.7" r="1.7"/><circle cx="857.8" cy="1324.3" r="1.7"/><circle cx="865.2" cy="1330.8" r="1.7"/><circle cx="862.4" cy="1325.7" r="1.7"/><circle cx="864.9" cy="1326" r="1.7"/><circle cx="859.6" cy="1346.5" r="1.7"/><circle cx="854.6" cy="1326" r="1.7"/><circle cx="863.6" cy="1331.7" r="1.7"/>
<text x="858.8" y="1427" font-size="15" text-anchor="middle">GA</text>
<line x1="891.5" y1="1405" x2="891.5" y2="1410.5" stroke="#000" stroke-width="4"/><line x1="886" y1="1405" x2="897" y2="1405" stroke="#000" stroke-width="4" stroke-linecap="round"/><line x1="886" y1="1410.5" x2="897" y2="1410.5" stroke="#000" stroke-width="4" stroke-linecap="round"/><rect x="882.5" y="1407.5" width="18" height="1" fill="#B3B3B3" stroke="#000" stroke-width="4"/><line x1="880.5" y1="1408" x2="902.5" y2="1408" stroke="#000" stroke-width="3.4"/><circle cx="893.5" cy="1403.6" r="1.7"/><circle cx="885" cy="1405" r="1.7"/><circle cx="897.7" cy="1404.7" r="1.7"/><circle cx="892.4" cy="1402.3" r="1.7"/><circle cx="888.2" cy="1403.9" r="1.7"/><circle cx="891.1" cy="1402.8" r="1.7"/>
<text x="890.5" y="1427" font-size="15" text-anchor="middle">AA</text>
<path d="M809.9 1444.2 V1598.4 H910.6" fill="none" stroke="#000" stroke-width="3.6"/><line x1="796.7" y1="1445.7" x2="809.9" y2="1445.7" stroke="#000" stroke-width="3.4"/><line x1="796.7" y1="1497.7" x2="809.9" y2="1497.7" stroke="#000" stroke-width="3.4"/><line x1="796.7" y1="1548.5" x2="809.9" y2="1548.5" stroke="#000" stroke-width="3.4"/><line x1="796.7" y1="1598.4" x2="809.9" y2="1598.4" stroke="#000" stroke-width="3.4"/>
<text x="795.5" y="1451" font-size="15" text-anchor="end">6,000</text>
<text x="795.5" y="1503" font-size="15" text-anchor="end">4,000</text>
<text x="795.5" y="1553.8" font-size="15" text-anchor="end">2,000</text>
<text x="795.5" y="1603.7" font-size="15" text-anchor="end">0</text>
<text transform="translate(751 1514) rotate(-90)" font-size="15" text-anchor="middle" font-weight="bold" textLength="115" lengthAdjust="spacingAndGlyphs">LNFP2 nmol/mL</text>
<line x1="829" y1="1524.3" x2="829" y2="1597" stroke="#000" stroke-width="4"/><line x1="823.5" y1="1524.3" x2="834.5" y2="1524.3" stroke="#000" stroke-width="4" stroke-linecap="round"/><line x1="823.5" y1="1597" x2="834.5" y2="1597" stroke="#000" stroke-width="4" stroke-linecap="round"/><rect x="820" y="1553.6" width="18" height="16.4" fill="#B3B3B3" stroke="#000" stroke-width="4"/><line x1="818" y1="1561.2" x2="840" y2="1561.2" stroke="#000" stroke-width="3.4"/><circle cx="829" cy="1471.4" r="1.7"/><circle cx="828" cy="1477" r="1.7"/><circle cx="821.3" cy="1520.3" r="1.7"/><circle cx="831.9" cy="1516.2" r="1.7"/><circle cx="829.3" cy="1482" r="1.7"/><circle cx="835.6" cy="1499.3" r="1.7"/><circle cx="827.3" cy="1517.5" r="1.7"/><circle cx="826.7" cy="1502.8" r="1.7"/><circle cx="821.8" cy="1494.1" r="1.7"/><circle cx="823.2" cy="1493.2" r="1.7"/><circle cx="822.3" cy="1517.5" r="1.7"/><circle cx="828.1" cy="1490.1" r="1.7"/><circle cx="833.8" cy="1483.9" r="1.7"/><circle cx="828.9" cy="1519.5" r="1.7"/><circle cx="823.3" cy="1482.3" r="1.7"/><circle cx="833.1" cy="1509.4" r="1.7"/><circle cx="832.8" cy="1510.6" r="1.7"/><circle cx="822.2" cy="1484.4" r="1.7"/><circle cx="834.3" cy="1485.9" r="1.7"/><circle cx="823.8" cy="1509.9" r="1.7"/><circle cx="822.7" cy="1499.7" r="1.7"/><circle cx="826.9" cy="1509.7" r="1.7"/><circle cx="826.4" cy="1494.3" r="1.7"/><circle cx="834.5" cy="1517.4" r="1.7"/><circle cx="827.6" cy="1510.5" r="1.7"/><circle cx="834.9" cy="1490.9" r="1.7"/><circle cx="821.9" cy="1510.4" r="1.7"/><circle cx="825" cy="1508.8" r="1.7"/><circle cx="827.7" cy="1516.7" r="1.7"/><circle cx="824.2" cy="1505.6" r="1.7"/><circle cx="826" cy="1495.7" r="1.7"/><circle cx="828.9" cy="1492.3" r="1.7"/><circle cx="836.4" cy="1507.3" r="1.7"/><circle cx="834.5" cy="1496.6" r="1.7"/><circle cx="829.7" cy="1487.5" r="1.7"/><circle cx="822.1" cy="1513.7" r="1.7"/><circle cx="822" cy="1493.6" r="1.7"/><circle cx="828.3" cy="1492.3" r="1.7"/><circle cx="828.9" cy="1502.8" r="1.7"/><circle cx="828.1" cy="1486.1" r="1.7"/>
<text x="828" y="1614" font-size="15" text-anchor="middle">GG</text>
<line x1="859" y1="1508.6" x2="859" y2="1585.4" stroke="#000" stroke-width="4"/><line x1="853.5" y1="1508.6" x2="864.5" y2="1508.6" stroke="#000" stroke-width="4" stroke-linecap="round"/><line x1="853.5" y1="1585.4" x2="864.5" y2="1585.4" stroke="#000" stroke-width="4" stroke-linecap="round"/><rect x="850" y="1544" width="18" height="17" fill="#B3B3B3" stroke="#000" stroke-width="4"/><line x1="848" y1="1551.6" x2="870" y2="1551.6" stroke="#000" stroke-width="3.4"/><circle cx="859" cy="1489.5" r="1.7"/><circle cx="859" cy="1492.6" r="1.7"/><circle cx="856" cy="1503" r="1.7"/><circle cx="862" cy="1506" r="1.7"/>
<text x="858" y="1614" font-size="15" text-anchor="middle">GA</text>
<line x1="890" y1="1474.4" x2="890" y2="1566" stroke="#000" stroke-width="4"/><line x1="884.5" y1="1474.4" x2="895.5" y2="1474.4" stroke="#000" stroke-width="4" stroke-linecap="round"/><line x1="884.5" y1="1566" x2="895.5" y2="1566" stroke="#000" stroke-width="4" stroke-linecap="round"/><rect x="881" y="1506" width="18" height="20.9" fill="#B3B3B3" stroke="#000" stroke-width="4"/><line x1="879" y1="1515.3" x2="901" y2="1515.3" stroke="#000" stroke-width="3.4"/><circle cx="890" cy="1457.2" r="1.7"/><circle cx="887" cy="1463.2" r="1.7"/><circle cx="893" cy="1463.2" r="1.7"/><circle cx="886" cy="1571" r="1.7"/><circle cx="890" cy="1575" r="1.7"/><circle cx="894" cy="1578" r="1.7"/>
<text x="889" y="1614" font-size="15" text-anchor="middle">AA</text>
<path d="M803.8 1632.1 V1795.4 H910.6" fill="none" stroke="#000" stroke-width="3.6"/><line x1="790.6" y1="1633.6" x2="803.8" y2="1633.6" stroke="#000" stroke-width="3.4"/><line x1="790.6" y1="1688" x2="803.8" y2="1688" stroke="#000" stroke-width="3.4"/><line x1="790.6" y1="1742.5" x2="803.8" y2="1742.5" stroke="#000" stroke-width="3.4"/><line x1="790.6" y1="1795.4" x2="803.8" y2="1795.4" stroke="#000" stroke-width="3.4"/>
<text x="789.4" y="1638.9" font-size="15" text-anchor="end">600</text>
<text x="789.4" y="1693.3" font-size="15" text-anchor="end">400</text>
<text x="789.4" y="1747.8" font-size="15" text-anchor="end">200</text>
<text x="789.4" y="1800.7" font-size="15" text-anchor="end">0</text>
<text transform="translate(751 1715) rotate(-90)" font-size="15" text-anchor="middle" font-weight="bold" textLength="100.5" lengthAdjust="spacingAndGlyphs">LSTb nmol/mL</text>
<line x1="824.4" y1="1734" x2="824.4" y2="1793" stroke="#000" stroke-width="4"/><line x1="818.9" y1="1734" x2="829.9" y2="1734" stroke="#000" stroke-width="4" stroke-linecap="round"/><line x1="818.9" y1="1793" x2="829.9" y2="1793" stroke="#000" stroke-width="4" stroke-linecap="round"/><rect x="815.4" y="1761.7" width="18" height="16.6" fill="#B3B3B3" stroke="#000" stroke-width="4"/><line x1="813.4" y1="1772.7" x2="835.4" y2="1772.7" stroke="#000" stroke-width="3.4"/><circle cx="824.4" cy="1634.5" r="1.7"/><circle cx="824.4" cy="1654.8" r="1.7"/><circle cx="824.4" cy="1673.8" r="1.7"/><circle cx="822.4" cy="1701.7" r="1.7"/><circle cx="826.4" cy="1707.7" r="1.7"/><circle cx="824.4" cy="1722.8" r="1.7"/>
<text x="823.4" y="1810.5" font-size="15" text-anchor="middle">GG</text>
<line x1="856.7" y1="1727.4" x2="856.7" y2="1793" stroke="#000" stroke-width="4"/><line x1="851.2" y1="1727.4" x2="862.2" y2="1727.4" stroke="#000" stroke-width="4" stroke-linecap="round"/><line x1="851.2" y1="1793" x2="862.2" y2="1793" stroke="#000" stroke-width="4" stroke-linecap="round"/><rect x="847.7" y="1763.3" width="18" height="13.5" fill="#B3B3B3" stroke="#000" stroke-width="4"/><line x1="845.7" y1="1769" x2="867.7" y2="1769" stroke="#000" stroke-width="3.4"/><circle cx="856.7" cy="1683.5" r="1.7"/><circle cx="858.7" cy="1685" r="1.7"/><circle cx="856.7" cy="1710" r="1.7"/><circle cx="860.7" cy="1712" r="1.7"/><circle cx="861" cy="1721" r="1.7"/><circle cx="853.6" cy="1729.5" r="1.7"/><circle cx="848.9" cy="1721.6" r="1.7"/><circle cx="863.2" cy="1721.2" r="1.7"/><circle cx="853.7" cy="1719.7" r="1.7"/><circle cx="862.4" cy="1725.9" r="1.7"/><circle cx="860.5" cy="1718" r="1.7"/><circle cx="858.6" cy="1731" r="1.7"/><circle cx="861" cy="1733" r="1.7"/><circle cx="859.7" cy="1732.5" r="1.7"/><circle cx="849" cy="1730.1" r="1.7"/><circle cx="852.6" cy="1719.3" r="1.7"/><circle cx="855.5" cy="1722.4" r="1.7"/><circle cx="855" cy="1725" r="1.7"/>
<text x="855.7" y="1810.5" font-size="15" text-anchor="middle">GA</text>
<line x1="890" y1="1709.2" x2="890" y2="1785.8" stroke="#000" stroke-width="4"/><line x1="884.5" y1="1709.2" x2="895.5" y2="1709.2" stroke="#000" stroke-width="4" stroke-linecap="round"/><line x1="884.5" y1="1785.8" x2="895.5" y2="1785.8" stroke="#000" stroke-width="4" stroke-linecap="round"/><rect x="881" y="1742" width="18" height="18.8" fill="#B3B3B3" stroke="#000" stroke-width="4"/><line x1="879" y1="1748.6" x2="901" y2="1748.6" stroke="#000" stroke-width="3.4"/><circle cx="890" cy="1679" r="1.7"/><circle cx="890" cy="1689.6" r="1.7"/><circle cx="888" cy="1697" r="1.7"/><circle cx="892" cy="1701" r="1.7"/>
<text x="889" y="1810.5" font-size="15" text-anchor="middle">AA</text>
<path d="M803.8 1861.8 V2026 H910.6" fill="none" stroke="#000" stroke-width="3.6"/><line x1="790.6" y1="1863.3" x2="803.8" y2="1863.3" stroke="#000" stroke-width="3.4"/><line x1="790.6" y1="1904.4" x2="803.8" y2="1904.4" stroke="#000" stroke-width="3.4"/><line x1="790.6" y1="1945.3" x2="803.8" y2="1945.3" stroke="#000" stroke-width="3.4"/><line x1="790.6" y1="1985.8" x2="803.8" y2="1985.8" stroke="#000" stroke-width="3.4"/><line x1="790.6" y1="2026" x2="803.8" y2="2026" stroke="#000" stroke-width="3.4"/>
<text x="789.4" y="1868.6" font-size="15" text-anchor="end">400</text>
<text x="789.4" y="1909.7" font-size="15" text-anchor="end">300</text>
<text x="789.4" y="1950.6" font-size="15" text-anchor="end">200</text>
<text x="789.4" y="1991.1" font-size="15" text-anchor="end">100</text>
<text x="789.4" y="2031.3" font-size="15" text-anchor="end">0</text>
<text transform="translate(751 1946) rotate(-90)" font-size="15" text-anchor="middle" font-weight="bold" textLength="120" lengthAdjust="spacingAndGlyphs">LNFP3 nmol/mL</text>
<line x1="823.5" y1="1954" x2="823.5" y2="2020" stroke="#000" stroke-width="4"/><line x1="818" y1="1954" x2="829" y2="1954" stroke="#000" stroke-width="4" stroke-linecap="round"/><line x1="818" y1="2020" x2="829" y2="2020" stroke="#000" stroke-width="4" stroke-linecap="round"/><rect x="814.5" y="1988.7" width="18" height="17.2" fill="#B3B3B3" stroke="#000" stroke-width="4"/><line x1="812.5" y1="2001.8" x2="834.5" y2="2001.8" stroke="#000" stroke-width="3.4"/><circle cx="823.5" cy="1891.4" r="1.7"/><circle cx="823.5" cy="1899" r="1.7"/><circle cx="823.5" cy="1915.6" r="1.7"/><circle cx="818.3" cy="1949.9" r="1.7"/><circle cx="826.4" cy="1927.4" r="1.7"/><circle cx="823.5" cy="1936.9" r="1.7"/><circle cx="816.5" cy="1937.1" r="1.7"/><circle cx="819.6" cy="1944.5" r="1.7"/><circle cx="815.6" cy="1934.9" r="1.7"/><circle cx="823.3" cy="1933.8" r="1.7"/><circle cx="822.7" cy="1939.7" r="1.7"/><circle cx="823.9" cy="1944.2" r="1.7"/><circle cx="828.5" cy="1936.2" r="1.7"/><circle cx="824.9" cy="1928.8" r="1.7"/><circle cx="825.8" cy="1928.1" r="1.7"/><circle cx="818.9" cy="1942.5" r="1.7"/><circle cx="816.4" cy="1939.4" r="1.7"/><circle cx="828.7" cy="1938.5" r="1.7"/><circle cx="820.8" cy="1938.2" r="1.7"/><circle cx="824.6" cy="1940" r="1.7"/><circle cx="822.8" cy="1947.8" r="1.7"/><circle cx="824.9" cy="1945.4" r="1.7"/><circle cx="817.3" cy="1930.6" r="1.7"/><circle cx="831.4" cy="1943.4" r="1.7"/><circle cx="825.6" cy="1939.5" r="1.7"/><circle cx="819.7" cy="1948.9" r="1.7"/><circle cx="822.6" cy="1939.8" r="1.7"/><circle cx="823.6" cy="1931.8" r="1.7"/><circle cx="825.2" cy="1947.1" r="1.7"/><circle cx="819.8" cy="1927.1" r="1.7"/><circle cx="821.4" cy="1928.6" r="1.7"/>
<text x="822.5" y="2041.5" font-size="15" text-anchor="middle">GG</text>
<line x1="856.1" y1="1943.4" x2="856.1" y2="2020.9" stroke="#000" stroke-width="4"/><line x1="850.6" y1="1943.4" x2="861.6" y2="1943.4" stroke="#000" stroke-width="4" stroke-linecap="round"/><line x1="850.6" y1="2020.9" x2="861.6" y2="2020.9" stroke="#000" stroke-width="4" stroke-linecap="round"/><rect x="847.1" y="1985.7" width="18" height="17.1" fill="#B3B3B3" stroke="#000" stroke-width="4"/><line x1="845.1" y1="1998" x2="867.1" y2="1998" stroke="#000" stroke-width="3.4"/><circle cx="856.1" cy="1905" r="1.7"/><circle cx="854.1" cy="1920" r="1.7"/><circle cx="858.1" cy="1921" r="1.7"/><circle cx="856.1" cy="1930" r="1.7"/><circle cx="855" cy="1936.5" r="1.7"/><circle cx="863.3" cy="1938.6" r="1.7"/><circle cx="849.5" cy="1940.5" r="1.7"/><circle cx="854.3" cy="1942.8" r="1.7"/><circle cx="863.6" cy="1937.6" r="1.7"/><circle cx="851" cy="1939.6" r="1.7"/><circle cx="863.1" cy="1937.5" r="1.7"/><circle cx="852.7" cy="1939.6" r="1.7"/><circle cx="856.7" cy="1941.7" r="1.7"/><circle cx="853.7" cy="1942.6" r="1.7"/><circle cx="848.2" cy="1941.8" r="1.7"/><circle cx="856.1" cy="1937.6" r="1.7"/><circle cx="857.7" cy="1940.2" r="1.7"/><circle cx="857.5" cy="1936.1" r="1.7"/>
<text x="855.1" y="2041.5" font-size="15" text-anchor="middle">GA</text>
<line x1="889.4" y1="1910.5" x2="889.4" y2="2008.5" stroke="#000" stroke-width="4"/><line x1="883.9" y1="1910.5" x2="894.9" y2="1910.5" stroke="#000" stroke-width="4" stroke-linecap="round"/><line x1="883.9" y1="2008.5" x2="894.9" y2="2008.5" stroke="#000" stroke-width="4" stroke-linecap="round"/><rect x="880.4" y="1959" width="18" height="31.8" fill="#B3B3B3" stroke="#000" stroke-width="4"/><line x1="878.4" y1="1987.6" x2="900.4" y2="1987.6" stroke="#000" stroke-width="3.4"/><circle cx="889.4" cy="1896" r="1.7"/><circle cx="886.4" cy="1902" r="1.7"/><circle cx="892.4" cy="1902" r="1.7"/>
<text x="888.4" y="2041.5" font-size="15" text-anchor="middle">AA</text>
<path d="M803.8 2052.7 V2216.6 H910.6" fill="none" stroke="#000" stroke-width="3.6"/><line x1="790.6" y1="2054.2" x2="803.8" y2="2054.2" stroke="#000" stroke-width="3.4"/><line x1="790.6" y1="2108.6" x2="803.8" y2="2108.6" stroke="#000" stroke-width="3.4"/><line x1="790.6" y1="2163" x2="803.8" y2="2163" stroke="#000" stroke-width="3.4"/><line x1="790.6" y1="2216.6" x2="803.8" y2="2216.6" stroke="#000" stroke-width="3.4"/>
<text x="789.4" y="2059.5" font-size="15" text-anchor="end">600</text>
<text x="789.4" y="2113.9" font-size="15" text-anchor="end">400</text>
<text x="789.4" y="2168.3" font-size="15" text-anchor="end">200</text>
<text x="789.4" y="2221.9" font-size="15" text-anchor="end">0</text>
<text transform="translate(751 2140) rotate(-90)" font-size="15" text-anchor="middle" font-weight="bold" textLength="105" lengthAdjust="spacingAndGlyphs">LSTc nmol/mL</text>
<line x1="823.5" y1="2161.2" x2="823.5" y2="2215" stroke="#000" stroke-width="4"/><line x1="818" y1="2161.2" x2="829" y2="2161.2" stroke="#000" stroke-width="4" stroke-linecap="round"/><line x1="818" y1="2215" x2="829" y2="2215" stroke="#000" stroke-width="4" stroke-linecap="round"/><rect x="814.5" y="2191.4" width="18" height="14.1" fill="#B3B3B3" stroke="#000" stroke-width="4"/><line x1="812.5" y1="2200" x2="834.5" y2="2200" stroke="#000" stroke-width="3.4"/><circle cx="823.5" cy="2060.8" r="1.7"/><circle cx="821.5" cy="2116.8" r="1.7"/><circle cx="825.5" cy="2120" r="1.7"/><circle cx="823.5" cy="2124.3" r="1.7"/><circle cx="823.5" cy="2138" r="1.7"/><circle cx="822.7" cy="2149.5" r="1.7"/><circle cx="816.4" cy="2151.1" r="1.7"/><circle cx="821.8" cy="2159.2" r="1.7"/><circle cx="824.2" cy="2152.2" r="1.7"/><circle cx="816.4" cy="2148.5" r="1.7"/><circle cx="820.1" cy="2157.2" r="1.7"/><circle cx="828.8" cy="2155" r="1.7"/><circle cx="829.5" cy="2155.8" r="1.7"/><circle cx="829" cy="2158.4" r="1.7"/><circle cx="816" cy="2150.6" r="1.7"/><circle cx="824.4" cy="2155" r="1.7"/><circle cx="826.8" cy="2156.5" r="1.7"/><circle cx="823" cy="2152.2" r="1.7"/><circle cx="820.4" cy="2155.5" r="1.7"/>
<text x="822.5" y="2233.5" font-size="15" text-anchor="middle">GG</text>
<line x1="855.8" y1="2165.2" x2="855.8" y2="2215" stroke="#000" stroke-width="4"/><line x1="850.3" y1="2165.2" x2="861.3" y2="2165.2" stroke="#000" stroke-width="4" stroke-linecap="round"/><line x1="850.3" y1="2215" x2="861.3" y2="2215" stroke="#000" stroke-width="4" stroke-linecap="round"/><rect x="846.8" y="2194.4" width="18" height="12.6" fill="#B3B3B3" stroke="#000" stroke-width="4"/><line x1="844.8" y1="2201.5" x2="866.8" y2="2201.5" stroke="#000" stroke-width="3.4"/><circle cx="855.8" cy="2068.4" r="1.7"/><circle cx="855.8" cy="2086.5" r="1.7"/><circle cx="855.8" cy="2110.7" r="1.7"/><circle cx="855.8" cy="2121.3" r="1.7"/><circle cx="855.8" cy="2132" r="1.7"/><circle cx="855.8" cy="2142.5" r="1.7"/><circle cx="855.8" cy="2151.5" r="1.7"/><circle cx="859.8" cy="2161.2" r="1.7"/><circle cx="859.3" cy="2161.3" r="1.7"/><circle cx="862.5" cy="2162.1" r="1.7"/><circle cx="850.9" cy="2157.8" r="1.7"/><circle cx="863.3" cy="2157.6" r="1.7"/><circle cx="862.8" cy="2164.9" r="1.7"/><circle cx="861" cy="2163.4" r="1.7"/><circle cx="856.2" cy="2163.2" r="1.7"/><circle cx="857.9" cy="2164.6" r="1.7"/><circle cx="856" cy="2159.9" r="1.7"/><circle cx="858.9" cy="2161.5" r="1.7"/><circle cx="860" cy="2157.4" r="1.7"/><circle cx="858.5" cy="2159.7" r="1.7"/><circle cx="848.3" cy="2162.8" r="1.7"/>
<text x="854.8" y="2233.5" font-size="15" text-anchor="middle">GA</text>
<line x1="888.5" y1="2185.4" x2="888.5" y2="2215" stroke="#000" stroke-width="4"/><line x1="883" y1="2185.4" x2="894" y2="2185.4" stroke="#000" stroke-width="4" stroke-linecap="round"/><line x1="883" y1="2215" x2="894" y2="2215" stroke="#000" stroke-width="4" stroke-linecap="round"/><rect x="879.5" y="2202" width="18" height="7.4" fill="#B3B3B3" stroke="#000" stroke-width="4"/><line x1="877.5" y1="2206" x2="899.5" y2="2206" stroke="#000" stroke-width="3.4"/><circle cx="885.5" cy="2171.2" r="1.7"/><circle cx="891.5" cy="2175.8" r="1.7"/><circle cx="888.5" cy="2178" r="1.7"/>
<text x="887.5" y="2233.5" font-size="15" text-anchor="middle">AA</text>
<text x="993" y="1278.7" font-size="35" font-weight="bold">e.</text>
<defs><radialGradient id="gb" cx="0.45" cy="0.42" r="0.6"><stop offset="0" stop-color="#2a2aff"/><stop offset="0.6" stop-color="#0808e8"/><stop offset="1" stop-color="#00008a"/></radialGradient><radialGradient id="gr" cx="0.45" cy="0.42" r="0.6"><stop offset="0" stop-color="#ff3030"/><stop offset="0.6" stop-color="#f20a0a"/><stop offset="1" stop-color="#a00000"/></radialGradient></defs>
<line x1="1130.5" y1="1671" x2="1130.5" y2="1333.8" stroke="#000" stroke-width="2.2"/>
<line x1="1130.5" y1="1671" x2="1574.6" y2="1762.8" stroke="#000" stroke-width="2.4"/>
<line x1="1130.5" y1="1671" x2="1061" y2="1713.6" stroke="#000" stroke-width="2.4"/>
<text x="1132.2" y="1285" font-size="23.8" text-anchor="middle">Axis 2</text>
<text x="1132.2" y="1316" font-size="23.8" text-anchor="middle">(7.43%)</text>
<text x="1020" y="1738.5" font-size="23.8" text-anchor="middle">Axis 3</text>
<text x="1020" y="1769.5" font-size="23.8" text-anchor="middle">(5.27%)</text>
<text x="1628.5" y="1767" font-size="23.8" text-anchor="middle">Axis 1</text>
<text x="1627.5" y="1798" font-size="23.8" text-anchor="middle">(56.64%)</text>
<g><circle cx="1278.9" cy="1530.7" r="4.5" fill="url(#gb)"/><circle cx="1475.3" cy="1535.4" r="4.5" fill="url(#gb)"/><circle cx="1109.8" cy="1521.1" r="4.5" fill="url(#gr)"/><circle cx="1484.9" cy="1613.8" r="4.1" fill="#fff" stroke="#8c8c8c" stroke-width="1.2"/><circle cx="1282.3" cy="1498.9" r="4.5" fill="url(#gb)"/><circle cx="1474.2" cy="1672.9" r="4.1" fill="#fff" stroke="#8c8c8c" stroke-width="1.2"/><circle cx="1316" cy="1588.6" r="4.5" fill="url(#gb)"/><circle cx="1414.5" cy="1558.3" r="4.5" fill="url(#gb)"/><circle cx="1340.9" cy="1430.1" r="4.5" fill="url(#gb)"/><circle cx="1425.4" cy="1494.1" r="4.1" fill="#fff" stroke="#8c8c8c" stroke-width="1.2"/><circle cx="1381.1" cy="1484.2" r="4.5" fill="url(#gb)"/><circle cx="1391.9" cy="1540.6" r="4.5" fill="url(#gb)"/><circle cx="1285.1" cy="1478.4" r="4.5" fill="url(#gb)"/><circle cx="1310.1" cy="1572.9" r="4.1" fill="#fff" stroke="#8c8c8c" stroke-width="1.2"/><circle cx="1395.8" cy="1548.9" r="4.1" fill="#fff" stroke="#8c8c8c" stroke-width="1.2"/><circle cx="1566.4" cy="1650.6" r="4.1" fill="#fff" stroke="#8c8c8c" stroke-width="1.2"/><circle cx="1342.2" cy="1480.7" r="4.5" fill="url(#gb)"/><circle cx="1551.5" cy="1684.1" r="4.1" fill="#fff" stroke="#8c8c8c" stroke-width="1.2"/><circle cx="1536.2" cy="1537.1" r="4.1" fill="#fff" stroke="#8c8c8c" stroke-width="1.2"/><circle cx="1479.1" cy="1543.6" r="4.5" fill="url(#gb)"/><circle cx="1486.2" cy="1672.7" r="4.1" fill="#fff" stroke="#8c8c8c" stroke-width="1.2"/><circle cx="1391.1" cy="1643" r="4.1" fill="#fff" stroke="#8c8c8c" stroke-width="1.2"/><circle cx="1534.4" cy="1576.7" r="4.1" fill="#fff" stroke="#8c8c8c" stroke-width="1.2"/><circle cx="1137.7" cy="1418.3" r="4.1" fill="#fff" stroke="#8c8c8c" stroke-width="1.2"/><circle cx="1542.7" cy="1705" r="4.1" fill="#fff" stroke="#8c8c8c" stroke-width="1.2"/><circle cx="1382.7" cy="1454.6" r="4.5" fill="url(#gb)"/><circle cx="1379.4" cy="1472.9" r="4.5" fill="url(#gb)"/><circle cx="1503" cy="1556.8" r="4.1" fill="#fff" stroke="#8c8c8c" stroke-width="1.2"/><circle cx="1518.8" cy="1668.4" r="4.1" fill="#fff" stroke="#8c8c8c" stroke-width="1.2"/><circle cx="1403.2" cy="1531.6" r="4.5" fill="url(#gb)"/><circle cx="1415.2" cy="1502.2" r="4.5" fill="url(#gb)"/><circle cx="1501.4" cy="1501.8" r="4.5" fill="url(#gb)"/><circle cx="1455.1" cy="1559.6" r="4.1" fill="#fff" stroke="#8c8c8c" stroke-width="1.2"/><circle cx="1180.4" cy="1474" r="4.5" fill="url(#gb)"/><circle cx="1282.8" cy="1587.3" r="4.1" fill="#fff" stroke="#8c8c8c" stroke-width="1.2"/><circle cx="1364.6" cy="1554.5" r="4.5" fill="url(#gb)"/><circle cx="1176.7" cy="1532.4" r="4.1" fill="#fff" stroke="#8c8c8c" stroke-width="1.2"/><circle cx="1526.9" cy="1560.8" r="4.1" fill="#fff" stroke="#8c8c8c" stroke-width="1.2"/><circle cx="1407.4" cy="1570.8" r="4.1" fill="#fff" stroke="#8c8c8c" stroke-width="1.2"/><circle cx="1151.6" cy="1771.6" r="4.5" fill="url(#gb)"/><circle cx="1213.8" cy="1472.1" r="4.5" fill="url(#gb)"/><circle cx="1357.1" cy="1544.9" r="4.5" fill="url(#gb)"/><circle cx="1373.7" cy="1489.4" r="4.5" fill="url(#gb)"/><circle cx="1564.3" cy="1687.7" r="4.1" fill="#fff" stroke="#8c8c8c" stroke-width="1.2"/><circle cx="1424" cy="1571.4" r="4.1" fill="#fff" stroke="#8c8c8c" stroke-width="1.2"/><circle cx="1544.3" cy="1694.3" r="4.1" fill="#fff" stroke="#8c8c8c" stroke-width="1.2"/><circle cx="1116.5" cy="1455.2" r="4.5" fill="url(#gr)"/><circle cx="1517.6" cy="1552.7" r="4.1" fill="#fff" stroke="#8c8c8c" stroke-width="1.2"/><circle cx="1494" cy="1571.1" r="4.1" fill="#fff" stroke="#8c8c8c" stroke-width="1.2"/><circle cx="1250.1" cy="1525.6" r="4.5" fill="url(#gb)"/><circle cx="1514.1" cy="1519.9" r="4.1" fill="#fff" stroke="#8c8c8c" stroke-width="1.2"/><circle cx="1516.1" cy="1606.2" r="4.1" fill="#fff" stroke="#8c8c8c" stroke-width="1.2"/><circle cx="1296.6" cy="1559.6" r="4.5" fill="url(#gb)"/><circle cx="1106.3" cy="1483.7" r="4.5" fill="url(#gr)"/><circle cx="1382.9" cy="1655.2" r="4.1" fill="#fff" stroke="#8c8c8c" stroke-width="1.2"/><circle cx="1436.1" cy="1590.9" r="4.1" fill="#fff" stroke="#8c8c8c" stroke-width="1.2"/><circle cx="1505.8" cy="1667.8" r="4.1" fill="#fff" stroke="#8c8c8c" stroke-width="1.2"/><circle cx="1117.1" cy="1429.8" r="4.1" fill="#fff" stroke="#8c8c8c" stroke-width="1.2"/><circle cx="1147.9" cy="1388.6" r="4.1" fill="#fff" stroke="#8c8c8c" stroke-width="1.2"/><circle cx="1399.1" cy="1467.2" r="4.5" fill="url(#gb)"/><circle cx="1129.2" cy="1495.4" r="4.5" fill="url(#gr)"/><circle cx="1478.5" cy="1517.7" r="4.5" fill="url(#gb)"/><circle cx="1424.7" cy="1534.1" r="4.5" fill="url(#gb)"/><circle cx="1554.9" cy="1500.2" r="4.5" fill="url(#gb)"/><circle cx="1492.6" cy="1569.9" r="4.1" fill="#fff" stroke="#8c8c8c" stroke-width="1.2"/><circle cx="1502.5" cy="1573.4" r="4.1" fill="#fff" stroke="#8c8c8c" stroke-width="1.2"/><circle cx="1366.2" cy="1508.1" r="4.5" fill="url(#gb)"/><circle cx="1293.6" cy="1502.6" r="4.1" fill="#fff" stroke="#8c8c8c" stroke-width="1.2"/><circle cx="1448.7" cy="1584.5" r="4.1" fill="#fff" stroke="#8c8c8c" stroke-width="1.2"/><circle cx="1389.5" cy="1455.3" r="4.5" fill="url(#gb)"/><circle cx="1432.3" cy="1474" r="4.5" fill="url(#gb)"/><circle cx="1133" cy="1469.6" r="4.5" fill="url(#gr)"/><circle cx="1240.6" cy="1614.8" r="4.5" fill="url(#gb)"/><circle cx="1241.3" cy="1514.9" r="4.1" fill="#fff" stroke="#8c8c8c" stroke-width="1.2"/><circle cx="1104.8" cy="1516.6" r="4.5" fill="url(#gr)"/><circle cx="1451.2" cy="1478.6" r="4.5" fill="url(#gb)"/><circle cx="1244.5" cy="1562.7" r="4.5" fill="url(#gb)"/><circle cx="1384.1" cy="1566.8" r="4.1" fill="#fff" stroke="#8c8c8c" stroke-width="1.2"/><circle cx="1453.4" cy="1446.3" r="4.1" fill="#fff" stroke="#8c8c8c" stroke-width="1.2"/><circle cx="1493.4" cy="1592.4" r="4.1" fill="#fff" stroke="#8c8c8c" stroke-width="1.2"/><circle cx="1254.4" cy="1548.7" r="4.5" fill="url(#gb)"/><circle cx="1353.1" cy="1572.4" r="4.1" fill="#fff" stroke="#8c8c8c" stroke-width="1.2"/><circle cx="1501.1" cy="1531.2" r="4.1" fill="#fff" stroke="#8c8c8c" stroke-width="1.2"/><circle cx="1134.1" cy="1462.4" r="4.5" fill="url(#gr)"/><circle cx="1477.6" cy="1677" r="4.1" fill="#fff" stroke="#8c8c8c" stroke-width="1.2"/><circle cx="1275.3" cy="1484.2" r="4.5" fill="url(#gb)"/><circle cx="1111.1" cy="1554.1" r="4.5" fill="url(#gr)"/><circle cx="1512" cy="1507.7" r="4.1" fill="#fff" stroke="#8c8c8c" stroke-width="1.2"/><circle cx="1469" cy="1479.7" r="4.5" fill="url(#gb)"/><circle cx="1255.3" cy="1556.5" r="4.1" fill="#fff" stroke="#8c8c8c" stroke-width="1.2"/><circle cx="1371.9" cy="1497.3" r="4.1" fill="#fff" stroke="#8c8c8c" stroke-width="1.2"/><circle cx="1530.6" cy="1668.6" r="4.1" fill="#fff" stroke="#8c8c8c" stroke-width="1.2"/><circle cx="1389.3" cy="1657" r="4.1" fill="#fff" stroke="#8c8c8c" stroke-width="1.2"/><circle cx="1445.8" cy="1534.4" r="4.1" fill="#fff" stroke="#8c8c8c" stroke-width="1.2"/><circle cx="1273.4" cy="1521.9" r="4.5" fill="url(#gb)"/><circle cx="1456.7" cy="1628.4" r="4.1" fill="#fff" stroke="#8c8c8c" stroke-width="1.2"/><circle cx="1512.1" cy="1518.6" r="4.5" fill="url(#gb)"/><circle cx="1517.1" cy="1666.9" r="4.1" fill="#fff" stroke="#8c8c8c" stroke-width="1.2"/><circle cx="1402.9" cy="1581.9" r="4.1" fill="#fff" stroke="#8c8c8c" stroke-width="1.2"/><circle cx="1233.7" cy="1503.6" r="4.5" fill="url(#gb)"/><circle cx="1424.6" cy="1516" r="4.5" fill="url(#gb)"/><circle cx="1525.7" cy="1548.6" r="4.5" fill="url(#gb)"/><circle cx="1409.8" cy="1558.9" r="4.5" fill="url(#gb)"/><circle cx="1102.2" cy="1553.8" r="4.1" fill="#fff" stroke="#8c8c8c" stroke-width="1.2"/><circle cx="1415.1" cy="1624.6" r="4.1" fill="#fff" stroke="#8c8c8c" stroke-width="1.2"/><circle cx="1370" cy="1518.6" r="4.5" fill="url(#gb)"/><circle cx="1131.1" cy="1475" r="4.5" fill="url(#gr)"/><circle cx="1093.2" cy="1416.5" r="4.5" fill="url(#gr)"/><circle cx="1139.8" cy="1458" r="4.5" fill="url(#gr)"/><circle cx="1340.4" cy="1479.9" r="4.5" fill="url(#gb)"/><circle cx="1376.9" cy="1506" r="4.1" fill="#fff" stroke="#8c8c8c" stroke-width="1.2"/><circle cx="1555.3" cy="1676.2" r="4.5" fill="url(#gb)"/><circle cx="1492.7" cy="1660.1" r="4.1" fill="#fff" stroke="#8c8c8c" stroke-width="1.2"/><circle cx="1492.7" cy="1533" r="4.1" fill="#fff" stroke="#8c8c8c" stroke-width="1.2"/><circle cx="1557.8" cy="1683.5" r="4.5" fill="url(#gb)"/><circle cx="1408.6" cy="1535" r="4.5" fill="url(#gb)"/><circle cx="1423.7" cy="1519.5" r="4.5" fill="url(#gb)"/><circle cx="1128" cy="1451.4" r="4.5" fill="url(#gr)"/><circle cx="1127.3" cy="1488.8" r="4.5" fill="url(#gr)"/><circle cx="1379.6" cy="1514.5" r="4.5" fill="url(#gb)"/><circle cx="1368" cy="1581" r="4.1" fill="#fff" stroke="#8c8c8c" stroke-width="1.2"/><circle cx="1117.3" cy="1576" r="4.5" fill="url(#gr)"/><circle cx="1520.6" cy="1504.6" r="4.5" fill="url(#gb)"/><circle cx="1400.7" cy="1519.5" r="4.1" fill="#fff" stroke="#8c8c8c" stroke-width="1.2"/><circle cx="1146.4" cy="1488" r="4.5" fill="url(#gr)"/><circle cx="1390.4" cy="1493.6" r="4.5" fill="url(#gb)"/><circle cx="1395.9" cy="1494.7" r="4.5" fill="url(#gb)"/><circle cx="1123.2" cy="1512.8" r="4.5" fill="url(#gr)"/><circle cx="1461.1" cy="1585.2" r="4.5" fill="url(#gb)"/><circle cx="1117" cy="1528.5" r="4.5" fill="url(#gr)"/><circle cx="1417.7" cy="1488.2" r="4.5" fill="url(#gb)"/><circle cx="1109" cy="1592.7" r="4.5" fill="url(#gr)"/><circle cx="1532.4" cy="1639.9" r="4.1" fill="#fff" stroke="#8c8c8c" stroke-width="1.2"/><circle cx="1108" cy="1630.8" r="4.5" fill="url(#gr)"/><circle cx="1438.4" cy="1561.2" r="4.1" fill="#fff" stroke="#8c8c8c" stroke-width="1.2"/><circle cx="1533.5" cy="1673.7" r="4.5" fill="url(#gb)"/><circle cx="1119.8" cy="1451.9" r="4.1" fill="#fff" stroke="#8c8c8c" stroke-width="1.2"/><circle cx="1508.9" cy="1495.2" r="4.5" fill="url(#gb)"/><circle cx="1379.1" cy="1530.4" r="4.5" fill="url(#gb)"/><circle cx="1415.4" cy="1480.7" r="4.1" fill="#fff" stroke="#8c8c8c" stroke-width="1.2"/><circle cx="1515.3" cy="1517.1" r="4.1" fill="#fff" stroke="#8c8c8c" stroke-width="1.2"/><circle cx="1516.3" cy="1561.5" r="4.1" fill="#fff" stroke="#8c8c8c" stroke-width="1.2"/><circle cx="1442.2" cy="1541.4" r="4.5" fill="url(#gb)"/><circle cx="1542.5" cy="1668.5" r="4.1" fill="#fff" stroke="#8c8c8c" stroke-width="1.2"/><circle cx="1444" cy="1501.1" r="4.1" fill="#fff" stroke="#8c8c8c" stroke-width="1.2"/><circle cx="1161.8" cy="1429.5" r="4.5" fill="url(#gr)"/><circle cx="1477.4" cy="1584.3" r="4.1" fill="#fff" stroke="#8c8c8c" stroke-width="1.2"/><circle cx="1397.2" cy="1552.5" r="4.1" fill="#fff" stroke="#8c8c8c" stroke-width="1.2"/><circle cx="1425.8" cy="1644.2" r="4.1" fill="#fff" stroke="#8c8c8c" stroke-width="1.2"/><circle cx="1356.8" cy="1489.2" r="4.5" fill="url(#gb)"/><circle cx="1148.1" cy="1374.4" r="4.5" fill="url(#gr)"/><circle cx="1410.4" cy="1469.7" r="4.1" fill="#fff" stroke="#8c8c8c" stroke-width="1.2"/><circle cx="1402.6" cy="1544.5" r="4.1" fill="#fff" stroke="#8c8c8c" stroke-width="1.2"/><circle cx="1550.2" cy="1661" r="4.5" fill="url(#gb)"/><circle cx="1496.8" cy="1501.7" r="4.5" fill="url(#gb)"/><circle cx="1484.4" cy="1535.6" r="4.5" fill="url(#gb)"/><circle cx="1489.4" cy="1584.2" r="4.1" fill="#fff" stroke="#8c8c8c" stroke-width="1.2"/><circle cx="1486.8" cy="1461.9" r="4.5" fill="url(#gb)"/><circle cx="1474.2" cy="1579.9" r="4.1" fill="#fff" stroke="#8c8c8c" stroke-width="1.2"/><circle cx="1530.7" cy="1511.9" r="4.5" fill="url(#gb)"/><circle cx="1451.8" cy="1480.3" r="4.5" fill="url(#gb)"/><circle cx="1304.8" cy="1567.3" r="4.5" fill="url(#gb)"/><circle cx="1379.6" cy="1557.3" r="4.1" fill="#fff" stroke="#8c8c8c" stroke-width="1.2"/><circle cx="1275" cy="1522.3" r="4.5" fill="url(#gb)"/><circle cx="1345.2" cy="1415.4" r="4.1" fill="#fff" stroke="#8c8c8c" stroke-width="1.2"/><circle cx="1552.6" cy="1635.1" r="4.5" fill="url(#gb)"/><circle cx="1430.7" cy="1628.8" r="4.1" fill="#fff" stroke="#8c8c8c" stroke-width="1.2"/><circle cx="1351.6" cy="1502.6" r="4.1" fill="#fff" stroke="#8c8c8c" stroke-width="1.2"/><circle cx="1157.2" cy="1373.8" r="4.5" fill="url(#gr)"/><circle cx="1428.6" cy="1524.1" r="4.1" fill="#fff" stroke="#8c8c8c" stroke-width="1.2"/><circle cx="1485.5" cy="1528.5" r="4.1" fill="#fff" stroke="#8c8c8c" stroke-width="1.2"/><circle cx="1436.3" cy="1477.4" r="4.5" fill="url(#gb)"/><circle cx="1131.2" cy="1500.3" r="4.5" fill="url(#gr)"/><circle cx="1138.3" cy="1503.5" r="4.5" fill="url(#gr)"/><circle cx="1465.1" cy="1533.7" r="4.1" fill="#fff" stroke="#8c8c8c" stroke-width="1.2"/><circle cx="1625" cy="1621" r="4.1" fill="#fff" stroke="#8c8c8c" stroke-width="1.2"/><circle cx="1122.1" cy="1470.3" r="4.5" fill="url(#gr)"/><circle cx="1398.5" cy="1505.7" r="4.5" fill="url(#gb)"/><circle cx="1150.4" cy="1466" r="4.5" fill="url(#gr)"/><circle cx="1572" cy="1572" r="4.1" fill="#fff" stroke="#8c8c8c" stroke-width="1.2"/><circle cx="1402.6" cy="1502.8" r="4.5" fill="url(#gb)"/><circle cx="1507.1" cy="1669.6" r="4.1" fill="#fff" stroke="#8c8c8c" stroke-width="1.2"/><circle cx="1477.7" cy="1490" r="4.5" fill="url(#gb)"/><circle cx="1536.8" cy="1520.6" r="4.1" fill="#fff" stroke="#8c8c8c" stroke-width="1.2"/><circle cx="1504.4" cy="1578.7" r="4.1" fill="#fff" stroke="#8c8c8c" stroke-width="1.2"/><circle cx="1488.1" cy="1521.5" r="4.1" fill="#fff" stroke="#8c8c8c" stroke-width="1.2"/><circle cx="1383" cy="1542.7" r="4.1" fill="#fff" stroke="#8c8c8c" stroke-width="1.2"/><circle cx="1422" cy="1498.5" r="4.5" fill="url(#gb)"/><circle cx="1413.5" cy="1535.7" r="4.5" fill="url(#gb)"/><circle cx="1477.8" cy="1494.3" r="4.5" fill="url(#gb)"/><circle cx="1520.5" cy="1572.3" r="4.5" fill="url(#gb)"/><circle cx="1273.4" cy="1550.4" r="4.5" fill="url(#gb)"/><circle cx="1090.4" cy="1542.6" r="4.5" fill="url(#gr)"/><circle cx="1454.7" cy="1466.4" r="4.1" fill="#fff" stroke="#8c8c8c" stroke-width="1.2"/><circle cx="1149.3" cy="1468.7" r="4.5" fill="url(#gr)"/><circle cx="1379.8" cy="1642.2" r="4.1" fill="#fff" stroke="#8c8c8c" stroke-width="1.2"/><circle cx="1404.8" cy="1650" r="4.1" fill="#fff" stroke="#8c8c8c" stroke-width="1.2"/><circle cx="1507.2" cy="1558.2" r="4.1" fill="#fff" stroke="#8c8c8c" stroke-width="1.2"/><circle cx="1342.1" cy="1472.5" r="4.5" fill="url(#gb)"/><circle cx="1498.2" cy="1517.2" r="4.1" fill="#fff" stroke="#8c8c8c" stroke-width="1.2"/><circle cx="1431.9" cy="1538.3" r="4.1" fill="#fff" stroke="#8c8c8c" stroke-width="1.2"/><circle cx="1552.2" cy="1641.9" r="4.1" fill="#fff" stroke="#8c8c8c" stroke-width="1.2"/><circle cx="1480" cy="1586.1" r="4.1" fill="#fff" stroke="#8c8c8c" stroke-width="1.2"/><circle cx="1372.9" cy="1458.1" r="4.5" fill="url(#gb)"/><circle cx="1371.6" cy="1563.6" r="4.5" fill="url(#gb)"/><circle cx="1123.3" cy="1508.6" r="4.5" fill="url(#gr)"/><circle cx="1526.6" cy="1557" r="4.1" fill="#fff" stroke="#8c8c8c" stroke-width="1.2"/><circle cx="1121.6" cy="1436.5" r="4.5" fill="url(#gb)"/><circle cx="1440.9" cy="1545.5" r="4.1" fill="#fff" stroke="#8c8c8c" stroke-width="1.2"/><circle cx="1379.4" cy="1551.3" r="4.1" fill="#fff" stroke="#8c8c8c" stroke-width="1.2"/><circle cx="1500.1" cy="1589.6" r="4.1" fill="#fff" stroke="#8c8c8c" stroke-width="1.2"/><circle cx="1513.7" cy="1504.3" r="4.5" fill="url(#gb)"/><circle cx="1276.1" cy="1506.2" r="4.5" fill="url(#gb)"/><circle cx="1445.8" cy="1508.5" r="4.5" fill="url(#gb)"/><circle cx="1204.5" cy="1520.4" r="4.5" fill="url(#gb)"/><circle cx="1460.3" cy="1479.3" r="4.5" fill="url(#gb)"/><circle cx="1427.7" cy="1500.5" r="4.5" fill="url(#gb)"/><circle cx="1477" cy="1548.7" r="4.1" fill="#fff" stroke="#8c8c8c" stroke-width="1.2"/><circle cx="1506.4" cy="1487.4" r="4.5" fill="url(#gb)"/><circle cx="1442.7" cy="1525.9" r="4.1" fill="#fff" stroke="#8c8c8c" stroke-width="1.2"/><circle cx="1491.1" cy="1632.2" r="4.1" fill="#fff" stroke="#8c8c8c" stroke-width="1.2"/><circle cx="1399.6" cy="1596.3" r="4.5" fill="url(#gb)"/><circle cx="1389.8" cy="1467.9" r="4.1" fill="#fff" stroke="#8c8c8c" stroke-width="1.2"/><circle cx="1351.5" cy="1472.7" r="4.5" fill="url(#gb)"/><circle cx="1420.7" cy="1606.9" r="4.1" fill="#fff" stroke="#8c8c8c" stroke-width="1.2"/><circle cx="1129.2" cy="1501.9" r="4.5" fill="url(#gr)"/><circle cx="1134" cy="1429.5" r="4.5" fill="url(#gb)"/><circle cx="1525" cy="1648.7" r="4.1" fill="#fff" stroke="#8c8c8c" stroke-width="1.2"/><circle cx="1397.4" cy="1456.8" r="4.5" fill="url(#gb)"/><circle cx="1499.4" cy="1501" r="4.5" fill="url(#gb)"/><circle cx="1395.9" cy="1473.3" r="4.5" fill="url(#gb)"/><circle cx="1380.6" cy="1625.7" r="4.5" fill="url(#gb)"/><circle cx="1418.5" cy="1659.7" r="4.1" fill="#fff" stroke="#8c8c8c" stroke-width="1.2"/><circle cx="1387.2" cy="1505.9" r="4.5" fill="url(#gb)"/><circle cx="1113.4" cy="1477.6" r="4.5" fill="url(#gr)"/><circle cx="1571.1" cy="1538.1" r="4.5" fill="url(#gb)"/><circle cx="1312.7" cy="1519.9" r="4.5" fill="url(#gb)"/><circle cx="1120.1" cy="1498.2" r="4.5" fill="url(#gr)"/><circle cx="1572.8" cy="1656" r="4.1" fill="#fff" stroke="#8c8c8c" stroke-width="1.2"/><circle cx="1350.7" cy="1534.2" r="4.1" fill="#fff" stroke="#8c8c8c" stroke-width="1.2"/><circle cx="1303.3" cy="1579.9" r="4.1" fill="#fff" stroke="#8c8c8c" stroke-width="1.2"/><circle cx="1127.4" cy="1472.3" r="4.5" fill="url(#gr)"/><circle cx="1504" cy="1671" r="4.5" fill="url(#gb)"/><circle cx="1438.8" cy="1508.8" r="4.1" fill="#fff" stroke="#8c8c8c" stroke-width="1.2"/><circle cx="1361.7" cy="1504.7" r="4.1" fill="#fff" stroke="#8c8c8c" stroke-width="1.2"/><circle cx="1148.6" cy="1370.2" r="4.1" fill="#fff" stroke="#8c8c8c" stroke-width="1.2"/><circle cx="1564.4" cy="1670.8" r="4.1" fill="#fff" stroke="#8c8c8c" stroke-width="1.2"/><circle cx="1124.6" cy="1503.7" r="4.5" fill="url(#gr)"/><circle cx="1414.3" cy="1503.8" r="4.1" fill="#fff" stroke="#8c8c8c" stroke-width="1.2"/><circle cx="1329.5" cy="1512.4" r="4.1" fill="#fff" stroke="#8c8c8c" stroke-width="1.2"/><circle cx="1113.2" cy="1547.4" r="4.5" fill="url(#gr)"/><circle cx="1264" cy="1514.2" r="4.5" fill="url(#gb)"/><circle cx="1374.6" cy="1527.8" r="4.1" fill="#fff" stroke="#8c8c8c" stroke-width="1.2"/><circle cx="1090.4" cy="1578.8" r="4.1" fill="#fff" stroke="#8c8c8c" stroke-width="1.2"/><circle cx="1622" cy="1659" r="4.1" fill="#fff" stroke="#8c8c8c" stroke-width="1.2"/><circle cx="1321.1" cy="1496.6" r="4.5" fill="url(#gb)"/><circle cx="1416.9" cy="1501.5" r="4.1" fill="#fff" stroke="#8c8c8c" stroke-width="1.2"/><circle cx="1127.5" cy="1585.3" r="4.5" fill="url(#gr)"/><circle cx="1428.3" cy="1554.8" r="4.1" fill="#fff" stroke="#8c8c8c" stroke-width="1.2"/><circle cx="1433.3" cy="1617" r="4.5" fill="url(#gb)"/><circle cx="1333.5" cy="1508.9" r="4.5" fill="url(#gb)"/><circle cx="1501.4" cy="1562" r="4.5" fill="url(#gb)"/><circle cx="1432.4" cy="1529.1" r="4.5" fill="url(#gb)"/><circle cx="1534.5" cy="1535.1" r="4.5" fill="url(#gb)"/><circle cx="1480.5" cy="1654.9" r="4.1" fill="#fff" stroke="#8c8c8c" stroke-width="1.2"/><circle cx="1421.7" cy="1567.5" r="4.1" fill="#fff" stroke="#8c8c8c" stroke-width="1.2"/><circle cx="1182.8" cy="1342.3" r="4.5" fill="url(#gr)"/><circle cx="1133.7" cy="1429.1" r="4.5" fill="url(#gr)"/><circle cx="1171.2" cy="1364.4" r="4.5" fill="url(#gb)"/><circle cx="1376.4" cy="1551.3" r="4.5" fill="url(#gb)"/><circle cx="1129.6" cy="1472.1" r="4.5" fill="url(#gr)"/><circle cx="1099.9" cy="1539" r="4.5" fill="url(#gr)"/><circle cx="1142.4" cy="1589" r="4.1" fill="#fff" stroke="#8c8c8c" stroke-width="1.2"/><circle cx="1092.8" cy="1594.1" r="4.5" fill="url(#gr)"/><circle cx="1532.5" cy="1544.2" r="4.1" fill="#fff" stroke="#8c8c8c" stroke-width="1.2"/><circle cx="1407.5" cy="1473.1" r="4.5" fill="url(#gb)"/><circle cx="1103.4" cy="1564.9" r="4.5" fill="url(#gr)"/><circle cx="1432.1" cy="1478.5" r="4.5" fill="url(#gb)"/><circle cx="1553.3" cy="1647.4" r="4.1" fill="#fff" stroke="#8c8c8c" stroke-width="1.2"/><circle cx="1446.2" cy="1632.8" r="4.1" fill="#fff" stroke="#8c8c8c" stroke-width="1.2"/><circle cx="1108.8" cy="1493.3" r="4.5" fill="url(#gr)"/><circle cx="1382.1" cy="1504" r="4.5" fill="url(#gb)"/><circle cx="1405.1" cy="1528.2" r="4.1" fill="#fff" stroke="#8c8c8c" stroke-width="1.2"/><circle cx="1421.9" cy="1629.8" r="4.1" fill="#fff" stroke="#8c8c8c" stroke-width="1.2"/><circle cx="1134.4" cy="1405.8" r="4.1" fill="#fff" stroke="#8c8c8c" stroke-width="1.2"/><circle cx="1227.5" cy="1542.2" r="4.1" fill="#fff" stroke="#8c8c8c" stroke-width="1.2"/><circle cx="1521.9" cy="1508.8" r="4.1" fill="#fff" stroke="#8c8c8c" stroke-width="1.2"/><circle cx="1467.9" cy="1457.2" r="4.5" fill="url(#gb)"/><circle cx="1419.2" cy="1575.3" r="4.1" fill="#fff" stroke="#8c8c8c" stroke-width="1.2"/><circle cx="1486.2" cy="1517.9" r="4.5" fill="url(#gb)"/><circle cx="1239" cy="1725.6" r="4.5" fill="url(#gb)"/><circle cx="1413.7" cy="1516.6" r="4.1" fill="#fff" stroke="#8c8c8c" stroke-width="1.2"/><circle cx="1246.7" cy="1512" r="4.1" fill="#fff" stroke="#8c8c8c" stroke-width="1.2"/><circle cx="1153" cy="1430.6" r="4.1" fill="#fff" stroke="#8c8c8c" stroke-width="1.2"/><circle cx="1464.8" cy="1541.5" r="4.1" fill="#fff" stroke="#8c8c8c" stroke-width="1.2"/><circle cx="1125.2" cy="1504.6" r="4.5" fill="url(#gr)"/><circle cx="1385.5" cy="1452.9" r="4.5" fill="url(#gb)"/><circle cx="1520" cy="1499.1" r="4.1" fill="#fff" stroke="#8c8c8c" stroke-width="1.2"/><circle cx="1494.3" cy="1541.9" r="4.1" fill="#fff" stroke="#8c8c8c" stroke-width="1.2"/><circle cx="1452.1" cy="1595.5" r="4.1" fill="#fff" stroke="#8c8c8c" stroke-width="1.2"/><circle cx="1500" cy="1679" r="4.1" fill="#fff" stroke="#8c8c8c" stroke-width="1.2"/><circle cx="1364.3" cy="1532" r="4.1" fill="#fff" stroke="#8c8c8c" stroke-width="1.2"/><circle cx="1448.3" cy="1521.6" r="4.5" fill="url(#gb)"/><circle cx="1457.7" cy="1500.6" r="4.1" fill="#fff" stroke="#8c8c8c" stroke-width="1.2"/><circle cx="1382.2" cy="1562.3" r="4.5" fill="url(#gb)"/><circle cx="1481.1" cy="1491" r="4.5" fill="url(#gb)"/><circle cx="1101.5" cy="1577" r="4.1" fill="#fff" stroke="#8c8c8c" stroke-width="1.2"/><circle cx="1362.9" cy="1539.2" r="4.5" fill="url(#gb)"/><circle cx="1458.2" cy="1627.2" r="4.1" fill="#fff" stroke="#8c8c8c" stroke-width="1.2"/><circle cx="1380.1" cy="1552.1" r="4.5" fill="url(#gb)"/><circle cx="1186.9" cy="1440.9" r="4.1" fill="#fff" stroke="#8c8c8c" stroke-width="1.2"/><circle cx="1548.8" cy="1633" r="4.5" fill="url(#gb)"/><circle cx="1150.7" cy="1450.1" r="4.5" fill="url(#gr)"/><circle cx="1396.7" cy="1511.7" r="4.1" fill="#fff" stroke="#8c8c8c" stroke-width="1.2"/><circle cx="1121" cy="1562.1" r="4.5" fill="url(#gb)"/><circle cx="1406.5" cy="1505" r="4.5" fill="url(#gb)"/><circle cx="1404.9" cy="1517.2" r="4.5" fill="url(#gb)"/><circle cx="1360.9" cy="1641.1" r="4.1" fill="#fff" stroke="#8c8c8c" stroke-width="1.2"/><circle cx="1117.4" cy="1546.4" r="4.5" fill="url(#gr)"/><circle cx="1439.9" cy="1542.6" r="4.1" fill="#fff" stroke="#8c8c8c" stroke-width="1.2"/><circle cx="1344.2" cy="1552" r="4.1" fill="#fff" stroke="#8c8c8c" stroke-width="1.2"/><circle cx="1490.6" cy="1550" r="4.5" fill="url(#gb)"/><circle cx="1493.2" cy="1470.2" r="4.5" fill="url(#gb)"/><circle cx="1448.9" cy="1480.3" r="4.5" fill="url(#gb)"/><circle cx="1149.8" cy="1440.6" r="4.5" fill="url(#gb)"/><circle cx="1123.8" cy="1472.1" r="4.5" fill="url(#gb)"/><circle cx="1291.8" cy="1587.1" r="4.5" fill="url(#gb)"/><circle cx="1107.1" cy="1540.4" r="4.5" fill="url(#gr)"/><circle cx="1140.6" cy="1465.3" r="4.5" fill="url(#gr)"/><circle cx="1229.7" cy="1607" r="4.5" fill="url(#gb)"/><circle cx="1454.1" cy="1487.9" r="4.5" fill="url(#gb)"/><circle cx="1281.2" cy="1498.6" r="4.5" fill="url(#gb)"/><circle cx="1238.6" cy="1526.5" r="4.5" fill="url(#gb)"/><circle cx="1501.4" cy="1556.1" r="4.1" fill="#fff" stroke="#8c8c8c" stroke-width="1.2"/><circle cx="1425.7" cy="1513.2" r="4.5" fill="url(#gb)"/><circle cx="1347.4" cy="1510.2" r="4.5" fill="url(#gb)"/><circle cx="1124.2" cy="1530.3" r="4.1" fill="#fff" stroke="#8c8c8c" stroke-width="1.2"/><circle cx="1402.2" cy="1578.3" r="4.1" fill="#fff" stroke="#8c8c8c" stroke-width="1.2"/><circle cx="1425.3" cy="1608.2" r="4.1" fill="#fff" stroke="#8c8c8c" stroke-width="1.2"/><circle cx="1496.4" cy="1637.3" r="4.1" fill="#fff" stroke="#8c8c8c" stroke-width="1.2"/><circle cx="1363.7" cy="1485.7" r="4.5" fill="url(#gb)"/><circle cx="1170.2" cy="1419.3" r="4.5" fill="url(#gr)"/><circle cx="1349.8" cy="1417.5" r="4.5" fill="url(#gb)"/><circle cx="1526" cy="1634.8" r="4.1" fill="#fff" stroke="#8c8c8c" stroke-width="1.2"/><circle cx="1376" cy="1543.2" r="4.5" fill="url(#gb)"/><circle cx="1292.4" cy="1496.2" r="4.5" fill="url(#gb)"/><circle cx="1427.3" cy="1477.4" r="4.5" fill="url(#gb)"/><circle cx="1149.5" cy="1444.3" r="4.5" fill="url(#gr)"/><circle cx="1463.8" cy="1575.5" r="4.1" fill="#fff" stroke="#8c8c8c" stroke-width="1.2"/><circle cx="1514.1" cy="1660.9" r="4.1" fill="#fff" stroke="#8c8c8c" stroke-width="1.2"/><circle cx="1536.8" cy="1535.9" r="4.1" fill="#fff" stroke="#8c8c8c" stroke-width="1.2"/><circle cx="1408.1" cy="1455.8" r="4.5" fill="url(#gb)"/><circle cx="1131.4" cy="1502.4" r="4.5" fill="url(#gr)"/><circle cx="1263" cy="1599.9" r="4.5" fill="url(#gb)"/><circle cx="1380.8" cy="1482.1" r="4.5" fill="url(#gb)"/><circle cx="1123.1" cy="1439.1" r="4.5" fill="url(#gr)"/><circle cx="1417.9" cy="1559.3" r="4.1" fill="#fff" stroke="#8c8c8c" stroke-width="1.2"/><circle cx="1417.1" cy="1575.4" r="4.1" fill="#fff" stroke="#8c8c8c" stroke-width="1.2"/><circle cx="1478.5" cy="1476.8" r="4.1" fill="#fff" stroke="#8c8c8c" stroke-width="1.2"/><circle cx="1092.3" cy="1529.6" r="4.5" fill="url(#gr)"/><circle cx="1425.4" cy="1554.6" r="4.1" fill="#fff" stroke="#8c8c8c" stroke-width="1.2"/><circle cx="1407" cy="1597.8" r="4.1" fill="#fff" stroke="#8c8c8c" stroke-width="1.2"/><circle cx="1435.4" cy="1639.5" r="4.5" fill="url(#gb)"/><circle cx="1554" cy="1512.8" r="4.1" fill="#fff" stroke="#8c8c8c" stroke-width="1.2"/><circle cx="1394.8" cy="1605.6" r="4.1" fill="#fff" stroke="#8c8c8c" stroke-width="1.2"/><circle cx="1146" cy="1366.2" r="4.5" fill="url(#gb)"/><circle cx="1407.3" cy="1551.5" r="4.1" fill="#fff" stroke="#8c8c8c" stroke-width="1.2"/><circle cx="1308.2" cy="1523.1" r="4.5" fill="url(#gb)"/><circle cx="1458.9" cy="1612" r="4.1" fill="#fff" stroke="#8c8c8c" stroke-width="1.2"/><circle cx="1110.8" cy="1651.2" r="4.5" fill="url(#gr)"/><circle cx="1117.4" cy="1539.1" r="4.5" fill="url(#gr)"/><circle cx="1102.1" cy="1542.6" r="4.5" fill="url(#gr)"/><circle cx="1573.4" cy="1545.1" r="4.1" fill="#fff" stroke="#8c8c8c" stroke-width="1.2"/><circle cx="1181.3" cy="1433.2" r="4.5" fill="url(#gb)"/><circle cx="1416.9" cy="1624" r="4.1" fill="#fff" stroke="#8c8c8c" stroke-width="1.2"/><circle cx="1419.6" cy="1424.8" r="4.1" fill="#fff" stroke="#8c8c8c" stroke-width="1.2"/><circle cx="1110.6" cy="1537.8" r="4.5" fill="url(#gr)"/><circle cx="1455.2" cy="1665.1" r="4.1" fill="#fff" stroke="#8c8c8c" stroke-width="1.2"/><circle cx="1382.1" cy="1546.6" r="4.5" fill="url(#gb)"/><circle cx="1468.8" cy="1634.7" r="4.1" fill="#fff" stroke="#8c8c8c" stroke-width="1.2"/><circle cx="1133.1" cy="1559.3" r="4.1" fill="#fff" stroke="#8c8c8c" stroke-width="1.2"/><circle cx="1528.9" cy="1537.3" r="4.1" fill="#fff" stroke="#8c8c8c" stroke-width="1.2"/><circle cx="1540.3" cy="1507.9" r="4.1" fill="#fff" stroke="#8c8c8c" stroke-width="1.2"/><circle cx="1458.5" cy="1625.6" r="4.5" fill="url(#gb)"/><circle cx="1414.6" cy="1529.1" r="4.1" fill="#fff" stroke="#8c8c8c" stroke-width="1.2"/><circle cx="1253.5" cy="1581.3" r="4.5" fill="url(#gb)"/><circle cx="1473.6" cy="1552.8" r="4.1" fill="#fff" stroke="#8c8c8c" stroke-width="1.2"/><circle cx="1453.5" cy="1507.6" r="4.5" fill="url(#gb)"/><circle cx="1473.9" cy="1472.4" r="4.5" fill="url(#gb)"/><circle cx="1371.7" cy="1506.7" r="4.5" fill="url(#gb)"/><circle cx="1498.1" cy="1720" r="4.1" fill="#fff" stroke="#8c8c8c" stroke-width="1.2"/><circle cx="1280.4" cy="1606" r="4.5" fill="url(#gb)"/><circle cx="1386.3" cy="1547.2" r="4.5" fill="url(#gb)"/><circle cx="1492.5" cy="1585.5" r="4.1" fill="#fff" stroke="#8c8c8c" stroke-width="1.2"/><circle cx="1131.4" cy="1451" r="4.5" fill="url(#gr)"/><circle cx="1450.5" cy="1590.7" r="4.1" fill="#fff" stroke="#8c8c8c" stroke-width="1.2"/><circle cx="1559.1" cy="1527.2" r="4.1" fill="#fff" stroke="#8c8c8c" stroke-width="1.2"/><circle cx="1538.1" cy="1572.2" r="4.1" fill="#fff" stroke="#8c8c8c" stroke-width="1.2"/><circle cx="1540.5" cy="1649.7" r="4.5" fill="url(#gb)"/><circle cx="1454.5" cy="1606.1" r="4.1" fill="#fff" stroke="#8c8c8c" stroke-width="1.2"/><circle cx="1542.8" cy="1675.6" r="4.1" fill="#fff" stroke="#8c8c8c" stroke-width="1.2"/><circle cx="1371.2" cy="1559.3" r="4.5" fill="url(#gb)"/><circle cx="1120.1" cy="1642.8" r="4.1" fill="#fff" stroke="#8c8c8c" stroke-width="1.2"/><circle cx="1113.7" cy="1507.6" r="4.5" fill="url(#gr)"/><circle cx="1358.6" cy="1513.8" r="4.5" fill="url(#gb)"/><circle cx="1492.1" cy="1615.9" r="4.1" fill="#fff" stroke="#8c8c8c" stroke-width="1.2"/><circle cx="1547.7" cy="1641.4" r="4.1" fill="#fff" stroke="#8c8c8c" stroke-width="1.2"/><circle cx="1450.7" cy="1559.1" r="4.1" fill="#fff" stroke="#8c8c8c" stroke-width="1.2"/><circle cx="1510.5" cy="1502.9" r="4.5" fill="url(#gb)"/><circle cx="1292.3" cy="1478" r="4.5" fill="url(#gb)"/><circle cx="1454.1" cy="1497.5" r="4.5" fill="url(#gb)"/><circle cx="1557.6" cy="1528.8" r="4.1" fill="#fff" stroke="#8c8c8c" stroke-width="1.2"/><circle cx="1457.6" cy="1524.1" r="4.5" fill="url(#gb)"/><circle cx="1501.3" cy="1647" r="4.1" fill="#fff" stroke="#8c8c8c" stroke-width="1.2"/><circle cx="1347.8" cy="1476.4" r="4.5" fill="url(#gb)"/><circle cx="1109.9" cy="1553.1" r="4.5" fill="url(#gr)"/><circle cx="1137" cy="1422.4" r="4.5" fill="url(#gr)"/><circle cx="1229" cy="1530.9" r="4.1" fill="#fff" stroke="#8c8c8c" stroke-width="1.2"/><circle cx="1449.8" cy="1458.7" r="4.5" fill="url(#gb)"/><circle cx="1344.4" cy="1428.4" r="4.5" fill="url(#gb)"/><circle cx="1137.7" cy="1505.6" r="4.5" fill="url(#gr)"/><circle cx="1498.7" cy="1555.1" r="4.1" fill="#fff" stroke="#8c8c8c" stroke-width="1.2"/><circle cx="1362.3" cy="1533.7" r="4.1" fill="#fff" stroke="#8c8c8c" stroke-width="1.2"/><circle cx="1129.4" cy="1482.3" r="4.5" fill="url(#gb)"/><circle cx="1144" cy="1451.3" r="4.5" fill="url(#gb)"/><circle cx="1490.1" cy="1666.5" r="4.1" fill="#fff" stroke="#8c8c8c" stroke-width="1.2"/><circle cx="1475.8" cy="1485.5" r="4.1" fill="#fff" stroke="#8c8c8c" stroke-width="1.2"/><circle cx="1122.2" cy="1449.4" r="4.5" fill="url(#gr)"/><circle cx="1406.6" cy="1509.9" r="4.5" fill="url(#gb)"/><circle cx="1497.7" cy="1677" r="4.1" fill="#fff" stroke="#8c8c8c" stroke-width="1.2"/><circle cx="1550.6" cy="1658.5" r="4.1" fill="#fff" stroke="#8c8c8c" stroke-width="1.2"/><circle cx="1452.6" cy="1551.3" r="4.5" fill="url(#gb)"/><circle cx="1427.5" cy="1505.2" r="4.5" fill="url(#gb)"/><circle cx="1436.1" cy="1469.1" r="4.1" fill="#fff" stroke="#8c8c8c" stroke-width="1.2"/><circle cx="1167.4" cy="1367.3" r="4.5" fill="url(#gr)"/><circle cx="1526.4" cy="1607.6" r="4.1" fill="#fff" stroke="#8c8c8c" stroke-width="1.2"/><circle cx="1551.7" cy="1589.2" r="4.5" fill="url(#gb)"/><circle cx="1137.7" cy="1484.2" r="4.1" fill="#fff" stroke="#8c8c8c" stroke-width="1.2"/><circle cx="1406.8" cy="1522.8" r="4.5" fill="url(#gb)"/><circle cx="1536" cy="1658.1" r="4.1" fill="#fff" stroke="#8c8c8c" stroke-width="1.2"/><circle cx="1405.1" cy="1545" r="4.5" fill="url(#gb)"/><circle cx="1459.2" cy="1532" r="4.5" fill="url(#gb)"/><circle cx="1476.4" cy="1503.5" r="4.1" fill="#fff" stroke="#8c8c8c" stroke-width="1.2"/><circle cx="1513.5" cy="1525.4" r="4.5" fill="url(#gb)"/><circle cx="1437" cy="1679" r="4.5" fill="url(#gb)"/><circle cx="1229.5" cy="1542.8" r="4.1" fill="#fff" stroke="#8c8c8c" stroke-width="1.2"/><circle cx="1119.9" cy="1496.5" r="4.5" fill="url(#gr)"/><circle cx="1377.6" cy="1679" r="4.1" fill="#fff" stroke="#8c8c8c" stroke-width="1.2"/><circle cx="1391.7" cy="1619.7" r="4.5" fill="url(#gb)"/><circle cx="1113" cy="1489.1" r="4.1" fill="#fff" stroke="#8c8c8c" stroke-width="1.2"/><circle cx="1123.4" cy="1493.5" r="4.5" fill="url(#gr)"/><circle cx="1471.5" cy="1532.6" r="4.5" fill="url(#gb)"/><circle cx="1449.7" cy="1539.9" r="4.1" fill="#fff" stroke="#8c8c8c" stroke-width="1.2"/><circle cx="1465.5" cy="1536.4" r="4.1" fill="#fff" stroke="#8c8c8c" stroke-width="1.2"/><circle cx="1252" cy="1520.8" r="4.5" fill="url(#gb)"/><circle cx="1357.3" cy="1566.2" r="4.1" fill="#fff" stroke="#8c8c8c" stroke-width="1.2"/><circle cx="1238.8" cy="1628.9" r="4.1" fill="#fff" stroke="#8c8c8c" stroke-width="1.2"/><circle cx="1349.3" cy="1502" r="4.5" fill="url(#gb)"/><circle cx="1434.5" cy="1548" r="4.1" fill="#fff" stroke="#8c8c8c" stroke-width="1.2"/><circle cx="1492.1" cy="1462.5" r="4.5" fill="url(#gb)"/><circle cx="1552.4" cy="1680.9" r="4.1" fill="#fff" stroke="#8c8c8c" stroke-width="1.2"/><circle cx="1113" cy="1526.5" r="4.1" fill="#fff" stroke="#8c8c8c" stroke-width="1.2"/><circle cx="1407.4" cy="1472.2" r="4.5" fill="url(#gb)"/><circle cx="1482.8" cy="1494.9" r="4.5" fill="url(#gb)"/><circle cx="1234.4" cy="1583" r="4.5" fill="url(#gb)"/><circle cx="1410.9" cy="1577.2" r="4.1" fill="#fff" stroke="#8c8c8c" stroke-width="1.2"/><circle cx="1378.6" cy="1425.9" r="4.5" fill="url(#gb)"/><circle cx="1140.5" cy="1464.9" r="4.5" fill="url(#gr)"/><circle cx="1354.3" cy="1548.7" r="4.5" fill="url(#gb)"/><circle cx="1338" cy="1435" r="4.5" fill="url(#gb)"/><circle cx="1354.8" cy="1568.3" r="4.1" fill="#fff" stroke="#8c8c8c" stroke-width="1.2"/><circle cx="1268" cy="1548" r="4.1" fill="#fff" stroke="#8c8c8c" stroke-width="1.2"/><circle cx="1119.6" cy="1519.4" r="4.5" fill="url(#gr)"/><circle cx="1413.9" cy="1572.1" r="4.1" fill="#fff" stroke="#8c8c8c" stroke-width="1.2"/><circle cx="1109" cy="1611.3" r="4.1" fill="#fff" stroke="#8c8c8c" stroke-width="1.2"/><circle cx="1409.9" cy="1471.5" r="4.5" fill="url(#gb)"/><circle cx="1126" cy="1501.1" r="4.5" fill="url(#gr)"/><circle cx="1253.6" cy="1553" r="4.5" fill="url(#gb)"/><circle cx="1116.8" cy="1514" r="4.5" fill="url(#gr)"/><circle cx="1110.1" cy="1474.4" r="4.5" fill="url(#gr)"/><circle cx="1547.8" cy="1552.7" r="4.1" fill="#fff" stroke="#8c8c8c" stroke-width="1.2"/><circle cx="1131.6" cy="1484.9" r="4.5" fill="url(#gr)"/><circle cx="1284.8" cy="1566.4" r="4.1" fill="#fff" stroke="#8c8c8c" stroke-width="1.2"/><circle cx="1416.7" cy="1611.7" r="4.5" fill="url(#gb)"/><circle cx="1366.5" cy="1488.4" r="4.5" fill="url(#gb)"/><circle cx="1300.5" cy="1562.7" r="4.5" fill="url(#gb)"/><circle cx="1154.7" cy="1440.4" r="4.5" fill="url(#gr)"/><circle cx="1111.5" cy="1476.3" r="4.5" fill="url(#gr)"/><circle cx="1529.7" cy="1568.1" r="4.5" fill="url(#gb)"/><circle cx="1435" cy="1518.9" r="4.5" fill="url(#gb)"/><circle cx="1406.6" cy="1478.1" r="4.1" fill="#fff" stroke="#8c8c8c" stroke-width="1.2"/><circle cx="1370.4" cy="1586.4" r="4.1" fill="#fff" stroke="#8c8c8c" stroke-width="1.2"/><circle cx="1377.1" cy="1574.6" r="4.1" fill="#fff" stroke="#8c8c8c" stroke-width="1.2"/><circle cx="1450.4" cy="1471.1" r="4.1" fill="#fff" stroke="#8c8c8c" stroke-width="1.2"/><circle cx="1379.1" cy="1529.8" r="4.5" fill="url(#gb)"/><circle cx="1478.8" cy="1497.1" r="4.5" fill="url(#gb)"/><circle cx="1450.8" cy="1548.9" r="4.1" fill="#fff" stroke="#8c8c8c" stroke-width="1.2"/><circle cx="1144.7" cy="1394.8" r="4.1" fill="#fff" stroke="#8c8c8c" stroke-width="1.2"/><circle cx="1157.2" cy="1561.2" r="4.5" fill="url(#gb)"/><circle cx="1418.2" cy="1439.8" r="4.5" fill="url(#gb)"/><circle cx="1405.8" cy="1558" r="4.1" fill="#fff" stroke="#8c8c8c" stroke-width="1.2"/><circle cx="1470.5" cy="1495" r="4.5" fill="url(#gb)"/><circle cx="1468.1" cy="1568.9" r="4.5" fill="url(#gb)"/><circle cx="1473.7" cy="1556.7" r="4.1" fill="#fff" stroke="#8c8c8c" stroke-width="1.2"/><circle cx="1414" cy="1467.2" r="4.1" fill="#fff" stroke="#8c8c8c" stroke-width="1.2"/><circle cx="1501.6" cy="1556" r="4.1" fill="#fff" stroke="#8c8c8c" stroke-width="1.2"/><circle cx="1397.2" cy="1479.6" r="4.5" fill="url(#gb)"/><circle cx="1165.9" cy="1358.8" r="4.5" fill="url(#gr)"/><circle cx="1137.4" cy="1395.1" r="4.5" fill="url(#gr)"/><circle cx="1120.6" cy="1471.4" r="4.5" fill="url(#gr)"/><circle cx="1218.3" cy="1614.5" r="4.5" fill="url(#gb)"/><circle cx="1406.8" cy="1535.2" r="4.1" fill="#fff" stroke="#8c8c8c" stroke-width="1.2"/><circle cx="1547.2" cy="1557.8" r="4.1" fill="#fff" stroke="#8c8c8c" stroke-width="1.2"/><circle cx="1341.2" cy="1536.8" r="4.1" fill="#fff" stroke="#8c8c8c" stroke-width="1.2"/><circle cx="1366.2" cy="1580.9" r="4.1" fill="#fff" stroke="#8c8c8c" stroke-width="1.2"/><circle cx="1326.2" cy="1478.8" r="4.5" fill="url(#gb)"/><circle cx="1138.3" cy="1424.6" r="4.1" fill="#fff" stroke="#8c8c8c" stroke-width="1.2"/><circle cx="1508.9" cy="1541.1" r="4.1" fill="#fff" stroke="#8c8c8c" stroke-width="1.2"/><circle cx="1138.3" cy="1465.6" r="4.5" fill="url(#gr)"/><circle cx="1513.8" cy="1638.4" r="4.1" fill="#fff" stroke="#8c8c8c" stroke-width="1.2"/><circle cx="1123.5" cy="1521.6" r="4.5" fill="url(#gr)"/><circle cx="1537.2" cy="1488" r="4.5" fill="url(#gb)"/><circle cx="1115.5" cy="1531.2" r="4.1" fill="#fff" stroke="#8c8c8c" stroke-width="1.2"/><circle cx="1384.4" cy="1484.6" r="4.5" fill="url(#gb)"/><circle cx="1145.7" cy="1362.7" r="4.5" fill="url(#gb)"/><circle cx="1360.5" cy="1514" r="4.5" fill="url(#gb)"/><circle cx="1099.1" cy="1575.8" r="4.5" fill="url(#gr)"/><circle cx="1341.1" cy="1559.8" r="4.1" fill="#fff" stroke="#8c8c8c" stroke-width="1.2"/><circle cx="1099.6" cy="1573.2" r="4.5" fill="url(#gr)"/><circle cx="1400.4" cy="1629.6" r="4.1" fill="#fff" stroke="#8c8c8c" stroke-width="1.2"/><circle cx="1578.3" cy="1644.7" r="4.1" fill="#fff" stroke="#8c8c8c" stroke-width="1.2"/><circle cx="1504.4" cy="1568.1" r="4.1" fill="#fff" stroke="#8c8c8c" stroke-width="1.2"/><circle cx="1456.7" cy="1544.2" r="4.1" fill="#fff" stroke="#8c8c8c" stroke-width="1.2"/><circle cx="1512.7" cy="1638.1" r="4.1" fill="#fff" stroke="#8c8c8c" stroke-width="1.2"/><circle cx="1514.8" cy="1531.1" r="4.1" fill="#fff" stroke="#8c8c8c" stroke-width="1.2"/><circle cx="1143.5" cy="1457.7" r="4.5" fill="url(#gr)"/><circle cx="1495.2" cy="1668.6" r="4.1" fill="#fff" stroke="#8c8c8c" stroke-width="1.2"/><circle cx="1536.8" cy="1649.8" r="4.5" fill="url(#gb)"/><circle cx="1141.3" cy="1399.3" r="4.1" fill="#fff" stroke="#8c8c8c" stroke-width="1.2"/><circle cx="1576.2" cy="1689.6" r="4.1" fill="#fff" stroke="#8c8c8c" stroke-width="1.2"/><circle cx="1131.3" cy="1462.4" r="4.5" fill="url(#gr)"/><circle cx="1411.5" cy="1651.2" r="4.1" fill="#fff" stroke="#8c8c8c" stroke-width="1.2"/><circle cx="1521.6" cy="1646.1" r="4.1" fill="#fff" stroke="#8c8c8c" stroke-width="1.2"/><circle cx="1170.2" cy="1437.8" r="4.5" fill="url(#gb)"/><circle cx="1522.8" cy="1663.2" r="4.5" fill="url(#gb)"/><circle cx="1511.5" cy="1705.8" r="4.1" fill="#fff" stroke="#8c8c8c" stroke-width="1.2"/><circle cx="1187.8" cy="1404.4" r="4.5" fill="url(#gb)"/><circle cx="1484.8" cy="1537.8" r="4.1" fill="#fff" stroke="#8c8c8c" stroke-width="1.2"/><circle cx="1419.1" cy="1486.1" r="4.5" fill="url(#gb)"/><circle cx="1291.9" cy="1548.1" r="4.5" fill="url(#gb)"/><circle cx="1308.1" cy="1508.4" r="4.5" fill="url(#gb)"/><circle cx="1505.3" cy="1475.1" r="4.5" fill="url(#gb)"/><circle cx="1154.7" cy="1414.5" r="4.5" fill="url(#gb)"/><circle cx="1499.7" cy="1497.9" r="4.1" fill="#fff" stroke="#8c8c8c" stroke-width="1.2"/><circle cx="1153.5" cy="1390.1" r="4.5" fill="url(#gb)"/><circle cx="1496.4" cy="1484.9" r="4.1" fill="#fff" stroke="#8c8c8c" stroke-width="1.2"/><circle cx="1119.9" cy="1510.1" r="4.1" fill="#fff" stroke="#8c8c8c" stroke-width="1.2"/><circle cx="1482.5" cy="1532.9" r="4.5" fill="url(#gb)"/><circle cx="1104.9" cy="1570.5" r="4.5" fill="url(#gr)"/><circle cx="1573" cy="1674.9" r="4.1" fill="#fff" stroke="#8c8c8c" stroke-width="1.2"/><circle cx="1484.1" cy="1519.1" r="4.5" fill="url(#gb)"/><circle cx="1160" cy="1389" r="4.1" fill="#fff" stroke="#8c8c8c" stroke-width="1.2"/><circle cx="1442" cy="1516.3" r="4.1" fill="#fff" stroke="#8c8c8c" stroke-width="1.2"/><circle cx="1141.2" cy="1397.5" r="4.1" fill="#fff" stroke="#8c8c8c" stroke-width="1.2"/><circle cx="1434.7" cy="1572.1" r="4.1" fill="#fff" stroke="#8c8c8c" stroke-width="1.2"/><circle cx="1127.2" cy="1465.9" r="4.5" fill="url(#gr)"/><circle cx="1562.4" cy="1644" r="4.5" fill="url(#gb)"/><circle cx="1128.1" cy="1490" r="4.5" fill="url(#gr)"/><circle cx="1477.9" cy="1646.6" r="4.1" fill="#fff" stroke="#8c8c8c" stroke-width="1.2"/><circle cx="1500.1" cy="1478.6" r="4.5" fill="url(#gb)"/><circle cx="1106.9" cy="1498.4" r="4.5" fill="url(#gr)"/><circle cx="1399.2" cy="1564.6" r="4.1" fill="#fff" stroke="#8c8c8c" stroke-width="1.2"/><circle cx="1444.1" cy="1548.6" r="4.5" fill="url(#gb)"/><circle cx="1397" cy="1526.5" r="4.1" fill="#fff" stroke="#8c8c8c" stroke-width="1.2"/><circle cx="1134.9" cy="1373.8" r="4.5" fill="url(#gr)"/><circle cx="1381" cy="1502.6" r="4.5" fill="url(#gb)"/><circle cx="1497.7" cy="1547" r="4.1" fill="#fff" stroke="#8c8c8c" stroke-width="1.2"/><circle cx="1406.7" cy="1492.7" r="4.1" fill="#fff" stroke="#8c8c8c" stroke-width="1.2"/><circle cx="1521.2" cy="1669.9" r="4.5" fill="url(#gb)"/><circle cx="1447.2" cy="1555.1" r="4.1" fill="#fff" stroke="#8c8c8c" stroke-width="1.2"/><circle cx="1529.7" cy="1649.8" r="4.1" fill="#fff" stroke="#8c8c8c" stroke-width="1.2"/><circle cx="1542.7" cy="1548.3" r="4.5" fill="url(#gb)"/><circle cx="1106.7" cy="1532.7" r="4.5" fill="url(#gr)"/><circle cx="1505.4" cy="1601.8" r="4.1" fill="#fff" stroke="#8c8c8c" stroke-width="1.2"/><circle cx="1499.8" cy="1578.4" r="4.1" fill="#fff" stroke="#8c8c8c" stroke-width="1.2"/><circle cx="1435.6" cy="1451.7" r="4.5" fill="url(#gb)"/><circle cx="1455.9" cy="1508.3" r="4.1" fill="#fff" stroke="#8c8c8c" stroke-width="1.2"/><circle cx="1154.9" cy="1372.7" r="4.1" fill="#fff" stroke="#8c8c8c" stroke-width="1.2"/><circle cx="1171.6" cy="1375.1" r="4.1" fill="#fff" stroke="#8c8c8c" stroke-width="1.2"/><circle cx="1521.3" cy="1684.3" r="4.1" fill="#fff" stroke="#8c8c8c" stroke-width="1.2"/><circle cx="1460.6" cy="1537.6" r="4.1" fill="#fff" stroke="#8c8c8c" stroke-width="1.2"/><circle cx="1505.4" cy="1663.7" r="4.1" fill="#fff" stroke="#8c8c8c" stroke-width="1.2"/><circle cx="1405.4" cy="1578.7" r="4.1" fill="#fff" stroke="#8c8c8c" stroke-width="1.2"/><circle cx="1440.1" cy="1643.9" r="4.1" fill="#fff" stroke="#8c8c8c" stroke-width="1.2"/><circle cx="1425.1" cy="1493.8" r="4.5" fill="url(#gb)"/><circle cx="1254.3" cy="1570.3" r="4.5" fill="url(#gb)"/><circle cx="1118.8" cy="1497" r="4.5" fill="url(#gr)"/><circle cx="1529.9" cy="1655.1" r="4.1" fill="#fff" stroke="#8c8c8c" stroke-width="1.2"/><circle cx="1115.6" cy="1560.3" r="4.5" fill="url(#gr)"/><circle cx="1530.4" cy="1487" r="4.5" fill="url(#gb)"/><circle cx="1179.5" cy="1397.9" r="4.5" fill="url(#gr)"/><circle cx="1526.8" cy="1594.4" r="4.1" fill="#fff" stroke="#8c8c8c" stroke-width="1.2"/><circle cx="1400.9" cy="1504.9" r="4.1" fill="#fff" stroke="#8c8c8c" stroke-width="1.2"/><circle cx="1145.5" cy="1390.6" r="4.5" fill="url(#gr)"/><circle cx="1395.3" cy="1584.3" r="4.1" fill="#fff" stroke="#8c8c8c" stroke-width="1.2"/><circle cx="1358.9" cy="1519.8" r="4.5" fill="url(#gb)"/><circle cx="1488.3" cy="1479.6" r="4.5" fill="url(#gb)"/><circle cx="1437.3" cy="1531.1" r="4.1" fill="#fff" stroke="#8c8c8c" stroke-width="1.2"/><circle cx="1436.5" cy="1622" r="4.5" fill="url(#gb)"/><circle cx="1219.9" cy="1500.1" r="4.5" fill="url(#gb)"/><circle cx="1179.5" cy="1383.1" r="4.1" fill="#fff" stroke="#8c8c8c" stroke-width="1.2"/><circle cx="1421.3" cy="1522" r="4.5" fill="url(#gb)"/><circle cx="1271.6" cy="1553.3" r="4.1" fill="#fff" stroke="#8c8c8c" stroke-width="1.2"/><circle cx="1408.2" cy="1578.4" r="4.1" fill="#fff" stroke="#8c8c8c" stroke-width="1.2"/><circle cx="1106.3" cy="1499.6" r="4.5" fill="url(#gr)"/><circle cx="1492.6" cy="1492.9" r="4.5" fill="url(#gb)"/><circle cx="1219.4" cy="1615" r="4.5" fill="url(#gb)"/><circle cx="1229.6" cy="1371.9" r="4.5" fill="url(#gb)"/><circle cx="1519.3" cy="1653.9" r="4.1" fill="#fff" stroke="#8c8c8c" stroke-width="1.2"/><circle cx="1466" cy="1495.9" r="4.5" fill="url(#gb)"/><circle cx="1457.1" cy="1558.1" r="4.1" fill="#fff" stroke="#8c8c8c" stroke-width="1.2"/><circle cx="1111.7" cy="1680.9" r="4.5" fill="url(#gr)"/><circle cx="1432.9" cy="1443.8" r="4.5" fill="url(#gb)"/><circle cx="1508.2" cy="1559.4" r="4.1" fill="#fff" stroke="#8c8c8c" stroke-width="1.2"/><circle cx="1477.8" cy="1480.6" r="4.5" fill="url(#gb)"/><circle cx="1447.4" cy="1662.3" r="4.5" fill="url(#gb)"/><circle cx="1411.7" cy="1530.4" r="4.5" fill="url(#gb)"/><circle cx="1397.6" cy="1646.9" r="4.5" fill="url(#gb)"/><circle cx="1338.4" cy="1475.6" r="4.1" fill="#fff" stroke="#8c8c8c" stroke-width="1.2"/><circle cx="1263.4" cy="1577.7" r="4.5" fill="url(#gb)"/><circle cx="1135.8" cy="1374.7" r="4.5" fill="url(#gb)"/><circle cx="1100.4" cy="1535.9" r="4.5" fill="url(#gr)"/><circle cx="1422.5" cy="1532.3" r="4.1" fill="#fff" stroke="#8c8c8c" stroke-width="1.2"/><circle cx="1378.8" cy="1545.4" r="4.1" fill="#fff" stroke="#8c8c8c" stroke-width="1.2"/><circle cx="1300.9" cy="1486" r="4.1" fill="#fff" stroke="#8c8c8c" stroke-width="1.2"/><circle cx="1493.3" cy="1659.5" r="4.1" fill="#fff" stroke="#8c8c8c" stroke-width="1.2"/><circle cx="1494.2" cy="1492.2" r="4.1" fill="#fff" stroke="#8c8c8c" stroke-width="1.2"/><circle cx="1120.3" cy="1463.1" r="4.5" fill="url(#gr)"/><circle cx="1288.7" cy="1579.3" r="4.5" fill="url(#gb)"/><circle cx="1212.9" cy="1565.8" r="4.5" fill="url(#gb)"/><circle cx="1360.7" cy="1487.4" r="4.5" fill="url(#gb)"/><circle cx="1113.9" cy="1452.9" r="4.5" fill="url(#gr)"/><circle cx="1109" cy="1438.7" r="4.1" fill="#fff" stroke="#8c8c8c" stroke-width="1.2"/><circle cx="1096.9" cy="1635.4" r="4.5" fill="url(#gr)"/><circle cx="1116.4" cy="1604.8" r="4.5" fill="url(#gr)"/><circle cx="1522.8" cy="1674" r="4.1" fill="#fff" stroke="#8c8c8c" stroke-width="1.2"/><circle cx="1107.2" cy="1523.1" r="4.5" fill="url(#gr)"/><circle cx="1424" cy="1500.1" r="4.1" fill="#fff" stroke="#8c8c8c" stroke-width="1.2"/><circle cx="1482.1" cy="1483.9" r="4.1" fill="#fff" stroke="#8c8c8c" stroke-width="1.2"/><circle cx="1502" cy="1466.3" r="4.5" fill="url(#gb)"/><circle cx="1460.9" cy="1496.4" r="4.5" fill="url(#gb)"/><circle cx="1451" cy="1513.3" r="4.5" fill="url(#gb)"/><circle cx="1437.4" cy="1651.4" r="4.1" fill="#fff" stroke="#8c8c8c" stroke-width="1.2"/><circle cx="1284" cy="1512.8" r="4.5" fill="url(#gb)"/><circle cx="1451.1" cy="1577" r="4.1" fill="#fff" stroke="#8c8c8c" stroke-width="1.2"/><circle cx="1409.6" cy="1563.1" r="4.5" fill="url(#gb)"/><circle cx="1156.3" cy="1624.3" r="4.5" fill="url(#gr)"/><circle cx="1195.8" cy="1379" r="4.5" fill="url(#gb)"/><circle cx="1115.9" cy="1552.8" r="4.5" fill="url(#gr)"/><circle cx="1361.6" cy="1533.8" r="4.1" fill="#fff" stroke="#8c8c8c" stroke-width="1.2"/><circle cx="1565.7" cy="1651.3" r="4.5" fill="url(#gb)"/><circle cx="1128.8" cy="1523.6" r="4.5" fill="url(#gr)"/><circle cx="1356.9" cy="1520.9" r="4.5" fill="url(#gb)"/><circle cx="1385.8" cy="1496.2" r="4.5" fill="url(#gb)"/><circle cx="1300.5" cy="1521.4" r="4.1" fill="#fff" stroke="#8c8c8c" stroke-width="1.2"/><circle cx="1121.4" cy="1545.9" r="4.5" fill="url(#gr)"/><circle cx="1406.6" cy="1576.6" r="4.1" fill="#fff" stroke="#8c8c8c" stroke-width="1.2"/><circle cx="1532.4" cy="1602" r="4.1" fill="#fff" stroke="#8c8c8c" stroke-width="1.2"/><circle cx="1456.5" cy="1515.9" r="4.1" fill="#fff" stroke="#8c8c8c" stroke-width="1.2"/><circle cx="1152.6" cy="1366.2" r="4.5" fill="url(#gr)"/><circle cx="1313.4" cy="1525.9" r="4.1" fill="#fff" stroke="#8c8c8c" stroke-width="1.2"/><circle cx="1224.6" cy="1558.9" r="4.5" fill="url(#gb)"/><circle cx="1255.3" cy="1518" r="4.1" fill="#fff" stroke="#8c8c8c" stroke-width="1.2"/><circle cx="1415.2" cy="1549.2" r="4.5" fill="url(#gb)"/><circle cx="1152.8" cy="1381.6" r="4.5" fill="url(#gr)"/><circle cx="1459.5" cy="1511" r="4.5" fill="url(#gb)"/><circle cx="1552.2" cy="1690.2" r="4.1" fill="#fff" stroke="#8c8c8c" stroke-width="1.2"/><circle cx="1464.3" cy="1578.6" r="4.5" fill="url(#gb)"/><circle cx="1403.7" cy="1498.2" r="4.5" fill="url(#gb)"/><circle cx="1160.5" cy="1354.3" r="4.5" fill="url(#gb)"/><circle cx="1083" cy="1581.6" r="4.5" fill="url(#gr)"/><circle cx="1396" cy="1644.1" r="4.1" fill="#fff" stroke="#8c8c8c" stroke-width="1.2"/><circle cx="1203.6" cy="1491.6" r="4.1" fill="#fff" stroke="#8c8c8c" stroke-width="1.2"/><circle cx="1146.1" cy="1586.2" r="4.1" fill="#fff" stroke="#8c8c8c" stroke-width="1.2"/><circle cx="1114.4" cy="1523.3" r="4.5" fill="url(#gr)"/><circle cx="1545.5" cy="1531.5" r="4.1" fill="#fff" stroke="#8c8c8c" stroke-width="1.2"/><circle cx="1497.7" cy="1504.3" r="4.5" fill="url(#gb)"/><circle cx="1349.7" cy="1478.4" r="4.5" fill="url(#gb)"/><circle cx="1128.6" cy="1427" r="4.1" fill="#fff" stroke="#8c8c8c" stroke-width="1.2"/><circle cx="1133.8" cy="1518.2" r="4.5" fill="url(#gr)"/><circle cx="1188.4" cy="1356.7" r="4.5" fill="url(#gb)"/><circle cx="1231.2" cy="1566.7" r="4.5" fill="url(#gb)"/><circle cx="1453.2" cy="1453" r="4.5" fill="url(#gb)"/><circle cx="1120.8" cy="1472.6" r="4.5" fill="url(#gr)"/><circle cx="1124.5" cy="1533.7" r="4.5" fill="url(#gr)"/><circle cx="1403.7" cy="1645.8" r="4.5" fill="url(#gb)"/><circle cx="1530.8" cy="1530.4" r="4.1" fill="#fff" stroke="#8c8c8c" stroke-width="1.2"/><circle cx="1458.8" cy="1493.8" r="4.5" fill="url(#gb)"/><circle cx="1592" cy="1679" r="4.1" fill="#fff" stroke="#8c8c8c" stroke-width="1.2"/><circle cx="1109.1" cy="1511.8" r="4.1" fill="#fff" stroke="#8c8c8c" stroke-width="1.2"/><circle cx="1395.2" cy="1475.3" r="4.5" fill="url(#gb)"/><circle cx="1417.4" cy="1541.5" r="4.1" fill="#fff" stroke="#8c8c8c" stroke-width="1.2"/><circle cx="1455.9" cy="1454.5" r="4.1" fill="#fff" stroke="#8c8c8c" stroke-width="1.2"/><circle cx="1148.6" cy="1406.9" r="4.5" fill="url(#gr)"/><circle cx="1107.1" cy="1686.4" r="4.5" fill="url(#gr)"/><circle cx="1419.8" cy="1602.4" r="4.1" fill="#fff" stroke="#8c8c8c" stroke-width="1.2"/><circle cx="1554.1" cy="1587.1" r="4.1" fill="#fff" stroke="#8c8c8c" stroke-width="1.2"/><circle cx="1110.7" cy="1501" r="4.5" fill="url(#gr)"/><circle cx="1425.9" cy="1427" r="4.1" fill="#fff" stroke="#8c8c8c" stroke-width="1.2"/><circle cx="1153.3" cy="1394.2" r="4.1" fill="#fff" stroke="#8c8c8c" stroke-width="1.2"/><circle cx="1356.5" cy="1468.3" r="4.5" fill="url(#gb)"/><circle cx="1468.3" cy="1610.9" r="4.1" fill="#fff" stroke="#8c8c8c" stroke-width="1.2"/><circle cx="1516.3" cy="1664.1" r="4.1" fill="#fff" stroke="#8c8c8c" stroke-width="1.2"/><circle cx="1413.3" cy="1560.8" r="4.5" fill="url(#gb)"/><circle cx="1573" cy="1535.9" r="4.5" fill="url(#gb)"/><circle cx="1480.8" cy="1505.9" r="4.5" fill="url(#gb)"/><circle cx="1380.3" cy="1554.6" r="4.1" fill="#fff" stroke="#8c8c8c" stroke-width="1.2"/><circle cx="1137.5" cy="1489.8" r="4.5" fill="url(#gr)"/><circle cx="1575.9" cy="1567.8" r="4.1" fill="#fff" stroke="#8c8c8c" stroke-width="1.2"/><circle cx="1282" cy="1709.2" r="4.5" fill="url(#gb)"/><circle cx="1330.5" cy="1435.9" r="4.5" fill="url(#gb)"/><circle cx="1413.8" cy="1554.8" r="4.5" fill="url(#gb)"/><circle cx="1528.6" cy="1550.7" r="4.1" fill="#fff" stroke="#8c8c8c" stroke-width="1.2"/><circle cx="1167.4" cy="1409.1" r="4.5" fill="url(#gb)"/><circle cx="1137.7" cy="1416.9" r="4.5" fill="url(#gr)"/><circle cx="1106.4" cy="1559.7" r="4.5" fill="url(#gr)"/><circle cx="1511.7" cy="1554.5" r="4.1" fill="#fff" stroke="#8c8c8c" stroke-width="1.2"/><circle cx="1530.4" cy="1523.8" r="4.5" fill="url(#gb)"/><circle cx="1523.2" cy="1533.2" r="4.1" fill="#fff" stroke="#8c8c8c" stroke-width="1.2"/><circle cx="1254.1" cy="1543.9" r="4.5" fill="url(#gb)"/><circle cx="1336" cy="1483.2" r="4.5" fill="url(#gb)"/><circle cx="1407.1" cy="1583.1" r="4.5" fill="url(#gb)"/><circle cx="1387.6" cy="1480.5" r="4.5" fill="url(#gb)"/><circle cx="1086.2" cy="1578.5" r="4.1" fill="#fff" stroke="#8c8c8c" stroke-width="1.2"/><circle cx="1421.6" cy="1469.2" r="4.1" fill="#fff" stroke="#8c8c8c" stroke-width="1.2"/><circle cx="1448.5" cy="1551.1" r="4.1" fill="#fff" stroke="#8c8c8c" stroke-width="1.2"/><circle cx="1126.7" cy="1469.7" r="4.5" fill="url(#gr)"/><circle cx="1083" cy="1607.6" r="4.5" fill="url(#gr)"/><circle cx="1509.7" cy="1563.1" r="4.1" fill="#fff" stroke="#8c8c8c" stroke-width="1.2"/><circle cx="1560.4" cy="1650.1" r="4.1" fill="#fff" stroke="#8c8c8c" stroke-width="1.2"/><circle cx="1289.9" cy="1495.4" r="4.5" fill="url(#gb)"/><circle cx="1445.6" cy="1698.5" r="4.5" fill="url(#gb)"/><circle cx="1514.6" cy="1534.2" r="4.1" fill="#fff" stroke="#8c8c8c" stroke-width="1.2"/><circle cx="1126.6" cy="1388.6" r="4.1" fill="#fff" stroke="#8c8c8c" stroke-width="1.2"/><circle cx="1525.3" cy="1661.2" r="4.1" fill="#fff" stroke="#8c8c8c" stroke-width="1.2"/><circle cx="1543.6" cy="1586.3" r="4.1" fill="#fff" stroke="#8c8c8c" stroke-width="1.2"/><circle cx="1329.9" cy="1534.2" r="4.5" fill="url(#gb)"/><circle cx="1141.5" cy="1490.9" r="4.5" fill="url(#gr)"/><circle cx="1568.8" cy="1585" r="4.5" fill="url(#gb)"/><circle cx="1497.1" cy="1638.4" r="4.1" fill="#fff" stroke="#8c8c8c" stroke-width="1.2"/><circle cx="1372.4" cy="1493.4" r="4.5" fill="url(#gb)"/><circle cx="1462.8" cy="1518.2" r="4.5" fill="url(#gb)"/><circle cx="1439.3" cy="1520.5" r="4.1" fill="#fff" stroke="#8c8c8c" stroke-width="1.2"/><circle cx="1124.2" cy="1506.2" r="4.5" fill="url(#gr)"/><circle cx="1425.2" cy="1482.6" r="4.5" fill="url(#gb)"/><circle cx="1443.3" cy="1582.1" r="4.1" fill="#fff" stroke="#8c8c8c" stroke-width="1.2"/><circle cx="1451.2" cy="1620.1" r="4.1" fill="#fff" stroke="#8c8c8c" stroke-width="1.2"/><circle cx="1259.5" cy="1600.4" r="4.1" fill="#fff" stroke="#8c8c8c" stroke-width="1.2"/><circle cx="1113.2" cy="1544.2" r="4.5" fill="url(#gr)"/><circle cx="1515.5" cy="1545.7" r="4.5" fill="url(#gb)"/><circle cx="1154.8" cy="1362.3" r="4.5" fill="url(#gr)"/><circle cx="1530" cy="1663.7" r="4.1" fill="#fff" stroke="#8c8c8c" stroke-width="1.2"/><circle cx="1265.7" cy="1583.6" r="4.1" fill="#fff" stroke="#8c8c8c" stroke-width="1.2"/><circle cx="1317.4" cy="1539.1" r="4.1" fill="#fff" stroke="#8c8c8c" stroke-width="1.2"/><circle cx="1157" cy="1371" r="4.5" fill="url(#gr)"/><circle cx="1452.9" cy="1541.2" r="4.1" fill="#fff" stroke="#8c8c8c" stroke-width="1.2"/><circle cx="1125.1" cy="1426.4" r="4.1" fill="#fff" stroke="#8c8c8c" stroke-width="1.2"/><circle cx="1473.1" cy="1468.8" r="4.5" fill="url(#gb)"/><circle cx="1481.2" cy="1661" r="4.1" fill="#fff" stroke="#8c8c8c" stroke-width="1.2"/><circle cx="1485.2" cy="1579.8" r="4.1" fill="#fff" stroke="#8c8c8c" stroke-width="1.2"/><circle cx="1379.6" cy="1517.7" r="4.1" fill="#fff" stroke="#8c8c8c" stroke-width="1.2"/><circle cx="1418.5" cy="1651.4" r="4.1" fill="#fff" stroke="#8c8c8c" stroke-width="1.2"/><circle cx="1317.3" cy="1560.3" r="4.1" fill="#fff" stroke="#8c8c8c" stroke-width="1.2"/><circle cx="1537.5" cy="1664.9" r="4.5" fill="url(#gb)"/><circle cx="1352.2" cy="1515.2" r="4.5" fill="url(#gb)"/><circle cx="1516.5" cy="1569" r="4.1" fill="#fff" stroke="#8c8c8c" stroke-width="1.2"/><circle cx="1544" cy="1643.2" r="4.5" fill="url(#gb)"/><circle cx="1295.9" cy="1480.5" r="4.5" fill="url(#gb)"/><circle cx="1367.7" cy="1577.3" r="4.1" fill="#fff" stroke="#8c8c8c" stroke-width="1.2"/><circle cx="1289.6" cy="1502.7" r="4.5" fill="url(#gb)"/><circle cx="1115.8" cy="1553.5" r="4.5" fill="url(#gr)"/><circle cx="1385.4" cy="1554.7" r="4.1" fill="#fff" stroke="#8c8c8c" stroke-width="1.2"/><circle cx="1405.7" cy="1548.2" r="4.1" fill="#fff" stroke="#8c8c8c" stroke-width="1.2"/><circle cx="1437.4" cy="1532.3" r="4.5" fill="url(#gb)"/><circle cx="1556.5" cy="1682.7" r="4.1" fill="#fff" stroke="#8c8c8c" stroke-width="1.2"/><circle cx="1116.7" cy="1447.1" r="4.5" fill="url(#gr)"/><circle cx="1307" cy="1583.9" r="4.1" fill="#fff" stroke="#8c8c8c" stroke-width="1.2"/><circle cx="1538.1" cy="1638.7" r="4.1" fill="#fff" stroke="#8c8c8c" stroke-width="1.2"/><circle cx="1447.2" cy="1502" r="4.5" fill="url(#gb)"/><circle cx="1164.6" cy="1342.3" r="4.5" fill="url(#gb)"/><circle cx="1242.2" cy="1509.8" r="4.5" fill="url(#gb)"/><circle cx="1470.9" cy="1649.8" r="4.1" fill="#fff" stroke="#8c8c8c" stroke-width="1.2"/><circle cx="1506.6" cy="1626.8" r="4.1" fill="#fff" stroke="#8c8c8c" stroke-width="1.2"/><circle cx="1402.8" cy="1634.5" r="4.1" fill="#fff" stroke="#8c8c8c" stroke-width="1.2"/><circle cx="1413.8" cy="1658.4" r="4.1" fill="#fff" stroke="#8c8c8c" stroke-width="1.2"/><circle cx="1145.5" cy="1484.1" r="4.5" fill="url(#gr)"/><circle cx="1386.8" cy="1552.7" r="4.5" fill="url(#gb)"/><circle cx="1431.7" cy="1563.6" r="4.5" fill="url(#gb)"/><circle cx="1373.1" cy="1500.9" r="4.1" fill="#fff" stroke="#8c8c8c" stroke-width="1.2"/><circle cx="1473.1" cy="1504.3" r="4.1" fill="#fff" stroke="#8c8c8c" stroke-width="1.2"/><circle cx="1462.5" cy="1473.9" r="4.5" fill="url(#gb)"/><circle cx="1376.9" cy="1478" r="4.1" fill="#fff" stroke="#8c8c8c" stroke-width="1.2"/><circle cx="1498.3" cy="1628" r="4.1" fill="#fff" stroke="#8c8c8c" stroke-width="1.2"/><circle cx="1464.5" cy="1577.4" r="4.1" fill="#fff" stroke="#8c8c8c" stroke-width="1.2"/><circle cx="1584.5" cy="1651.1" r="4.1" fill="#fff" stroke="#8c8c8c" stroke-width="1.2"/><circle cx="1101.6" cy="1536" r="4.5" fill="url(#gr)"/><circle cx="1511.6" cy="1507" r="4.1" fill="#fff" stroke="#8c8c8c" stroke-width="1.2"/><circle cx="1138.5" cy="1472.4" r="4.5" fill="url(#gr)"/><circle cx="1407.3" cy="1550.7" r="4.5" fill="url(#gb)"/><circle cx="1364.4" cy="1596" r="4.1" fill="#fff" stroke="#8c8c8c" stroke-width="1.2"/><circle cx="1538.6" cy="1563" r="4.1" fill="#fff" stroke="#8c8c8c" stroke-width="1.2"/><circle cx="1113.9" cy="1459.6" r="4.5" fill="url(#gr)"/><circle cx="1324.3" cy="1542.6" r="4.5" fill="url(#gb)"/><circle cx="1099.9" cy="1569" r="4.5" fill="url(#gr)"/><circle cx="1116.4" cy="1596.4" r="4.1" fill="#fff" stroke="#8c8c8c" stroke-width="1.2"/><circle cx="1127.9" cy="1498.9" r="4.5" fill="url(#gr)"/><circle cx="1358.5" cy="1548" r="4.1" fill="#fff" stroke="#8c8c8c" stroke-width="1.2"/><circle cx="1483.7" cy="1531.7" r="4.1" fill="#fff" stroke="#8c8c8c" stroke-width="1.2"/><circle cx="1597" cy="1558" r="4.1" fill="#fff" stroke="#8c8c8c" stroke-width="1.2"/><circle cx="1312.9" cy="1550.7" r="4.1" fill="#fff" stroke="#8c8c8c" stroke-width="1.2"/><circle cx="1409.8" cy="1555.3" r="4.1" fill="#fff" stroke="#8c8c8c" stroke-width="1.2"/><circle cx="1141.8" cy="1492.5" r="4.5" fill="url(#gr)"/><circle cx="1423.3" cy="1584.1" r="4.5" fill="url(#gb)"/><circle cx="1341.8" cy="1567.9" r="4.5" fill="url(#gb)"/><circle cx="1381.1" cy="1539.8" r="4.5" fill="url(#gb)"/><circle cx="1135.6" cy="1460.9" r="4.5" fill="url(#gr)"/><circle cx="1360.3" cy="1655.4" r="4.5" fill="url(#gb)"/><circle cx="1124.7" cy="1423.5" r="4.5" fill="url(#gb)"/><circle cx="1430.3" cy="1563.5" r="4.1" fill="#fff" stroke="#8c8c8c" stroke-width="1.2"/><circle cx="1385" cy="1525.6" r="4.5" fill="url(#gb)"/><circle cx="1110.4" cy="1528.4" r="4.5" fill="url(#gr)"/><circle cx="1561.8" cy="1645.3" r="4.1" fill="#fff" stroke="#8c8c8c" stroke-width="1.2"/><circle cx="1113" cy="1512.8" r="4.5" fill="url(#gr)"/><circle cx="1287.4" cy="1502.3" r="4.5" fill="url(#gb)"/><circle cx="1392.8" cy="1642.6" r="4.1" fill="#fff" stroke="#8c8c8c" stroke-width="1.2"/><circle cx="1377.8" cy="1640.6" r="4.1" fill="#fff" stroke="#8c8c8c" stroke-width="1.2"/><circle cx="1449.7" cy="1498.2" r="4.1" fill="#fff" stroke="#8c8c8c" stroke-width="1.2"/><circle cx="1271.9" cy="1488.5" r="4.5" fill="url(#gb)"/><circle cx="1147" cy="1479.6" r="4.5" fill="url(#gr)"/><circle cx="1496.1" cy="1557.2" r="4.5" fill="url(#gb)"/><circle cx="1149.8" cy="1448" r="4.5" fill="url(#gr)"/><circle cx="1498.8" cy="1518.3" r="4.1" fill="#fff" stroke="#8c8c8c" stroke-width="1.2"/><circle cx="1562.4" cy="1657.5" r="4.1" fill="#fff" stroke="#8c8c8c" stroke-width="1.2"/><circle cx="1530.6" cy="1531.5" r="4.5" fill="url(#gb)"/><circle cx="1384.3" cy="1476.4" r="4.5" fill="url(#gb)"/><circle cx="1449.4" cy="1579.9" r="4.5" fill="url(#gb)"/><circle cx="1112.6" cy="1533" r="4.5" fill="url(#gr)"/><circle cx="1223.8" cy="1532.6" r="4.5" fill="url(#gb)"/><circle cx="1490.8" cy="1580.9" r="4.1" fill="#fff" stroke="#8c8c8c" stroke-width="1.2"/><circle cx="1120.5" cy="1511.4" r="4.5" fill="url(#gr)"/><circle cx="1447.1" cy="1645.3" r="4.1" fill="#fff" stroke="#8c8c8c" stroke-width="1.2"/><circle cx="1103.4" cy="1452.7" r="4.1" fill="#fff" stroke="#8c8c8c" stroke-width="1.2"/><circle cx="1405.7" cy="1470.4" r="4.5" fill="url(#gb)"/><circle cx="1173.9" cy="1499" r="4.1" fill="#fff" stroke="#8c8c8c" stroke-width="1.2"/><circle cx="1446.3" cy="1463.6" r="4.5" fill="url(#gb)"/><circle cx="1492.9" cy="1535.6" r="4.5" fill="url(#gb)"/><circle cx="1462.4" cy="1603" r="4.1" fill="#fff" stroke="#8c8c8c" stroke-width="1.2"/><circle cx="1529.2" cy="1654.2" r="4.1" fill="#fff" stroke="#8c8c8c" stroke-width="1.2"/><circle cx="1452.9" cy="1540" r="4.1" fill="#fff" stroke="#8c8c8c" stroke-width="1.2"/><circle cx="1117.2" cy="1538.3" r="4.5" fill="url(#gr)"/><circle cx="1123.9" cy="1534.2" r="4.5" fill="url(#gr)"/><circle cx="1119.9" cy="1557.3" r="4.1" fill="#fff" stroke="#8c8c8c" stroke-width="1.2"/><circle cx="1167.4" cy="1350.6" r="4.5" fill="url(#gb)"/><circle cx="1117.3" cy="1522.2" r="4.5" fill="url(#gr)"/><circle cx="1129.4" cy="1511.9" r="4.5" fill="url(#gr)"/><circle cx="1226.9" cy="1553.7" r="4.5" fill="url(#gb)"/><circle cx="1166.5" cy="1400.7" r="4.1" fill="#fff" stroke="#8c8c8c" stroke-width="1.2"/><circle cx="1138.7" cy="1460" r="4.5" fill="url(#gr)"/><circle cx="1283.9" cy="1529.3" r="4.5" fill="url(#gb)"/><circle cx="1397.6" cy="1528.6" r="4.1" fill="#fff" stroke="#8c8c8c" stroke-width="1.2"/><circle cx="1462.3" cy="1568.6" r="4.1" fill="#fff" stroke="#8c8c8c" stroke-width="1.2"/><circle cx="1652" cy="1518" r="4.1" fill="#fff" stroke="#8c8c8c" stroke-width="1.2"/><circle cx="1146.1" cy="1495.3" r="4.5" fill="url(#gb)"/><circle cx="1442.4" cy="1588.6" r="4.1" fill="#fff" stroke="#8c8c8c" stroke-width="1.2"/><circle cx="1444.2" cy="1510.3" r="4.1" fill="#fff" stroke="#8c8c8c" stroke-width="1.2"/><circle cx="1478.7" cy="1549.3" r="4.1" fill="#fff" stroke="#8c8c8c" stroke-width="1.2"/><circle cx="1337.1" cy="1554.2" r="4.5" fill="url(#gb)"/><circle cx="1150.7" cy="1454.6" r="4.5" fill="url(#gr)"/><circle cx="1436.1" cy="1586.2" r="4.1" fill="#fff" stroke="#8c8c8c" stroke-width="1.2"/><circle cx="1107.1" cy="1594.7" r="4.5" fill="url(#gr)"/><circle cx="1396.9" cy="1517.8" r="4.5" fill="url(#gb)"/><circle cx="1359.8" cy="1482.6" r="4.5" fill="url(#gb)"/><circle cx="1105.4" cy="1529.4" r="4.5" fill="url(#gr)"/><circle cx="1465.6" cy="1554.2" r="4.5" fill="url(#gb)"/><circle cx="1123.4" cy="1543.7" r="4.5" fill="url(#gr)"/><circle cx="1466.3" cy="1539" r="4.5" fill="url(#gb)"/><circle cx="1174.8" cy="1559.7" r="4.5" fill="url(#gb)"/><circle cx="1117.8" cy="1530.9" r="4.5" fill="url(#gr)"/><circle cx="1325.9" cy="1525.3" r="4.5" fill="url(#gb)"/><circle cx="1575.6" cy="1669.1" r="4.1" fill="#fff" stroke="#8c8c8c" stroke-width="1.2"/><circle cx="1110.4" cy="1579.2" r="4.5" fill="url(#gr)"/><circle cx="1540.3" cy="1718.7" r="4.5" fill="url(#gb)"/><circle cx="1382.8" cy="1485.4" r="4.5" fill="url(#gb)"/><circle cx="1095.8" cy="1549.2" r="4.5" fill="url(#gr)"/><circle cx="1461.8" cy="1466.8" r="4.5" fill="url(#gb)"/><circle cx="1479.1" cy="1548" r="4.1" fill="#fff" stroke="#8c8c8c" stroke-width="1.2"/><circle cx="1111.5" cy="1520.9" r="4.5" fill="url(#gr)"/><circle cx="1155.7" cy="1616.8" r="4.5" fill="url(#gb)"/><circle cx="1113.9" cy="1553.4" r="4.5" fill="url(#gr)"/><circle cx="1111.5" cy="1528.2" r="4.5" fill="url(#gr)"/><circle cx="1358.8" cy="1541.6" r="4.1" fill="#fff" stroke="#8c8c8c" stroke-width="1.2"/><circle cx="1422.2" cy="1504" r="4.5" fill="url(#gb)"/><circle cx="1486" cy="1473.4" r="4.5" fill="url(#gb)"/><circle cx="1125.7" cy="1709.2" r="4.5" fill="url(#gr)"/><circle cx="1116.8" cy="1559.8" r="4.1" fill="#fff" stroke="#8c8c8c" stroke-width="1.2"/><circle cx="1378.7" cy="1439.6" r="4.5" fill="url(#gb)"/><circle cx="1151.1" cy="1399.5" r="4.5" fill="url(#gr)"/><circle cx="1487.3" cy="1520.5" r="4.5" fill="url(#gb)"/><circle cx="1475.3" cy="1545.7" r="4.1" fill="#fff" stroke="#8c8c8c" stroke-width="1.2"/><circle cx="1413.7" cy="1583.4" r="4.1" fill="#fff" stroke="#8c8c8c" stroke-width="1.2"/><circle cx="1458.5" cy="1698.5" r="4.5" fill="url(#gb)"/><circle cx="1494.1" cy="1678.2" r="4.1" fill="#fff" stroke="#8c8c8c" stroke-width="1.2"/><circle cx="1376.2" cy="1519.5" r="4.1" fill="#fff" stroke="#8c8c8c" stroke-width="1.2"/><circle cx="1310.7" cy="1580.1" r="4.5" fill="url(#gb)"/><circle cx="1471.4" cy="1699.7" r="4.1" fill="#fff" stroke="#8c8c8c" stroke-width="1.2"/><circle cx="1112.6" cy="1460.2" r="4.5" fill="url(#gr)"/><circle cx="1417.4" cy="1543.6" r="4.1" fill="#fff" stroke="#8c8c8c" stroke-width="1.2"/><circle cx="1422.3" cy="1531.1" r="4.5" fill="url(#gb)"/><circle cx="1114.4" cy="1527" r="4.5" fill="url(#gr)"/><circle cx="1525.9" cy="1665.4" r="4.5" fill="url(#gb)"/><circle cx="1339.7" cy="1753.1" r="4.5" fill="url(#gb)"/><circle cx="1459.3" cy="1606.8" r="4.5" fill="url(#gb)"/><circle cx="1529.1" cy="1637.8" r="4.5" fill="url(#gb)"/><circle cx="1098.3" cy="1537.6" r="4.5" fill="url(#gr)"/><circle cx="1462.4" cy="1556.1" r="4.1" fill="#fff" stroke="#8c8c8c" stroke-width="1.2"/><circle cx="1391.4" cy="1469.9" r="4.5" fill="url(#gb)"/><circle cx="1419.5" cy="1580.4" r="4.1" fill="#fff" stroke="#8c8c8c" stroke-width="1.2"/><circle cx="1105.2" cy="1534.1" r="4.5" fill="url(#gr)"/><circle cx="1406.6" cy="1496.8" r="4.5" fill="url(#gb)"/><circle cx="1521.7" cy="1554.3" r="4.1" fill="#fff" stroke="#8c8c8c" stroke-width="1.2"/><circle cx="1477.8" cy="1574.9" r="4.1" fill="#fff" stroke="#8c8c8c" stroke-width="1.2"/><circle cx="1273.9" cy="1605" r="4.5" fill="url(#gb)"/><circle cx="1325.9" cy="1426.5" r="4.5" fill="url(#gb)"/><circle cx="1132.3" cy="1515.9" r="4.5" fill="url(#gr)"/><circle cx="1427.1" cy="1570.9" r="4.1" fill="#fff" stroke="#8c8c8c" stroke-width="1.2"/><circle cx="1152" cy="1356.1" r="4.5" fill="url(#gr)"/><circle cx="1403.2" cy="1593.1" r="4.5" fill="url(#gb)"/><circle cx="1453.1" cy="1472.2" r="4.5" fill="url(#gb)"/><circle cx="1355" cy="1486.2" r="4.5" fill="url(#gb)"/><circle cx="1126.6" cy="1442.5" r="4.5" fill="url(#gr)"/><circle cx="1096.2" cy="1588.8" r="4.5" fill="url(#gr)"/><circle cx="1379.6" cy="1424" r="4.5" fill="url(#gb)"/><circle cx="1105.3" cy="1521.9" r="4.5" fill="url(#gr)"/><circle cx="1539.9" cy="1521.2" r="4.5" fill="url(#gb)"/><circle cx="1264.2" cy="1549.9" r="4.5" fill="url(#gb)"/><circle cx="1500.6" cy="1642.6" r="4.1" fill="#fff" stroke="#8c8c8c" stroke-width="1.2"/><circle cx="1495.1" cy="1553.8" r="4.1" fill="#fff" stroke="#8c8c8c" stroke-width="1.2"/><circle cx="1518.6" cy="1552.1" r="4.1" fill="#fff" stroke="#8c8c8c" stroke-width="1.2"/><circle cx="1459.4" cy="1528.3" r="4.5" fill="url(#gb)"/><circle cx="1259.6" cy="1375.3" r="4.5" fill="url(#gb)"/><circle cx="1486.3" cy="1613.2" r="4.1" fill="#fff" stroke="#8c8c8c" stroke-width="1.2"/><circle cx="1439.6" cy="1664.3" r="4.1" fill="#fff" stroke="#8c8c8c" stroke-width="1.2"/><circle cx="1130.1" cy="1442.2" r="4.5" fill="url(#gr)"/><circle cx="1480.2" cy="1550.5" r="4.1" fill="#fff" stroke="#8c8c8c" stroke-width="1.2"/><circle cx="1451.3" cy="1479.1" r="4.1" fill="#fff" stroke="#8c8c8c" stroke-width="1.2"/><circle cx="1474.2" cy="1683.3" r="4.5" fill="url(#gb)"/><circle cx="1443.5" cy="1567.9" r="4.1" fill="#fff" stroke="#8c8c8c" stroke-width="1.2"/><circle cx="1479.5" cy="1625.8" r="4.1" fill="#fff" stroke="#8c8c8c" stroke-width="1.2"/><circle cx="1139.6" cy="1514.8" r="4.5" fill="url(#gr)"/><circle cx="1393.8" cy="1547" r="4.5" fill="url(#gb)"/><circle cx="1479.4" cy="1476.1" r="4.5" fill="url(#gb)"/><circle cx="1365.9" cy="1520.4" r="4.5" fill="url(#gb)"/><circle cx="1152.5" cy="1374.7" r="4.1" fill="#fff" stroke="#8c8c8c" stroke-width="1.2"/><circle cx="1443.6" cy="1566.6" r="4.1" fill="#fff" stroke="#8c8c8c" stroke-width="1.2"/><circle cx="1509.2" cy="1683.1" r="4.1" fill="#fff" stroke="#8c8c8c" stroke-width="1.2"/><circle cx="1439.9" cy="1555" r="4.1" fill="#fff" stroke="#8c8c8c" stroke-width="1.2"/><circle cx="1569.5" cy="1516.5" r="4.1" fill="#fff" stroke="#8c8c8c" stroke-width="1.2"/><circle cx="1457.8" cy="1593.2" r="4.1" fill="#fff" stroke="#8c8c8c" stroke-width="1.2"/><circle cx="1450.1" cy="1484.5" r="4.5" fill="url(#gb)"/><circle cx="1462.5" cy="1557.2" r="4.1" fill="#fff" stroke="#8c8c8c" stroke-width="1.2"/><circle cx="1362.8" cy="1531.6" r="4.5" fill="url(#gb)"/><circle cx="1512.2" cy="1685.7" r="4.1" fill="#fff" stroke="#8c8c8c" stroke-width="1.2"/><circle cx="1149.8" cy="1386.2" r="4.5" fill="url(#gb)"/><circle cx="1486.8" cy="1559" r="4.5" fill="url(#gb)"/><circle cx="1520.4" cy="1530.9" r="4.1" fill="#fff" stroke="#8c8c8c" stroke-width="1.2"/><circle cx="1173.1" cy="1734.2" r="4.5" fill="url(#gb)"/><circle cx="1522.1" cy="1653.1" r="4.5" fill="url(#gb)"/><circle cx="1477.6" cy="1582.9" r="4.1" fill="#fff" stroke="#8c8c8c" stroke-width="1.2"/><circle cx="1141.4" cy="1473.1" r="4.5" fill="url(#gb)"/><circle cx="1388.9" cy="1625.1" r="4.1" fill="#fff" stroke="#8c8c8c" stroke-width="1.2"/><circle cx="1389.4" cy="1557.2" r="4.5" fill="url(#gb)"/><circle cx="1121.7" cy="1535.3" r="4.5" fill="url(#gr)"/><circle cx="1402.8" cy="1430.4" r="4.5" fill="url(#gb)"/><circle cx="1493.6" cy="1609.5" r="4.1" fill="#fff" stroke="#8c8c8c" stroke-width="1.2"/><circle cx="1099.8" cy="1560.9" r="4.5" fill="url(#gr)"/><circle cx="1501.2" cy="1544.1" r="4.1" fill="#fff" stroke="#8c8c8c" stroke-width="1.2"/><circle cx="1424" cy="1715.7" r="4.5" fill="url(#gb)"/><circle cx="1507.2" cy="1684.1" r="4.1" fill="#fff" stroke="#8c8c8c" stroke-width="1.2"/><circle cx="1513.1" cy="1641.4" r="4.1" fill="#fff" stroke="#8c8c8c" stroke-width="1.2"/><circle cx="1123.6" cy="1489.6" r="4.5" fill="url(#gr)"/><circle cx="1162.8" cy="1602" r="4.5" fill="url(#gr)"/><circle cx="1396.1" cy="1543.5" r="4.5" fill="url(#gb)"/><circle cx="1539.6" cy="1574.5" r="4.1" fill="#fff" stroke="#8c8c8c" stroke-width="1.2"/><circle cx="1347.8" cy="1493.8" r="4.5" fill="url(#gb)"/><circle cx="1154.4" cy="1350.6" r="4.5" fill="url(#gr)"/><circle cx="1392.7" cy="1484.2" r="4.5" fill="url(#gb)"/><circle cx="1476.9" cy="1564.4" r="4.1" fill="#fff" stroke="#8c8c8c" stroke-width="1.2"/><circle cx="1525.6" cy="1689.4" r="4.5" fill="url(#gb)"/><circle cx="1391.9" cy="1501.5" r="4.5" fill="url(#gb)"/><circle cx="1540.7" cy="1646" r="4.1" fill="#fff" stroke="#8c8c8c" stroke-width="1.2"/><circle cx="1133.1" cy="1492.8" r="4.5" fill="url(#gr)"/><circle cx="1612" cy="1679" r="4.1" fill="#fff" stroke="#8c8c8c" stroke-width="1.2"/><circle cx="1098" cy="1573.6" r="4.5" fill="url(#gr)"/><circle cx="1221.2" cy="1388.3" r="4.5" fill="url(#gb)"/><circle cx="1481.5" cy="1539" r="4.5" fill="url(#gb)"/><circle cx="1363.6" cy="1609.5" r="4.1" fill="#fff" stroke="#8c8c8c" stroke-width="1.2"/><circle cx="1167.3" cy="1391.9" r="4.1" fill="#fff" stroke="#8c8c8c" stroke-width="1.2"/><circle cx="1415.2" cy="1572.3" r="4.5" fill="url(#gb)"/><circle cx="1487.4" cy="1511.3" r="4.5" fill="url(#gb)"/><circle cx="1444.6" cy="1456.2" r="4.5" fill="url(#gb)"/><circle cx="1502" cy="1613.6" r="4.1" fill="#fff" stroke="#8c8c8c" stroke-width="1.2"/><circle cx="1524" cy="1681.1" r="4.1" fill="#fff" stroke="#8c8c8c" stroke-width="1.2"/><circle cx="1439.3" cy="1572.6" r="4.1" fill="#fff" stroke="#8c8c8c" stroke-width="1.2"/><circle cx="1120.7" cy="1547.8" r="4.5" fill="url(#gr)"/><circle cx="1438" cy="1471.8" r="4.5" fill="url(#gb)"/><circle cx="1125.5" cy="1521.9" r="4.5" fill="url(#gr)"/></g>
<text x="1087" y="1860" font-size="27" font-weight="bold" font-style="italic">FUT2</text>
<text x="1166" y="1860" font-size="27" font-weight="bold" letter-spacing="3">rs601338</text>
<circle cx="1098" cy="1885" r="10.8" fill="#fff" stroke="#000" stroke-width="3"/>
<text x="1116" y="1893" font-size="23.4" textLength="396" lengthAdjust="spacingAndGlyphs">GG (N=386) – homozygous secretors</text>
<circle cx="1098" cy="1925" r="10.8" fill="#0000ff" stroke="#000" stroke-width="3"/>
<text x="1116" y="1933" font-size="23.4" textLength="403" lengthAdjust="spacingAndGlyphs">GA (N=401) – heterozygous secretors</text>
<circle cx="1098" cy="1966.6" r="10.8" fill="#ff0000" stroke="#000" stroke-width="3"/>
<text x="1116" y="1974.6" font-size="23.4" textLength="297.8" lengthAdjust="spacingAndGlyphs">AA (N=193) – non-secretors</text>
<circle cx="956" cy="2074.3" r="11.7" fill="#0000FF" stroke="#000" stroke-width="2.3"/>
<text x="981.6" y="2082.3" font-size="22.5" letter-spacing="2.9">Glucose</text>
<circle cx="956" cy="2111" r="11.7" fill="#FFFF00" stroke="#000" stroke-width="2.3"/>
<text x="981.6" y="2119" font-size="22.5" letter-spacing="2.9">Galactose</text>
<rect x="943" y="2132.5" width="26" height="26" fill="#0000FF" stroke="#000" stroke-width="2.2"/>
<text x="981.6" y="2153.2" font-size="22.5" letter-spacing="2.9">N-acetylglucosamine</text>
<polygon points="955.8,2166 969.3,2191 942.3,2191" fill="#FF0000" stroke="#000" stroke-width="2.3" stroke-linejoin="miter"/>
<text x="981.6" y="2186.5" font-size="22.5" letter-spacing="2.9">Fucose</text>
<polygon points="955.8,2199.2 969.3,2212.7 955.8,2226.2 942.3,2212.7" fill="#8063A9" stroke="#000" stroke-width="2.3"/>
<text x="981.6" y="2220.7" font-size="22.5" letter-spacing="2.9">Sialic acid (N-acetylneuraminic acid)</text>
</svg></body></html>
